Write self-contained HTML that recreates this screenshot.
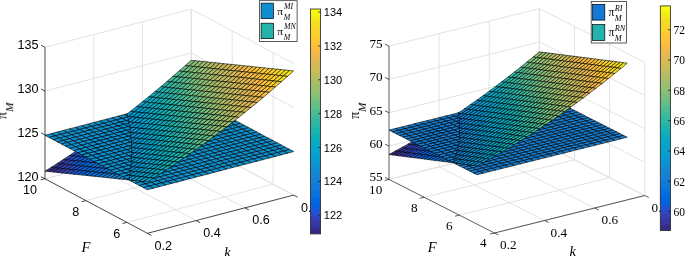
<!DOCTYPE html>
<html><head><meta charset="utf-8"><style>
html,body{margin:0;padding:0;background:#fff;}
svg{display:block;}
text{will-change:transform;}
</style></head><body>
<svg width="685" height="256" viewBox="0 0 685 256">
<rect width="685" height="256" fill="#fff"/>
<line x1="93.74" y1="166.07" x2="93.74" y2="34.56" stroke="#e0e0e0" stroke-width="0.9"/>
<line x1="196.14" y1="220.57" x2="93.74" y2="166.07" stroke="#e0e0e0" stroke-width="0.9"/>
<line x1="142.48" y1="153.33" x2="142.48" y2="21.83" stroke="#e0e0e0" stroke-width="0.9"/>
<line x1="244.88" y1="207.83" x2="142.48" y2="153.33" stroke="#e0e0e0" stroke-width="0.9"/>
<line x1="191.22" y1="140.6" x2="191.22" y2="9.09" stroke="#e0e0e0" stroke-width="0.9"/>
<line x1="293.62" y1="195.1" x2="191.22" y2="140.6" stroke="#e0e0e0" stroke-width="0.9"/>
<line x1="45" y1="178.8" x2="191.22" y2="140.6" stroke="#e0e0e0" stroke-width="0.9"/>
<line x1="293.62" y1="195.1" x2="191.22" y2="140.6" stroke="#e0e0e0" stroke-width="0.9"/>
<line x1="45" y1="134.97" x2="191.22" y2="96.76" stroke="#e0e0e0" stroke-width="0.9"/>
<line x1="293.62" y1="151.26" x2="191.22" y2="96.76" stroke="#e0e0e0" stroke-width="0.9"/>
<line x1="45" y1="91.13" x2="191.22" y2="52.93" stroke="#e0e0e0" stroke-width="0.9"/>
<line x1="293.62" y1="107.43" x2="191.22" y2="52.93" stroke="#e0e0e0" stroke-width="0.9"/>
<line x1="45" y1="47.3" x2="191.22" y2="9.09" stroke="#e0e0e0" stroke-width="0.9"/>
<line x1="293.62" y1="63.59" x2="191.22" y2="9.09" stroke="#e0e0e0" stroke-width="0.9"/>
<line x1="273.14" y1="184.2" x2="273.14" y2="52.69" stroke="#e0e0e0" stroke-width="0.9"/>
<line x1="126.92" y1="222.4" x2="273.14" y2="184.2" stroke="#e0e0e0" stroke-width="0.9"/>
<line x1="232.18" y1="162.4" x2="232.18" y2="30.89" stroke="#e0e0e0" stroke-width="0.9"/>
<line x1="85.96" y1="200.6" x2="232.18" y2="162.4" stroke="#e0e0e0" stroke-width="0.9"/>
<line x1="191.22" y1="140.6" x2="191.22" y2="9.09" stroke="#e0e0e0" stroke-width="0.9"/>
<line x1="45" y1="178.8" x2="191.22" y2="140.6" stroke="#e0e0e0" stroke-width="0.9"/>
<line x1="45" y1="178.8" x2="45" y2="47.3" stroke="#262626" stroke-width="0.85"/>
<line x1="45" y1="178.8" x2="147.4" y2="233.3" stroke="#262626" stroke-width="0.85"/>
<line x1="147.4" y1="233.3" x2="293.62" y2="195.1" stroke="#262626" stroke-width="0.85"/>
<line x1="45" y1="178.8" x2="41.03" y2="176.69" stroke="#262626" stroke-width="0.85"/>
<line x1="45" y1="134.97" x2="41.03" y2="132.85" stroke="#262626" stroke-width="0.85"/>
<line x1="45" y1="91.13" x2="41.03" y2="89.02" stroke="#262626" stroke-width="0.85"/>
<line x1="45" y1="47.3" x2="41.03" y2="45.18" stroke="#262626" stroke-width="0.85"/>
<line x1="126.92" y1="222.4" x2="122.57" y2="223.54" stroke="#262626" stroke-width="0.85"/>
<line x1="85.96" y1="200.6" x2="81.61" y2="201.74" stroke="#262626" stroke-width="0.85"/>
<line x1="45" y1="178.8" x2="40.65" y2="179.94" stroke="#262626" stroke-width="0.85"/>
<line x1="147.4" y1="233.3" x2="151.37" y2="235.41" stroke="#262626" stroke-width="0.85"/>
<line x1="196.14" y1="220.57" x2="200.11" y2="222.68" stroke="#262626" stroke-width="0.85"/>
<line x1="244.88" y1="207.83" x2="248.85" y2="209.95" stroke="#262626" stroke-width="0.85"/>
<line x1="293.62" y1="195.1" x2="297.59" y2="197.21" stroke="#262626" stroke-width="0.85"/>
<g stroke="#000" stroke-width="0.6">
<polygon points="127.1,113.9 124.2,116.1 127.7,116.5" fill="#0c93d2"/>
<polygon points="122.2,121.2 127.8,116.9 127.7,116.5 124.2,116.1 118.1,120.8" fill="#108ed2"/>
<polygon points="116.1,125.8 122.2,121.2 118.1,120.8 112,125.4" fill="#1485d4"/>
<polygon points="126.3,121.6 128.4,120 127.8,116.9 122.2,121.2" fill="#108ed2"/>
<polygon points="110,130.3 116.1,125.8 112,125.4 105.9,129.9" fill="#127dd8"/>
<polygon points="120.2,126.2 126.3,121.6 122.2,121.2 116.1,125.8" fill="#1389d3"/>
<polygon points="128.4,120 126.3,121.6 128.8,121.9" fill="#0c93d2"/>
<polygon points="103.9,134.8 110,130.3 105.9,129.9 99.8,134.3" fill="#1079da"/>
<polygon points="114.1,130.7 120.2,126.2 116.1,125.8 110,130.3" fill="#1481d6"/>
<polygon points="124.3,126.7 129,123.1 128.8,121.9 126.3,121.6 120.2,126.2" fill="#108ed2"/>
<polygon points="97.8,139.1 103.9,134.8 99.8,134.3 93.7,138.7" fill="#0871de"/>
<polygon points="108,135.2 114.1,130.7 110,130.3 103.9,134.8" fill="#127dd8"/>
<polygon points="118.2,131.2 124.3,126.7 120.2,126.2 114.1,130.7" fill="#1485d4"/>
<polygon points="91.7,143.4 97.8,139.1 93.7,138.7 87.6,143" fill="#046de0"/>
<polygon points="128.4,127.1 129.5,126.2 129,123.1 124.3,126.7" fill="#0c93d2"/>
<polygon points="101.9,139.6 108,135.2 103.9,134.8 97.8,139.1" fill="#0d75dc"/>
<polygon points="112.1,135.6 118.2,131.2 114.1,130.7 108,135.2" fill="#1481d6"/>
<polygon points="85.7,147.7 91.7,143.4 87.6,143 81.6,147.3" fill="#0363e1"/>
<polygon points="122.3,131.6 128.4,127.1 124.3,126.7 118.2,131.2" fill="#1389d3"/>
<polygon points="95.8,143.9 101.9,139.6 97.8,139.1 91.7,143.4" fill="#0871de"/>
<polygon points="129.5,126.2 128.4,127.1 129.7,127.2" fill="#0998d1"/>
<polygon points="106,140 112.1,135.6 108,135.2 101.9,139.6" fill="#1079da"/>
<polygon points="79.6,151.8 85.7,147.7 81.6,147.3 75.5,151.4" fill="#0f5cdd"/>
<polygon points="116.2,136 122.3,131.6 118.2,131.2 112.1,135.6" fill="#1485d4"/>
<polygon points="89.7,148.1 95.8,143.9 91.7,143.4 85.7,147.7" fill="#0268e1"/>
<polygon points="126.4,132 130,129.4 129.7,127.2 128.4,127.1 122.3,131.6" fill="#108ed2"/>
<polygon points="99.9,144.3 106,140 101.9,139.6 95.8,143.9" fill="#0d75dc"/>
<polygon points="73.5,155.9 79.6,151.8 75.5,151.4 69.4,155.5" fill="#2c4ac7"/>
<polygon points="110.1,140.4 116.2,136 112.1,135.6 106,140" fill="#127dd8"/>
<polygon points="83.7,152.3 89.7,148.1 85.7,147.7 79.6,151.8" fill="#0363e1"/>
<polygon points="120.3,136.5 126.4,132 122.3,131.6 116.2,136" fill="#1389d3"/>
<polygon points="93.8,148.5 99.9,144.3 95.8,143.9 89.7,148.1" fill="#046de0"/>
<polygon points="130,129.4 126.4,132 130.4,132.5" fill="#0c93d2"/>
<polygon points="67.4,160 73.5,155.9 69.4,155.5 63.3,159.5" fill="#3243ba"/>
<polygon points="104,144.7 110.1,140.4 106,140 99.9,144.3" fill="#1079da"/>
<polygon points="77.6,156.4 83.7,152.3 79.6,151.8 73.5,155.9" fill="#2053d4"/>
<polygon points="114.2,140.8 120.3,136.5 116.2,136 110.1,140.4" fill="#1481d6"/>
<polygon points="87.8,152.7 93.8,148.5 89.7,148.1 83.7,152.3" fill="#0268e1"/>
<polygon points="124.4,136.9 130.5,132.5 130.4,132.5 126.4,132 120.3,136.5" fill="#108ed2"/>
<polygon points="61.3,163.9 67.4,160 63.3,159.5 57.2,163.5" fill="#353dad"/>
<polygon points="97.9,149 104,144.7 99.9,144.3 93.8,148.5" fill="#0871de"/>
<polygon points="71.5,160.4 77.6,156.4 73.5,155.9 67.4,160" fill="#2c4ac7"/>
<polygon points="108.1,145.2 114.2,140.8 110.1,140.4 104,144.7" fill="#127dd8"/>
<polygon points="81.7,156.8 87.8,152.7 83.7,152.3 77.6,156.4" fill="#0f5cdd"/>
<polygon points="118.3,141.3 124.4,136.9 120.3,136.5 114.2,140.8" fill="#1485d4"/>
<polygon points="55.2,167.8 61.3,163.9 57.2,163.5 51.1,167.4" fill="#3637a0"/>
<polygon points="91.8,153.1 97.9,149 93.8,148.5 87.8,152.7" fill="#046de0"/>
<polygon points="128.5,137.3 130.8,135.6 130.5,132.5 124.4,136.9" fill="#108ed2"/>
<polygon points="65.4,164.3 71.5,160.4 67.4,160 61.3,163.9" fill="#3243ba"/>
<polygon points="102,149.4 108.1,145.2 104,144.7 97.9,149" fill="#0d75dc"/>
<polygon points="75.6,160.8 81.7,156.8 77.6,156.4 71.5,160.4" fill="#2053d4"/>
<polygon points="112.2,145.6 118.3,141.3 114.2,140.8 108.1,145.2" fill="#127dd8"/>
<polygon points="49.1,171.6 55.2,167.8 51.1,167.4 45,171.2" fill="#352a87"/>
<polygon points="85.8,157.2 91.8,153.1 87.8,152.7 81.7,156.8" fill="#0363e1"/>
<polygon points="122.4,141.7 128.5,137.3 124.4,136.9 118.3,141.3" fill="#1389d3"/>
<polygon points="59.3,168.2 65.4,164.3 61.3,163.9 55.2,167.8" fill="#353dad"/>
<polygon points="95.9,153.5 102,149.4 97.9,149 91.8,153.1" fill="#0871de"/>
<polygon points="130.8,135.6 128.5,137.3 131,137.6" fill="#0c93d2"/>
<polygon points="69.5,164.8 75.6,160.8 71.5,160.4 65.4,164.3" fill="#2c4ac7"/>
<polygon points="106.1,149.8 112.2,145.6 108.1,145.2 102,149.4" fill="#1079da"/>
<polygon points="79.7,161.2 85.8,157.2 81.7,156.8 75.6,160.8" fill="#0f5cdd"/>
<polygon points="116.3,146 122.4,141.7 118.3,141.3 112.2,145.6" fill="#1481d6"/>
<polygon points="53.2,172 59.3,168.2 55.2,167.8 49.1,171.6" fill="#363093"/>
<polygon points="89.9,157.6 95.9,153.5 91.8,153.1 85.8,157.2" fill="#0268e1"/>
<polygon points="126.5,142.1 131.1,138.8 131,137.6 128.5,137.3 122.4,141.7" fill="#108ed2"/>
<polygon points="63.4,168.6 69.5,164.8 65.4,164.3 59.3,168.2" fill="#353dad"/>
<polygon points="100,154 106.1,149.8 102,149.4 95.9,153.5" fill="#0d75dc"/>
<polygon points="73.6,165.2 79.7,161.2 75.6,160.8 69.5,164.8" fill="#2053d4"/>
<polygon points="110.2,150.2 116.3,146 112.2,145.6 106.1,149.8" fill="#127dd8"/>
<polygon points="83.8,161.7 89.9,157.6 85.8,157.2 79.7,161.2" fill="#0363e1"/>
<polygon points="120.4,146.4 126.5,142.1 122.4,141.7 116.3,146" fill="#1485d4"/>
<polygon points="57.3,172.5 63.4,168.6 59.3,168.2 53.2,172" fill="#3637a0"/>
<polygon points="93.9,158.1 100,154 95.9,153.5 89.9,157.6" fill="#046de0"/>
<polygon points="130.6,142.6 131.4,142 131.1,138.8 126.5,142.1" fill="#0c93d2"/>
<polygon points="67.5,169.1 73.6,165.2 69.5,164.8 63.4,168.6" fill="#3243ba"/>
<polygon points="104.1,154.4 110.2,150.2 106.1,149.8 100,154" fill="#1079da"/>
<polygon points="77.7,165.6 83.8,161.7 79.7,161.2 73.6,165.2" fill="#0f5cdd"/>
<polygon points="114.3,150.7 120.4,146.4 116.3,146 110.2,150.2" fill="#1481d6"/>
<polygon points="87.9,162.1 93.9,158.1 89.9,157.6 83.8,161.7" fill="#0268e1"/>
<polygon points="124.5,146.9 130.6,142.6 126.5,142.1 120.4,146.4" fill="#1389d3"/>
<polygon points="61.4,172.9 67.5,169.1 63.4,168.6 57.3,172.5" fill="#353dad"/>
<polygon points="98,158.5 104.1,154.4 100,154 93.9,158.1" fill="#0871de"/>
<polygon points="131.4,142 130.6,142.6 131.4,142.6" fill="#0998d1"/>
<polygon points="71.6,169.5 77.7,165.6 73.6,165.2 67.5,169.1" fill="#2c4ac7"/>
<polygon points="108.2,154.8 114.3,150.7 110.2,150.2 104.1,154.4" fill="#127dd8"/>
<polygon points="81.8,166 87.9,162.1 83.8,161.7 77.7,165.6" fill="#0363e1"/>
<polygon points="118.4,151.1 124.5,146.9 120.4,146.4 114.3,150.7" fill="#1485d4"/>
<polygon points="91.9,162.5 98,158.5 93.9,158.1 87.9,162.1" fill="#046de0"/>
<polygon points="128.6,147.3 131.6,145.2 131.4,142.6 130.6,142.6 124.5,146.9" fill="#108ed2"/>
<polygon points="65.5,173.3 71.6,169.5 67.5,169.1 61.4,172.9" fill="#3243ba"/>
<polygon points="102.1,158.9 108.2,154.8 104.1,154.4 98,158.5" fill="#0d75dc"/>
<polygon points="75.7,169.9 81.8,166 77.7,165.6 71.6,169.5" fill="#2053d4"/>
<polygon points="112.3,155.3 118.4,151.1 114.3,150.7 108.2,154.8" fill="#1481d6"/>
<polygon points="85.9,166.5 91.9,162.5 87.9,162.1 81.8,166" fill="#0268e1"/>
<polygon points="122.5,151.5 128.6,147.3 124.5,146.9 118.4,151.1" fill="#1389d3"/>
<polygon points="96,162.9 102.1,158.9 98,158.5 91.9,162.5" fill="#0871de"/>
<polygon points="131.6,145.2 128.6,147.3 131.7,147.6" fill="#0c93d2"/>
<polygon points="69.6,173.7 75.7,169.9 71.6,169.5 65.5,173.3" fill="#2c4ac7"/>
<polygon points="106.2,159.3 112.3,155.3 108.2,154.8 102.1,158.9" fill="#1079da"/>
<polygon points="79.8,170.3 85.9,166.5 81.8,166 75.7,169.9" fill="#0f5cdd"/>
<polygon points="116.4,155.7 122.5,151.5 118.4,151.1 112.3,155.3" fill="#1481d6"/>
<polygon points="90,166.9 96,162.9 91.9,162.5 85.9,166.5" fill="#046de0"/>
<polygon points="126.6,151.9 131.7,148.4 131.7,147.6 128.6,147.3 122.5,151.5" fill="#108ed2"/>
<polygon points="100.1,163.4 106.2,159.3 102.1,158.9 96,162.9" fill="#0d75dc"/>
<polygon points="73.7,174.2 79.8,170.3 75.7,169.9 69.6,173.7" fill="#2053d4"/>
<polygon points="110.3,159.8 116.4,155.7 112.3,155.3 106.2,159.3" fill="#127dd8"/>
<polygon points="83.9,170.8 90,166.9 85.9,166.5 79.8,170.3" fill="#0363e1"/>
<polygon points="120.5,156.1 126.6,151.9 122.5,151.5 116.4,155.7" fill="#1485d4"/>
<polygon points="94,167.3 100.1,163.4 96,162.9 90,166.9" fill="#0871de"/>
<polygon points="130.7,152.4 131.7,151.7 131.7,148.4 126.6,151.9" fill="#0c93d2"/>
<polygon points="104.2,163.8 110.3,159.8 106.2,159.3 100.1,163.4" fill="#1079da"/>
<polygon points="77.8,174.6 83.9,170.8 79.8,170.3 73.7,174.2" fill="#0f5cdd"/>
<polygon points="114.4,160.2 120.5,156.1 116.4,155.7 110.3,159.8" fill="#1481d6"/>
<polygon points="88,171.2 94,167.3 90,166.9 83.9,170.8" fill="#0268e1"/>
<polygon points="124.6,156.5 130.7,152.4 126.6,151.9 120.5,156.1" fill="#1389d3"/>
<polygon points="98.1,167.7 104.2,163.8 100.1,163.4 94,167.3" fill="#0871de"/>
<polygon points="131.7,151.7 130.7,152.4 131.8,152.5" fill="#0998d1"/>
<polygon points="108.3,164.2 114.4,160.2 110.3,159.8 104.2,163.8" fill="#127dd8"/>
<polygon points="81.9,175 88,171.2 83.9,170.8 77.8,174.6" fill="#0363e1"/>
<polygon points="118.5,160.6 124.6,156.5 120.5,156.1 114.4,160.2" fill="#1485d4"/>
<polygon points="92.1,171.6 98.1,167.7 94,167.3 88,171.2" fill="#046de0"/>
<polygon points="128.7,157 131.7,154.9 131.8,152.5 130.7,152.4 124.6,156.5" fill="#108ed2"/>
<polygon points="102.2,168.2 108.3,164.2 104.2,163.8 98.1,167.7" fill="#0d75dc"/>
<polygon points="112.4,164.7 118.5,160.6 114.4,160.2 108.3,164.2" fill="#1481d6"/>
<polygon points="86,175.4 92.1,171.6 88,171.2 81.9,175" fill="#0268e1"/>
<polygon points="122.6,161.1 128.7,157 124.6,156.5 118.5,160.6" fill="#1389d3"/>
<polygon points="96.1,172.1 102.2,168.2 98.1,167.7 92.1,171.6" fill="#0871de"/>
<polygon points="131.7,154.9 128.7,157 131.7,157.3" fill="#0c93d2"/>
<polygon points="106.3,168.6 112.4,164.7 108.3,164.2 102.2,168.2" fill="#1079da"/>
<polygon points="116.5,165.1 122.6,161.1 118.5,160.6 112.4,164.7" fill="#1485d4"/>
<polygon points="90.1,175.9 96.1,172.1 92.1,171.6 86,175.4" fill="#046de0"/>
<polygon points="126.7,161.5 131.6,158.2 131.7,157.3 128.7,157 122.6,161.1" fill="#108ed2"/>
<polygon points="100.2,172.5 106.3,168.6 102.2,168.2 96.1,172.1" fill="#0d75dc"/>
<polygon points="110.4,169 116.5,165.1 112.4,164.7 106.3,168.6" fill="#127dd8"/>
<polygon points="120.6,165.5 126.7,161.5 122.6,161.1 116.5,165.1" fill="#1389d3"/>
<polygon points="94.2,176.3 100.2,172.5 96.1,172.1 90.1,175.9" fill="#0871de"/>
<polygon points="130.8,161.9 131.4,161.5 131.6,158.2 126.7,161.5" fill="#0c93d2"/>
<polygon points="104.3,172.9 110.4,169 106.3,168.6 100.2,172.5" fill="#1079da"/>
<polygon points="114.5,169.5 120.6,165.5 116.5,165.1 110.4,169" fill="#1481d6"/>
<polygon points="124.7,165.9 130.8,161.9 126.7,161.5 120.6,165.5" fill="#108ed2"/>
<polygon points="98.2,176.7 104.3,172.9 100.2,172.5 94.2,176.3" fill="#0d75dc"/>
<polygon points="131.4,161.5 130.8,161.9 131.4,162" fill="#0998d1"/>
<polygon points="108.4,173.3 114.5,169.5 110.4,169 104.3,172.9" fill="#127dd8"/>
<polygon points="118.6,169.9 124.7,165.9 120.6,165.5 114.5,169.5" fill="#1485d4"/>
<polygon points="128.8,166.4 131.2,164.8 131.4,162 130.8,161.9 124.7,165.9" fill="#0c93d2"/>
<polygon points="102.3,177.1 108.4,173.3 104.3,172.9 98.2,176.7" fill="#1079da"/>
<polygon points="112.5,173.8 118.6,169.9 114.5,169.5 108.4,173.3" fill="#1481d6"/>
<polygon points="122.7,170.3 128.8,166.4 124.7,165.9 118.6,169.9" fill="#1389d3"/>
<polygon points="131.2,164.8 128.8,166.4 131,166.6" fill="#0998d1"/>
<polygon points="106.4,177.6 112.5,173.8 108.4,173.3 102.3,177.1" fill="#127dd8"/>
<polygon points="116.6,174.2 122.7,170.3 118.6,169.9 112.5,173.8" fill="#1485d4"/>
<polygon points="126.8,170.7 130.8,168.2 131,166.6 128.8,166.4 122.7,170.3" fill="#108ed2"/>
<polygon points="110.5,178 116.6,174.2 112.5,173.8 106.4,177.6" fill="#1481d6"/>
<polygon points="120.7,174.6 126.8,170.7 122.7,170.3 116.6,174.2" fill="#1389d3"/>
<polygon points="130.8,168.2 126.8,170.7 130.4,171.1" fill="#0c93d2"/>
<polygon points="114.6,178.4 120.7,174.6 116.6,174.2 110.5,178" fill="#1485d4"/>
<polygon points="124.8,175 130.4,171.5 130.4,171.1 126.8,170.7 120.7,174.6" fill="#108ed2"/>
<polygon points="118.7,178.9 124.8,175 120.7,174.6 114.6,178.4" fill="#1389d3"/>
<polygon points="128.9,175.5 129.8,174.9 130.4,171.5 124.8,175" fill="#0c93d2"/>
<polygon points="122.8,179.3 128.9,175.5 124.8,175 118.7,178.9" fill="#108ed2"/>
<polygon points="129.8,174.9 128.9,175.5 129.7,175.5" fill="#0998d1"/>
<polygon points="126.9,179.7 129.1,178.3 129.7,175.5 128.9,175.5 122.8,179.3" fill="#0c93d2"/>
<polygon points="129.1,178.3 126.9,179.7 128.8,179.9" fill="#0998d1"/>
<polygon points="189.2,100.9 195.3,99.3 191.2,97.1 185.1,98.7" fill="#0c93d2"/>
<polygon points="183.1,102.5 189.2,100.9 185.1,98.7 179,100.3" fill="#0c93d2"/>
<polygon points="193.3,103.1 199.4,101.5 195.3,99.3 189.2,100.9" fill="#0c93d2"/>
<polygon points="177,104.1 183.1,102.5 179,100.3 172.9,101.9" fill="#0c93d2"/>
<polygon points="187.2,104.7 193.3,103.1 189.2,100.9 183.1,102.5" fill="#0c93d2"/>
<polygon points="197.4,105.2 203.5,103.7 199.4,101.5 193.3,103.1" fill="#0c93d2"/>
<polygon points="170.9,105.7 177,104.1 172.9,101.9 166.9,103.5" fill="#0c93d2"/>
<polygon points="181.1,106.2 187.2,104.7 183.1,102.5 177,104.1" fill="#0c93d2"/>
<polygon points="191.3,106.8 197.4,105.2 193.3,103.1 187.2,104.7" fill="#0c93d2"/>
<polygon points="164.9,107.3 170.9,105.7 166.9,103.5 160.8,105.1" fill="#0c93d2"/>
<polygon points="201.5,107.4 207.6,105.8 203.5,103.7 197.4,105.2" fill="#0c93d2"/>
<polygon points="175,107.8 181.1,106.2 177,104.1 170.9,105.7" fill="#0c93d2"/>
<polygon points="185.2,108.4 191.3,106.8 187.2,104.7 181.1,106.2" fill="#0c93d2"/>
<polygon points="158.8,108.8 164.9,107.3 160.8,105.1 154.7,106.7" fill="#0c93d2"/>
<polygon points="195.4,109 201.5,107.4 197.4,105.2 191.3,106.8" fill="#0c93d2"/>
<polygon points="168.9,109.4 175,107.8 170.9,105.7 164.9,107.3" fill="#0c93d2"/>
<polygon points="205.6,109.6 211.7,108 207.6,105.8 201.5,107.4" fill="#0c93d2"/>
<polygon points="179.1,110 185.2,108.4 181.1,106.2 175,107.8" fill="#0c93d2"/>
<polygon points="152.7,110.4 158.8,108.8 154.7,106.7 148.6,108.3" fill="#0c93d2"/>
<polygon points="189.3,110.6 195.4,109 191.3,106.8 185.2,108.4" fill="#0c93d2"/>
<polygon points="162.9,111 168.9,109.4 164.9,107.3 158.8,108.8" fill="#0c93d2"/>
<polygon points="199.5,111.2 205.6,109.6 201.5,107.4 195.4,109" fill="#0c93d2"/>
<polygon points="173,111.6 179.1,110 175,107.8 168.9,109.4" fill="#0c93d2"/>
<polygon points="209.7,111.8 215.8,110.2 211.7,108 205.6,109.6" fill="#0c93d2"/>
<polygon points="146.6,112 152.7,110.4 148.6,108.3 142.5,109.8" fill="#0c93d2"/>
<polygon points="183.2,112.2 189.3,110.6 185.2,108.4 179.1,110" fill="#0c93d2"/>
<polygon points="156.8,112.6 162.9,111 158.8,108.8 152.7,110.4" fill="#0c93d2"/>
<polygon points="193.4,112.8 199.5,111.2 195.4,109 189.3,110.6" fill="#0c93d2"/>
<polygon points="167,113.2 173,111.6 168.9,109.4 162.9,111" fill="#0c93d2"/>
<polygon points="203.6,113.4 209.7,111.8 205.6,109.6 199.5,111.2" fill="#0c93d2"/>
<polygon points="140.5,113.6 146.6,112 142.5,109.8 136.4,111.4" fill="#0c93d2"/>
<polygon points="177.1,113.8 183.2,112.2 179.1,110 173,111.6" fill="#0c93d2"/>
<polygon points="213.8,114 219.9,112.4 215.8,110.2 209.7,111.8" fill="#0c93d2"/>
<polygon points="150.7,114.2 156.8,112.6 152.7,110.4 146.6,112" fill="#0c93d2"/>
<polygon points="187.3,114.4 193.4,112.8 189.3,110.6 183.2,112.2" fill="#0c93d2"/>
<polygon points="160.9,114.8 167,113.2 162.9,111 156.8,112.6" fill="#0c93d2"/>
<polygon points="197.5,115 203.6,113.4 199.5,111.2 193.4,112.8" fill="#0c93d2"/>
<polygon points="134.4,115.2 140.5,113.6 136.4,111.4 130.3,113" fill="#0c93d2"/>
<polygon points="171,115.4 177.1,113.8 173,111.6 167,113.2" fill="#0c93d2"/>
<polygon points="207.7,115.6 213.8,114 209.7,111.8 203.6,113.4" fill="#0c93d2"/>
<polygon points="144.6,115.8 150.7,114.2 146.6,112 140.5,113.6" fill="#0c93d2"/>
<polygon points="181.2,116 187.3,114.4 183.2,112.2 177.1,113.8" fill="#0c93d2"/>
<polygon points="217.9,116.1 224,114.6 219.9,112.4 213.8,114" fill="#0c93d2"/>
<polygon points="154.8,116.4 160.9,114.8 156.8,112.6 150.7,114.2" fill="#0c93d2"/>
<polygon points="191.4,116.6 197.5,115 193.4,112.8 187.3,114.4" fill="#0c93d2"/>
<polygon points="128.3,116.8 134.4,115.2 130.3,113 124.2,114.6" fill="#0c93d2"/>
<polygon points="165,117 171,115.4 167,113.2 160.9,114.8" fill="#0c93d2"/>
<polygon points="201.6,117.1 207.7,115.6 203.6,113.4 197.5,115" fill="#0c93d2"/>
<polygon points="138.5,117.4 144.6,115.8 140.5,113.6 134.4,115.2" fill="#0c93d2"/>
<polygon points="175.1,117.6 181.2,116 177.1,113.8 171,115.4" fill="#0c93d2"/>
<polygon points="211.8,117.7 217.9,116.1 213.8,114 207.7,115.6" fill="#0c93d2"/>
<polygon points="148.7,118 154.8,116.4 150.7,114.2 144.6,115.8" fill="#0c93d2"/>
<polygon points="185.3,118.2 191.4,116.6 187.3,114.4 181.2,116" fill="#0c93d2"/>
<polygon points="222,118.3 228.1,116.7 224,114.6 217.9,116.1" fill="#0c93d2"/>
<polygon points="122.2,118.4 128.3,116.8 124.2,114.6 118.1,116.2" fill="#0c93d2"/>
<polygon points="158.9,118.6 165,117 160.9,114.8 154.8,116.4" fill="#0c93d2"/>
<polygon points="195.5,118.7 201.6,117.1 197.5,115 191.4,116.6" fill="#0c93d2"/>
<polygon points="132.4,119 138.5,117.4 134.4,115.2 128.3,116.8" fill="#0c93d2"/>
<polygon points="169.1,119.2 175.1,117.6 171,115.4 165,117" fill="#0c93d2"/>
<polygon points="205.7,119.3 211.8,117.7 207.7,115.6 201.6,117.1" fill="#0c93d2"/>
<polygon points="142.6,119.6 148.7,118 144.6,115.8 138.5,117.4" fill="#0c93d2"/>
<polygon points="179.2,119.7 185.3,118.2 181.2,116 175.1,117.6" fill="#0c93d2"/>
<polygon points="215.9,119.9 222,118.3 217.9,116.1 211.8,117.7" fill="#0c93d2"/>
<polygon points="116.1,120 122.2,118.4 118.1,116.2 112,117.8" fill="#0c93d2"/>
<polygon points="152.8,120.2 158.9,118.6 154.8,116.4 148.7,118" fill="#0c93d2"/>
<polygon points="189.4,120.3 195.5,118.7 191.4,116.6 185.3,118.2" fill="#0c93d2"/>
<polygon points="226.1,120.5 232.2,118.9 228.1,116.7 222,118.3" fill="#0c93d2"/>
<polygon points="126.3,120.6 132.4,119 128.3,116.8 122.2,118.4" fill="#0c93d2"/>
<polygon points="163,120.7 169.1,119.2 165,117 158.9,118.6" fill="#0c93d2"/>
<polygon points="199.6,120.9 205.7,119.3 201.6,117.1 195.5,118.7" fill="#0c93d2"/>
<polygon points="136.5,121.2 142.6,119.6 138.5,117.4 132.4,119" fill="#0c93d2"/>
<polygon points="173.1,121.3 179.2,119.7 175.1,117.6 169.1,119.2" fill="#0c93d2"/>
<polygon points="209.8,121.5 215.9,119.9 211.8,117.7 205.7,119.3" fill="#0c93d2"/>
<polygon points="110,121.6 116.1,120 112,117.8 105.9,119.4" fill="#0c93d2"/>
<polygon points="146.7,121.8 152.8,120.2 148.7,118 142.6,119.6" fill="#0c93d2"/>
<polygon points="183.3,121.9 189.4,120.3 185.3,118.2 179.2,119.7" fill="#0c93d2"/>
<polygon points="220,122.1 226.1,120.5 222,118.3 215.9,119.9" fill="#0c93d2"/>
<polygon points="120.2,122.2 126.3,120.6 122.2,118.4 116.1,120" fill="#0c93d2"/>
<polygon points="156.9,122.3 163,120.7 158.9,118.6 152.8,120.2" fill="#0c93d2"/>
<polygon points="193.5,122.5 199.6,120.9 195.5,118.7 189.4,120.3" fill="#0c93d2"/>
<polygon points="230.2,122.7 236.3,121.1 232.2,118.9 226.1,120.5" fill="#0c93d2"/>
<polygon points="130.4,122.8 136.5,121.2 132.4,119 126.3,120.6" fill="#0c93d2"/>
<polygon points="167.1,122.9 173.1,121.3 169.1,119.2 163,120.7" fill="#0c93d2"/>
<polygon points="203.7,123.1 209.8,121.5 205.7,119.3 199.6,120.9" fill="#0c93d2"/>
<polygon points="103.9,123.2 110,121.6 105.9,119.4 99.8,121" fill="#0c93d2"/>
<polygon points="140.6,123.3 146.7,121.8 142.6,119.6 136.5,121.2" fill="#0c93d2"/>
<polygon points="177.2,123.5 183.3,121.9 179.2,119.7 173.1,121.3" fill="#0c93d2"/>
<polygon points="213.9,123.7 220,122.1 215.9,119.9 209.8,121.5" fill="#0c93d2"/>
<polygon points="114.1,123.8 120.2,122.2 116.1,120 110,121.6" fill="#0c93d2"/>
<polygon points="150.8,123.9 156.9,122.3 152.8,120.2 146.7,121.8" fill="#0c93d2"/>
<polygon points="187.4,124.1 193.5,122.5 189.4,120.3 183.3,121.9" fill="#0c93d2"/>
<polygon points="224.1,124.3 230.2,122.7 226.1,120.5 220,122.1" fill="#0c93d2"/>
<polygon points="124.3,124.3 130.4,122.8 126.3,120.6 120.2,122.2" fill="#0c93d2"/>
<polygon points="161,124.5 167.1,122.9 163,120.7 156.9,122.3" fill="#0c93d2"/>
<polygon points="197.6,124.7 203.7,123.1 199.6,120.9 193.5,122.5" fill="#0c93d2"/>
<polygon points="234.3,124.9 240.4,123.3 236.3,121.1 230.2,122.7" fill="#0c93d2"/>
<polygon points="97.8,124.8 103.9,123.2 99.8,121 93.7,122.6" fill="#0c93d2"/>
<polygon points="134.5,124.9 140.6,123.3 136.5,121.2 130.4,122.8" fill="#0c93d2"/>
<polygon points="171.2,125.1 177.2,123.5 173.1,121.3 167.1,122.9" fill="#0c93d2"/>
<polygon points="207.8,125.3 213.9,123.7 209.8,121.5 203.7,123.1" fill="#0c93d2"/>
<polygon points="108,125.3 114.1,123.8 110,121.6 103.9,123.2" fill="#0c93d2"/>
<polygon points="144.7,125.5 150.8,123.9 146.7,121.8 140.6,123.3" fill="#0c93d2"/>
<polygon points="181.3,125.7 187.4,124.1 183.3,121.9 177.2,123.5" fill="#0c93d2"/>
<polygon points="218,125.9 224.1,124.3 220,122.1 213.9,123.7" fill="#0c93d2"/>
<polygon points="118.2,125.9 124.3,124.3 120.2,122.2 114.1,123.8" fill="#0c93d2"/>
<polygon points="154.9,126.1 161,124.5 156.9,122.3 150.8,123.9" fill="#0c93d2"/>
<polygon points="191.5,126.3 197.6,124.7 193.5,122.5 187.4,124.1" fill="#0c93d2"/>
<polygon points="228.2,126.5 234.3,124.9 230.2,122.7 224.1,124.3" fill="#0c93d2"/>
<polygon points="91.7,126.4 97.8,124.8 93.7,122.6 87.6,124.2" fill="#0c93d2"/>
<polygon points="128.4,126.5 134.5,124.9 130.4,122.8 124.3,124.3" fill="#0c93d2"/>
<polygon points="165.1,126.7 171.2,125.1 167.1,122.9 161,124.5" fill="#0c93d2"/>
<polygon points="201.7,126.9 207.8,125.3 203.7,123.1 197.6,124.7" fill="#0c93d2"/>
<polygon points="238.4,127 244.5,125.5 240.4,123.3 234.3,124.9" fill="#0c93d2"/>
<polygon points="101.9,126.9 108,125.3 103.9,123.2 97.8,124.8" fill="#0c93d2"/>
<polygon points="138.6,127.1 144.7,125.5 140.6,123.3 134.5,124.9" fill="#0c93d2"/>
<polygon points="175.2,127.3 181.3,125.7 177.2,123.5 171.2,125.1" fill="#0c93d2"/>
<polygon points="211.9,127.5 218,125.9 213.9,123.7 207.8,125.3" fill="#0c93d2"/>
<polygon points="112.1,127.5 118.2,125.9 114.1,123.8 108,125.3" fill="#0c93d2"/>
<polygon points="148.8,127.7 154.9,126.1 150.8,123.9 144.7,125.5" fill="#0c93d2"/>
<polygon points="185.4,127.9 191.5,126.3 187.4,124.1 181.3,125.7" fill="#0c93d2"/>
<polygon points="222.1,128 228.2,126.5 224.1,124.3 218,125.9" fill="#0c93d2"/>
<polygon points="85.7,127.9 91.7,126.4 87.6,124.2 81.6,125.8" fill="#0c93d2"/>
<polygon points="122.3,128.1 128.4,126.5 124.3,124.3 118.2,125.9" fill="#0c93d2"/>
<polygon points="159,128.3 165.1,126.7 161,124.5 154.9,126.1" fill="#0c93d2"/>
<polygon points="195.6,128.5 201.7,126.9 197.6,124.7 191.5,126.3" fill="#0c93d2"/>
<polygon points="232.3,128.6 238.4,127 234.3,124.9 228.2,126.5" fill="#0c93d2"/>
<polygon points="95.8,128.5 101.9,126.9 97.8,124.8 91.7,126.4" fill="#0c93d2"/>
<polygon points="132.5,128.7 138.6,127.1 134.5,124.9 128.4,126.5" fill="#0c93d2"/>
<polygon points="169.2,128.9 175.2,127.3 171.2,125.1 165.1,126.7" fill="#0c93d2"/>
<polygon points="205.8,129.1 211.9,127.5 207.8,125.3 201.7,126.9" fill="#0c93d2"/>
<polygon points="242.5,129.2 248.6,127.6 244.5,125.5 238.4,127" fill="#0c93d2"/>
<polygon points="106,129.1 112.1,127.5 108,125.3 101.9,126.9" fill="#0c93d2"/>
<polygon points="142.7,129.3 148.8,127.7 144.7,125.5 138.6,127.1" fill="#0c93d2"/>
<polygon points="179.3,129.5 185.4,127.9 181.3,125.7 175.2,127.3" fill="#0c93d2"/>
<polygon points="216,129.6 222.1,128 218,125.9 211.9,127.5" fill="#0c93d2"/>
<polygon points="79.6,129.5 85.7,127.9 81.6,125.8 75.5,127.4" fill="#0c93d2"/>
<polygon points="116.2,129.7 122.3,128.1 118.2,125.9 112.1,127.5" fill="#0c93d2"/>
<polygon points="152.9,129.9 159,128.3 154.9,126.1 148.8,127.7" fill="#0c93d2"/>
<polygon points="189.5,130.1 195.6,128.5 191.5,126.3 185.4,127.9" fill="#0c93d2"/>
<polygon points="226.2,130.2 232.3,128.6 228.2,126.5 222.1,128" fill="#0c93d2"/>
<polygon points="89.7,130.1 95.8,128.5 91.7,126.4 85.7,127.9" fill="#0c93d2"/>
<polygon points="126.4,130.3 132.5,128.7 128.4,126.5 122.3,128.1" fill="#0c93d2"/>
<polygon points="163.1,130.5 169.2,128.9 165.1,126.7 159,128.3" fill="#0c93d2"/>
<polygon points="199.7,130.6 205.8,129.1 201.7,126.9 195.6,128.5" fill="#0c93d2"/>
<polygon points="236.4,130.8 242.5,129.2 238.4,127 232.3,128.6" fill="#0c93d2"/>
<polygon points="99.9,130.7 106,129.1 101.9,126.9 95.8,128.5" fill="#0c93d2"/>
<polygon points="136.6,130.9 142.7,129.3 138.6,127.1 132.5,128.7" fill="#0c93d2"/>
<polygon points="173.3,131.1 179.3,129.5 175.2,127.3 169.2,128.9" fill="#0c93d2"/>
<polygon points="209.9,131.2 216,129.6 211.9,127.5 205.8,129.1" fill="#0c93d2"/>
<polygon points="73.5,131.1 79.6,129.5 75.5,127.4 69.4,128.9" fill="#0c93d2"/>
<polygon points="246.6,131.4 252.7,129.8 248.6,127.6 242.5,129.2" fill="#0c93d2"/>
<polygon points="110.1,131.3 116.2,129.7 112.1,127.5 106,129.1" fill="#0c93d2"/>
<polygon points="146.8,131.5 152.9,129.9 148.8,127.7 142.7,129.3" fill="#0c93d2"/>
<polygon points="183.4,131.6 189.5,130.1 185.4,127.9 179.3,129.5" fill="#0c93d2"/>
<polygon points="220.1,131.8 226.2,130.2 222.1,128 216,129.6" fill="#0c93d2"/>
<polygon points="83.7,131.7 89.7,130.1 85.7,127.9 79.6,129.5" fill="#0c93d2"/>
<polygon points="120.3,131.9 126.4,130.3 122.3,128.1 116.2,129.7" fill="#0c93d2"/>
<polygon points="157,132.1 163.1,130.5 159,128.3 152.9,129.9" fill="#0c93d2"/>
<polygon points="193.6,132.2 199.7,130.6 195.6,128.5 189.5,130.1" fill="#0c93d2"/>
<polygon points="230.3,132.4 236.4,130.8 232.3,128.6 226.2,130.2" fill="#0c93d2"/>
<polygon points="93.8,132.3 99.9,130.7 95.8,128.5 89.7,130.1" fill="#0c93d2"/>
<polygon points="130.5,132.5 136.6,130.9 132.5,128.7 126.4,130.3" fill="#0c93d2"/>
<polygon points="167.2,132.7 173.3,131.1 169.2,128.9 163.1,130.5" fill="#0c93d2"/>
<polygon points="203.8,132.8 209.9,131.2 205.8,129.1 199.7,130.6" fill="#0c93d2"/>
<polygon points="67.4,132.7 73.5,131.1 69.4,128.9 63.3,130.5" fill="#0c93d2"/>
<polygon points="240.5,133 246.6,131.4 242.5,129.2 236.4,130.8" fill="#0c93d2"/>
<polygon points="104,132.9 110.1,131.3 106,129.1 99.9,130.7" fill="#0c93d2"/>
<polygon points="140.7,133.1 146.8,131.5 142.7,129.3 136.6,130.9" fill="#0c93d2"/>
<polygon points="177.3,133.2 183.4,131.6 179.3,129.5 173.3,131.1" fill="#0c93d2"/>
<polygon points="214,133.4 220.1,131.8 216,129.6 209.9,131.2" fill="#0c93d2"/>
<polygon points="77.6,133.3 83.7,131.7 79.6,129.5 73.5,131.1" fill="#0c93d2"/>
<polygon points="250.7,133.6 256.8,132 252.7,129.8 246.6,131.4" fill="#0c93d2"/>
<polygon points="114.2,133.5 120.3,131.9 116.2,129.7 110.1,131.3" fill="#0c93d2"/>
<polygon points="150.9,133.7 157,132.1 152.9,129.9 146.8,131.5" fill="#0c93d2"/>
<polygon points="187.5,133.8 193.6,132.2 189.5,130.1 183.4,131.6" fill="#0c93d2"/>
<polygon points="224.2,134 230.3,132.4 226.2,130.2 220.1,131.8" fill="#0c93d2"/>
<polygon points="87.8,133.9 93.8,132.3 89.7,130.1 83.7,131.7" fill="#0c93d2"/>
<polygon points="124.4,134.1 130.5,132.5 126.4,130.3 120.3,131.9" fill="#0c93d2"/>
<polygon points="161.1,134.2 167.2,132.7 163.1,130.5 157,132.1" fill="#0c93d2"/>
<polygon points="197.7,134.4 203.8,132.8 199.7,130.6 193.6,132.2" fill="#0c93d2"/>
<polygon points="61.3,134.3 67.4,132.7 63.3,130.5 57.2,132.1" fill="#0c93d2"/>
<polygon points="234.4,134.6 240.5,133 236.4,130.8 230.3,132.4" fill="#0c93d2"/>
<polygon points="97.9,134.5 104,132.9 99.9,130.7 93.8,132.3" fill="#0c93d2"/>
<polygon points="134.6,134.7 140.7,133.1 136.6,130.9 130.5,132.5" fill="#0c93d2"/>
<polygon points="171.3,134.8 177.3,133.2 173.3,131.1 167.2,132.7" fill="#0c93d2"/>
<polygon points="207.9,135 214,133.4 209.9,131.2 203.8,132.8" fill="#0c93d2"/>
<polygon points="71.5,134.9 77.6,133.3 73.5,131.1 67.4,132.7" fill="#0c93d2"/>
<polygon points="244.6,135.2 250.7,133.6 246.6,131.4 240.5,133" fill="#0c93d2"/>
<polygon points="108.1,135.1 114.2,133.5 110.1,131.3 104,132.9" fill="#0c93d2"/>
<polygon points="144.8,135.2 150.9,133.7 146.8,131.5 140.7,133.1" fill="#0c93d2"/>
<polygon points="181.4,135.4 187.5,133.8 183.4,131.6 177.3,133.2" fill="#0c93d2"/>
<polygon points="218.1,135.6 224.2,134 220.1,131.8 214,133.4" fill="#0c93d2"/>
<polygon points="81.7,135.5 87.8,133.9 83.7,131.7 77.6,133.3" fill="#0c93d2"/>
<polygon points="254.8,135.8 260.9,134.2 256.8,132 250.7,133.6" fill="#0c93d2"/>
<polygon points="118.3,135.7 124.4,134.1 120.3,131.9 114.2,133.5" fill="#0c93d2"/>
<polygon points="155,135.8 161.1,134.2 157,132.1 150.9,133.7" fill="#0c93d2"/>
<polygon points="191.6,136 197.7,134.4 193.6,132.2 187.5,133.8" fill="#0c93d2"/>
<polygon points="55.2,135.9 61.3,134.3 57.2,132.1 51.1,133.7" fill="#0c93d2"/>
<polygon points="228.3,136.2 234.4,134.6 230.3,132.4 224.2,134" fill="#0c93d2"/>
<polygon points="91.8,136.1 97.9,134.5 93.8,132.3 87.8,133.9" fill="#0c93d2"/>
<polygon points="128.5,136.2 134.6,134.7 130.5,132.5 124.4,134.1" fill="#0c93d2"/>
<polygon points="165.2,136.4 171.3,134.8 167.2,132.7 161.1,134.2" fill="#0c93d2"/>
<polygon points="201.8,136.6 207.9,135 203.8,132.8 197.7,134.4" fill="#0c93d2"/>
<polygon points="65.4,136.5 71.5,134.9 67.4,132.7 61.3,134.3" fill="#0c93d2"/>
<polygon points="238.5,136.8 244.6,135.2 240.5,133 234.4,134.6" fill="#0c93d2"/>
<polygon points="102,136.7 108.1,135.1 104,132.9 97.9,134.5" fill="#0c93d2"/>
<polygon points="138.7,136.8 144.8,135.2 140.7,133.1 134.6,134.7" fill="#0c93d2"/>
<polygon points="175.4,137 181.4,135.4 177.3,133.2 171.3,134.8" fill="#0c93d2"/>
<polygon points="212,137.2 218.1,135.6 214,133.4 207.9,135" fill="#0c93d2"/>
<polygon points="75.6,137.1 81.7,135.5 77.6,133.3 71.5,134.9" fill="#0c93d2"/>
<polygon points="248.7,137.4 254.8,135.8 250.7,133.6 244.6,135.2" fill="#0c93d2"/>
<polygon points="112.2,137.3 118.3,135.7 114.2,133.5 108.1,135.1" fill="#0c93d2"/>
<polygon points="148.9,137.4 155,135.8 150.9,133.7 144.8,135.2" fill="#0c93d2"/>
<polygon points="185.5,137.6 191.6,136 187.5,133.8 181.4,135.4" fill="#0c93d2"/>
<polygon points="49.1,137.5 55.2,135.9 51.1,133.7 45,135.3" fill="#0c93d2"/>
<polygon points="222.2,137.8 228.3,136.2 224.2,134 218.1,135.6" fill="#0c93d2"/>
<polygon points="85.8,137.7 91.8,136.1 87.8,133.9 81.7,135.5" fill="#0c93d2"/>
<polygon points="258.9,137.9 264.9,136.4 260.9,134.2 254.8,135.8" fill="#0c93d2"/>
<polygon points="122.4,137.8 128.5,136.2 124.4,134.1 118.3,135.7" fill="#0c93d2"/>
<polygon points="159.1,138 165.2,136.4 161.1,134.2 155,135.8" fill="#0c93d2"/>
<polygon points="195.7,138.2 201.8,136.6 197.7,134.4 191.6,136" fill="#0c93d2"/>
<polygon points="59.3,138.1 65.4,136.5 61.3,134.3 55.2,135.9" fill="#0c93d2"/>
<polygon points="232.4,138.4 238.5,136.8 234.4,134.6 228.3,136.2" fill="#0c93d2"/>
<polygon points="95.9,138.3 102,136.7 97.9,134.5 91.8,136.1" fill="#0c93d2"/>
<polygon points="132.6,138.4 138.7,136.8 134.6,134.7 128.5,136.2" fill="#0c93d2"/>
<polygon points="169.3,138.6 175.4,137 171.3,134.8 165.2,136.4" fill="#0c93d2"/>
<polygon points="205.9,138.8 212,137.2 207.9,135 201.8,136.6" fill="#0c93d2"/>
<polygon points="69.5,138.7 75.6,137.1 71.5,134.9 65.4,136.5" fill="#0c93d2"/>
<polygon points="242.6,138.9 248.7,137.4 244.6,135.2 238.5,136.8" fill="#0c93d2"/>
<polygon points="106.1,138.8 112.2,137.3 108.1,135.1 102,136.7" fill="#0c93d2"/>
<polygon points="142.8,139 148.9,137.4 144.8,135.2 138.7,136.8" fill="#0c93d2"/>
<polygon points="179.4,139.2 185.5,137.6 181.4,135.4 175.4,137" fill="#0c93d2"/>
<polygon points="216.1,139.4 222.2,137.8 218.1,135.6 212,137.2" fill="#0c93d2"/>
<polygon points="79.7,139.3 85.8,137.7 81.7,135.5 75.6,137.1" fill="#0c93d2"/>
<polygon points="252.8,139.5 258.9,137.9 254.8,135.8 248.7,137.4" fill="#0c93d2"/>
<polygon points="116.3,139.4 122.4,137.8 118.3,135.7 112.2,137.3" fill="#0c93d2"/>
<polygon points="153,139.6 159.1,138 155,135.8 148.9,137.4" fill="#0c93d2"/>
<polygon points="189.6,139.8 195.7,138.2 191.6,136 185.5,137.6" fill="#0c93d2"/>
<polygon points="53.2,139.7 59.3,138.1 55.2,135.9 49.1,137.5" fill="#0c93d2"/>
<polygon points="226.3,140 232.4,138.4 228.3,136.2 222.2,137.8" fill="#0c93d2"/>
<polygon points="89.9,139.8 95.9,138.3 91.8,136.1 85.8,137.7" fill="#0c93d2"/>
<polygon points="263,140.1 269,138.5 264.9,136.4 258.9,137.9" fill="#0c93d2"/>
<polygon points="126.5,140 132.6,138.4 128.5,136.2 122.4,137.8" fill="#0c93d2"/>
<polygon points="163.2,140.2 169.3,138.6 165.2,136.4 159.1,138" fill="#0c93d2"/>
<polygon points="199.8,140.4 205.9,138.8 201.8,136.6 195.7,138.2" fill="#0c93d2"/>
<polygon points="63.4,140.3 69.5,138.7 65.4,136.5 59.3,138.1" fill="#0c93d2"/>
<polygon points="236.5,140.5 242.6,138.9 238.5,136.8 232.4,138.4" fill="#0c93d2"/>
<polygon points="100,140.4 106.1,138.8 102,136.7 95.9,138.3" fill="#0c93d2"/>
<polygon points="136.7,140.6 142.8,139 138.7,136.8 132.6,138.4" fill="#0c93d2"/>
<polygon points="173.4,140.8 179.4,139.2 175.4,137 169.3,138.6" fill="#0c93d2"/>
<polygon points="210,141 216.1,139.4 212,137.2 205.9,138.8" fill="#0c93d2"/>
<polygon points="73.6,140.9 79.7,139.3 75.6,137.1 69.5,138.7" fill="#0c93d2"/>
<polygon points="246.7,141.1 252.8,139.5 248.7,137.4 242.6,138.9" fill="#0c93d2"/>
<polygon points="110.2,141 116.3,139.4 112.2,137.3 106.1,138.8" fill="#0c93d2"/>
<polygon points="146.9,141.2 153,139.6 148.9,137.4 142.8,139" fill="#0c93d2"/>
<polygon points="183.5,141.4 189.6,139.8 185.5,137.6 179.4,139.2" fill="#0c93d2"/>
<polygon points="220.2,141.5 226.3,140 222.2,137.8 216.1,139.4" fill="#0c93d2"/>
<polygon points="83.8,141.4 89.9,139.8 85.8,137.7 79.7,139.3" fill="#0c93d2"/>
<polygon points="256.9,141.7 263,140.1 258.9,137.9 252.8,139.5" fill="#0c93d2"/>
<polygon points="120.4,141.6 126.5,140 122.4,137.8 116.3,139.4" fill="#0c93d2"/>
<polygon points="157.1,141.8 163.2,140.2 159.1,138 153,139.6" fill="#0c93d2"/>
<polygon points="193.7,142 199.8,140.4 195.7,138.2 189.6,139.8" fill="#0c93d2"/>
<polygon points="57.3,141.9 63.4,140.3 59.3,138.1 53.2,139.7" fill="#0c93d2"/>
<polygon points="230.4,142.1 236.5,140.5 232.4,138.4 226.3,140" fill="#0c93d2"/>
<polygon points="93.9,142 100,140.4 95.9,138.3 89.9,139.8" fill="#0c93d2"/>
<polygon points="267,142.3 273.1,140.7 269,138.5 263,140.1" fill="#0c93d2"/>
<polygon points="130.6,142.2 136.7,140.6 132.6,138.4 126.5,140" fill="#0c93d2"/>
<polygon points="167.3,142.4 173.4,140.8 169.3,138.6 163.2,140.2" fill="#0c93d2"/>
<polygon points="203.9,142.5 210,141 205.9,138.8 199.8,140.4" fill="#0c93d2"/>
<polygon points="67.5,142.4 73.6,140.9 69.5,138.7 63.4,140.3" fill="#0c93d2"/>
<polygon points="240.6,142.7 246.7,141.1 242.6,138.9 236.5,140.5" fill="#0c93d2"/>
<polygon points="104.1,142.6 110.2,141 106.1,138.8 100,140.4" fill="#0c93d2"/>
<polygon points="140.8,142.8 146.9,141.2 142.8,139 136.7,140.6" fill="#0c93d2"/>
<polygon points="177.5,143 183.5,141.4 179.4,139.2 173.4,140.8" fill="#0c93d2"/>
<polygon points="214.1,143.1 220.2,141.5 216.1,139.4 210,141" fill="#0c93d2"/>
<polygon points="77.7,143 83.8,141.4 79.7,139.3 73.6,140.9" fill="#0c93d2"/>
<polygon points="250.8,143.3 256.9,141.7 252.8,139.5 246.7,141.1" fill="#0c93d2"/>
<polygon points="114.3,143.2 120.4,141.6 116.3,139.4 110.2,141" fill="#0c93d2"/>
<polygon points="151,143.4 157.1,141.8 153,139.6 146.9,141.2" fill="#0c93d2"/>
<polygon points="187.6,143.6 193.7,142 189.6,139.8 183.5,141.4" fill="#0c93d2"/>
<polygon points="224.3,143.7 230.4,142.1 226.3,140 220.2,141.5" fill="#0c93d2"/>
<polygon points="87.9,143.6 93.9,142 89.9,139.8 83.8,141.4" fill="#0c93d2"/>
<polygon points="261,143.9 267,142.3 263,140.1 256.9,141.7" fill="#0c93d2"/>
<polygon points="124.5,143.8 130.6,142.2 126.5,140 120.4,141.6" fill="#0c93d2"/>
<polygon points="161.2,144 167.3,142.4 163.2,140.2 157.1,141.8" fill="#0c93d2"/>
<polygon points="197.8,144.1 203.9,142.5 199.8,140.4 193.7,142" fill="#0c93d2"/>
<polygon points="61.4,144 67.5,142.4 63.4,140.3 57.3,141.9" fill="#0c93d2"/>
<polygon points="234.5,144.3 240.6,142.7 236.5,140.5 230.4,142.1" fill="#0c93d2"/>
<polygon points="98,144.2 104.1,142.6 100,140.4 93.9,142" fill="#0c93d2"/>
<polygon points="271.1,144.5 277.2,142.9 273.1,140.7 267,142.3" fill="#0c93d2"/>
<polygon points="134.7,144.4 140.8,142.8 136.7,140.6 130.6,142.2" fill="#0c93d2"/>
<polygon points="171.4,144.6 177.5,143 173.4,140.8 167.3,142.4" fill="#0c93d2"/>
<polygon points="208,144.7 214.1,143.1 210,141 203.9,142.5" fill="#0c93d2"/>
<polygon points="71.6,144.6 77.7,143 73.6,140.9 67.5,142.4" fill="#0c93d2"/>
<polygon points="244.7,144.9 250.8,143.3 246.7,141.1 240.6,142.7" fill="#0c93d2"/>
<polygon points="108.2,144.8 114.3,143.2 110.2,141 104.1,142.6" fill="#0c93d2"/>
<polygon points="144.9,145 151,143.4 146.9,141.2 140.8,142.8" fill="#0c93d2"/>
<polygon points="181.5,145.1 187.6,143.6 183.5,141.4 177.5,143" fill="#0c93d2"/>
<polygon points="218.2,145.3 224.3,143.7 220.2,141.5 214.1,143.1" fill="#0c93d2"/>
<polygon points="81.8,145.2 87.9,143.6 83.8,141.4 77.7,143" fill="#0c93d2"/>
<polygon points="254.9,145.5 261,143.9 256.9,141.7 250.8,143.3" fill="#0c93d2"/>
<polygon points="118.4,145.4 124.5,143.8 120.4,141.6 114.3,143.2" fill="#0c93d2"/>
<polygon points="155.1,145.6 161.2,144 157.1,141.8 151,143.4" fill="#0c93d2"/>
<polygon points="191.7,145.7 197.8,144.1 193.7,142 187.6,143.6" fill="#0c93d2"/>
<polygon points="228.4,145.9 234.5,144.3 230.4,142.1 224.3,143.7" fill="#0c93d2"/>
<polygon points="91.9,145.8 98,144.2 93.9,142 87.9,143.6" fill="#0c93d2"/>
<polygon points="265.1,146.1 271.1,144.5 267,142.3 261,143.9" fill="#0c93d2"/>
<polygon points="128.6,146 134.7,144.4 130.6,142.2 124.5,143.8" fill="#0c93d2"/>
<polygon points="165.3,146.1 171.4,144.6 167.3,142.4 161.2,144" fill="#0c93d2"/>
<polygon points="201.9,146.3 208,144.7 203.9,142.5 197.8,144.1" fill="#0c93d2"/>
<polygon points="65.5,146.2 71.6,144.6 67.5,142.4 61.4,144" fill="#0c93d2"/>
<polygon points="238.6,146.5 244.7,144.9 240.6,142.7 234.5,144.3" fill="#0c93d2"/>
<polygon points="102.1,146.4 108.2,144.8 104.1,142.6 98,144.2" fill="#0c93d2"/>
<polygon points="275.2,146.7 281.3,145.1 277.2,142.9 271.1,144.5" fill="#0c93d2"/>
<polygon points="138.8,146.6 144.9,145 140.8,142.8 134.7,144.4" fill="#0c93d2"/>
<polygon points="175.5,146.7 181.5,145.1 177.5,143 171.4,144.6" fill="#0c93d2"/>
<polygon points="212.1,146.9 218.2,145.3 214.1,143.1 208,144.7" fill="#0c93d2"/>
<polygon points="75.7,146.8 81.8,145.2 77.7,143 71.6,144.6" fill="#0c93d2"/>
<polygon points="248.8,147.1 254.9,145.5 250.8,143.3 244.7,144.9" fill="#0c93d2"/>
<polygon points="112.3,147 118.4,145.4 114.3,143.2 108.2,144.8" fill="#0c93d2"/>
<polygon points="149,147.1 155.1,145.6 151,143.4 144.9,145" fill="#0c93d2"/>
<polygon points="185.6,147.3 191.7,145.7 187.6,143.6 181.5,145.1" fill="#0c93d2"/>
<polygon points="222.3,147.5 228.4,145.9 224.3,143.7 218.2,145.3" fill="#0c93d2"/>
<polygon points="85.9,147.4 91.9,145.8 87.9,143.6 81.8,145.2" fill="#0c93d2"/>
<polygon points="259,147.7 265.1,146.1 261,143.9 254.9,145.5" fill="#0c93d2"/>
<polygon points="122.5,147.6 128.6,146 124.5,143.8 118.4,145.4" fill="#0c93d2"/>
<polygon points="159.2,147.7 165.3,146.1 161.2,144 155.1,145.6" fill="#0c93d2"/>
<polygon points="195.8,147.9 201.9,146.3 197.8,144.1 191.7,145.7" fill="#0c93d2"/>
<polygon points="232.5,148.1 238.6,146.5 234.5,144.3 228.4,145.9" fill="#0c93d2"/>
<polygon points="96,148 102.1,146.4 98,144.2 91.9,145.8" fill="#0c93d2"/>
<polygon points="269.1,148.3 275.2,146.7 271.1,144.5 265.1,146.1" fill="#0c93d2"/>
<polygon points="132.7,148.2 138.8,146.6 134.7,144.4 128.6,146" fill="#0c93d2"/>
<polygon points="169.4,148.3 175.5,146.7 171.4,144.6 165.3,146.1" fill="#0c93d2"/>
<polygon points="206,148.5 212.1,146.9 208,144.7 201.9,146.3" fill="#0c93d2"/>
<polygon points="69.6,148.4 75.7,146.8 71.6,144.6 65.5,146.2" fill="#0c93d2"/>
<polygon points="242.7,148.7 248.8,147.1 244.7,144.9 238.6,146.5" fill="#0c93d2"/>
<polygon points="106.2,148.6 112.3,147 108.2,144.8 102.1,146.4" fill="#0c93d2"/>
<polygon points="279.3,148.8 285.4,147.3 281.3,145.1 275.2,146.7" fill="#0c93d2"/>
<polygon points="142.9,148.7 149,147.1 144.9,145 138.8,146.6" fill="#0c93d2"/>
<polygon points="179.5,148.9 185.6,147.3 181.5,145.1 175.5,146.7" fill="#0c93d2"/>
<polygon points="216.2,149.1 222.3,147.5 218.2,145.3 212.1,146.9" fill="#0c93d2"/>
<polygon points="79.8,149 85.9,147.4 81.8,145.2 75.7,146.8" fill="#0c93d2"/>
<polygon points="252.9,149.3 259,147.7 254.9,145.5 248.8,147.1" fill="#0c93d2"/>
<polygon points="116.4,149.2 122.5,147.6 118.4,145.4 112.3,147" fill="#0c93d2"/>
<polygon points="153.1,149.3 159.2,147.7 155.1,145.6 149,147.1" fill="#0c93d2"/>
<polygon points="189.7,149.5 195.8,147.9 191.7,145.7 185.6,147.3" fill="#0c93d2"/>
<polygon points="226.4,149.7 232.5,148.1 228.4,145.9 222.3,147.5" fill="#0c93d2"/>
<polygon points="90,149.6 96,148 91.9,145.8 85.9,147.4" fill="#0c93d2"/>
<polygon points="263.1,149.8 269.1,148.3 265.1,146.1 259,147.7" fill="#0c93d2"/>
<polygon points="126.6,149.7 132.7,148.2 128.6,146 122.5,147.6" fill="#0c93d2"/>
<polygon points="163.3,149.9 169.4,148.3 165.3,146.1 159.2,147.7" fill="#0c93d2"/>
<polygon points="199.9,150.1 206,148.5 201.9,146.3 195.8,147.9" fill="#0c93d2"/>
<polygon points="236.6,150.3 242.7,148.7 238.6,146.5 232.5,148.1" fill="#0c93d2"/>
<polygon points="100.1,150.2 106.2,148.6 102.1,146.4 96,148" fill="#0c93d2"/>
<polygon points="273.2,150.4 279.3,148.8 275.2,146.7 269.1,148.3" fill="#0c93d2"/>
<polygon points="136.8,150.3 142.9,148.7 138.8,146.6 132.7,148.2" fill="#0c93d2"/>
<polygon points="173.5,150.5 179.5,148.9 175.5,146.7 169.4,148.3" fill="#0c93d2"/>
<polygon points="210.1,150.7 216.2,149.1 212.1,146.9 206,148.5" fill="#0c93d2"/>
<polygon points="73.7,150.6 79.8,149 75.7,146.8 69.6,148.4" fill="#0c93d2"/>
<polygon points="246.8,150.9 252.9,149.3 248.8,147.1 242.7,148.7" fill="#0c93d2"/>
<polygon points="110.3,150.7 116.4,149.2 112.3,147 106.2,148.6" fill="#0c93d2"/>
<polygon points="283.4,151 289.5,149.4 285.4,147.3 279.3,148.8" fill="#0c93d2"/>
<polygon points="147,150.9 153.1,149.3 149,147.1 142.9,148.7" fill="#0c93d2"/>
<polygon points="183.6,151.1 189.7,149.5 185.6,147.3 179.5,148.9" fill="#0c93d2"/>
<polygon points="220.3,151.3 226.4,149.7 222.3,147.5 216.2,149.1" fill="#0c93d2"/>
<polygon points="83.9,151.2 90,149.6 85.9,147.4 79.8,149" fill="#0c93d2"/>
<polygon points="257,151.4 263.1,149.8 259,147.7 252.9,149.3" fill="#0c93d2"/>
<polygon points="120.5,151.3 126.6,149.7 122.5,147.6 116.4,149.2" fill="#0c93d2"/>
<polygon points="157.2,151.5 163.3,149.9 159.2,147.7 153.1,149.3" fill="#0c93d2"/>
<polygon points="193.8,151.7 199.9,150.1 195.8,147.9 189.7,149.5" fill="#0c93d2"/>
<polygon points="230.5,151.9 236.6,150.3 232.5,148.1 226.4,149.7" fill="#0c93d2"/>
<polygon points="94,151.8 100.1,150.2 96,148 90,149.6" fill="#0c93d2"/>
<polygon points="267.2,152 273.2,150.4 269.1,148.3 263.1,149.8" fill="#0c93d2"/>
<polygon points="130.7,151.9 136.8,150.3 132.7,148.2 126.6,149.7" fill="#0c93d2"/>
<polygon points="167.4,152.1 173.5,150.5 169.4,148.3 163.3,149.9" fill="#0c93d2"/>
<polygon points="204,152.3 210.1,150.7 206,148.5 199.9,150.1" fill="#0c93d2"/>
<polygon points="240.7,152.4 246.8,150.9 242.7,148.7 236.6,150.3" fill="#0c93d2"/>
<polygon points="104.2,152.3 110.3,150.7 106.2,148.6 100.1,150.2" fill="#0c93d2"/>
<polygon points="277.3,152.6 283.4,151 279.3,148.8 273.2,150.4" fill="#0c93d2"/>
<polygon points="140.9,152.5 147,150.9 142.9,148.7 136.8,150.3" fill="#0c93d2"/>
<polygon points="177.6,152.7 183.6,151.1 179.5,148.9 173.5,150.5" fill="#0c93d2"/>
<polygon points="214.2,152.9 220.3,151.3 216.2,149.1 210.1,150.7" fill="#0c93d2"/>
<polygon points="77.8,152.8 83.9,151.2 79.8,149 73.7,150.6" fill="#0c93d2"/>
<polygon points="250.9,153 257,151.4 252.9,149.3 246.8,150.9" fill="#0c93d2"/>
<polygon points="114.4,152.9 120.5,151.3 116.4,149.2 110.3,150.7" fill="#0c93d2"/>
<polygon points="287.5,153.2 293.6,151.6 289.5,149.4 283.4,151" fill="#0c93d2"/>
<polygon points="151.1,153.1 157.2,151.5 153.1,149.3 147,150.9" fill="#0c93d2"/>
<polygon points="187.7,153.3 193.8,151.7 189.7,149.5 183.6,151.1" fill="#0c93d2"/>
<polygon points="224.4,153.4 230.5,151.9 226.4,149.7 220.3,151.3" fill="#0c93d2"/>
<polygon points="88,153.3 94,151.8 90,149.6 83.9,151.2" fill="#0c93d2"/>
<polygon points="261.1,153.6 267.2,152 263.1,149.8 257,151.4" fill="#0c93d2"/>
<polygon points="124.6,153.5 130.7,151.9 126.6,149.7 120.5,151.3" fill="#0c93d2"/>
<polygon points="161.3,153.7 167.4,152.1 163.3,149.9 157.2,151.5" fill="#0c93d2"/>
<polygon points="197.9,153.9 204,152.3 199.9,150.1 193.8,151.7" fill="#0c93d2"/>
<polygon points="234.6,154 240.7,152.4 236.6,150.3 230.5,151.9" fill="#0c93d2"/>
<polygon points="98.1,153.9 104.2,152.3 100.1,150.2 94,151.8" fill="#0c93d2"/>
<polygon points="271.2,154.2 277.3,152.6 273.2,150.4 267.2,152" fill="#0c93d2"/>
<polygon points="134.8,154.1 140.9,152.5 136.8,150.3 130.7,151.9" fill="#0c93d2"/>
<polygon points="171.5,154.3 177.6,152.7 173.5,150.5 167.4,152.1" fill="#0c93d2"/>
<polygon points="208.1,154.5 214.2,152.9 210.1,150.7 204,152.3" fill="#0c93d2"/>
<polygon points="244.8,154.6 250.9,153 246.8,150.9 240.7,152.4" fill="#0c93d2"/>
<polygon points="108.3,154.5 114.4,152.9 110.3,150.7 104.2,152.3" fill="#0c93d2"/>
<polygon points="281.4,154.8 287.5,153.2 283.4,151 277.3,152.6" fill="#0c93d2"/>
<polygon points="145,154.7 151.1,153.1 147,150.9 140.9,152.5" fill="#0c93d2"/>
<polygon points="181.6,154.9 187.7,153.3 183.6,151.1 177.6,152.7" fill="#0c93d2"/>
<polygon points="218.3,155 224.4,153.4 220.3,151.3 214.2,152.9" fill="#0c93d2"/>
<polygon points="81.9,154.9 88,153.3 83.9,151.2 77.8,152.8" fill="#0c93d2"/>
<polygon points="255,155.2 261.1,153.6 257,151.4 250.9,153" fill="#0c93d2"/>
<polygon points="118.5,155.1 124.6,153.5 120.5,151.3 114.4,152.9" fill="#0c93d2"/>
<polygon points="155.2,155.3 161.3,153.7 157.2,151.5 151.1,153.1" fill="#0c93d2"/>
<polygon points="191.8,155.5 197.9,153.9 193.8,151.7 187.7,153.3" fill="#0c93d2"/>
<polygon points="228.5,155.6 234.6,154 230.5,151.9 224.4,153.4" fill="#0c93d2"/>
<polygon points="92.1,155.5 98.1,153.9 94,151.8 88,153.3" fill="#0c93d2"/>
<polygon points="265.2,155.8 271.2,154.2 267.2,152 261.1,153.6" fill="#0c93d2"/>
<polygon points="128.7,155.7 134.8,154.1 130.7,151.9 124.6,153.5" fill="#0c93d2"/>
<polygon points="165.4,155.9 171.5,154.3 167.4,152.1 161.3,153.7" fill="#0c93d2"/>
<polygon points="202,156 208.1,154.5 204,152.3 197.9,153.9" fill="#0c93d2"/>
<polygon points="238.7,156.2 244.8,154.6 240.7,152.4 234.6,154" fill="#0c93d2"/>
<polygon points="102.2,156.1 108.3,154.5 104.2,152.3 98.1,153.9" fill="#0c93d2"/>
<polygon points="275.3,156.4 281.4,154.8 277.3,152.6 271.2,154.2" fill="#0c93d2"/>
<polygon points="138.9,156.3 145,154.7 140.9,152.5 134.8,154.1" fill="#0c93d2"/>
<polygon points="175.6,156.5 181.6,154.9 177.6,152.7 171.5,154.3" fill="#0c93d2"/>
<polygon points="212.2,156.6 218.3,155 214.2,152.9 208.1,154.5" fill="#0c93d2"/>
<polygon points="248.9,156.8 255,155.2 250.9,153 244.8,154.6" fill="#0c93d2"/>
<polygon points="112.4,156.7 118.5,155.1 114.4,152.9 108.3,154.5" fill="#0c93d2"/>
<polygon points="149.1,156.9 155.2,155.3 151.1,153.1 145,154.7" fill="#0c93d2"/>
<polygon points="185.7,157 191.8,155.5 187.7,153.3 181.6,154.9" fill="#0c93d2"/>
<polygon points="222.4,157.2 228.5,155.6 224.4,153.4 218.3,155" fill="#0c93d2"/>
<polygon points="86,157.1 92.1,155.5 88,153.3 81.9,154.9" fill="#0c93d2"/>
<polygon points="259.1,157.4 265.2,155.8 261.1,153.6 255,155.2" fill="#0c93d2"/>
<polygon points="122.6,157.3 128.7,155.7 124.6,153.5 118.5,155.1" fill="#0c93d2"/>
<polygon points="159.3,157.5 165.4,155.9 161.3,153.7 155.2,155.3" fill="#0c93d2"/>
<polygon points="195.9,157.6 202,156 197.9,153.9 191.8,155.5" fill="#0c93d2"/>
<polygon points="232.6,157.8 238.7,156.2 234.6,154 228.5,155.6" fill="#0c93d2"/>
<polygon points="96.1,157.7 102.2,156.1 98.1,153.9 92.1,155.5" fill="#0c93d2"/>
<polygon points="269.3,158 275.3,156.4 271.2,154.2 265.2,155.8" fill="#0c93d2"/>
<polygon points="132.8,157.9 138.9,156.3 134.8,154.1 128.7,155.7" fill="#0c93d2"/>
<polygon points="169.5,158 175.6,156.5 171.5,154.3 165.4,155.9" fill="#0c93d2"/>
<polygon points="206.1,158.2 212.2,156.6 208.1,154.5 202,156" fill="#0c93d2"/>
<polygon points="242.8,158.4 248.9,156.8 244.8,154.6 238.7,156.2" fill="#0c93d2"/>
<polygon points="106.3,158.3 112.4,156.7 108.3,154.5 102.2,156.1" fill="#0c93d2"/>
<polygon points="143,158.5 149.1,156.9 145,154.7 138.9,156.3" fill="#0c93d2"/>
<polygon points="179.7,158.6 185.7,157 181.6,154.9 175.6,156.5" fill="#0c93d2"/>
<polygon points="216.3,158.8 222.4,157.2 218.3,155 212.2,156.6" fill="#0c93d2"/>
<polygon points="253,159 259.1,157.4 255,155.2 248.9,156.8" fill="#0c93d2"/>
<polygon points="116.5,158.9 122.6,157.3 118.5,155.1 112.4,156.7" fill="#0c93d2"/>
<polygon points="153.2,159.1 159.3,157.5 155.2,155.3 149.1,156.9" fill="#0c93d2"/>
<polygon points="189.8,159.2 195.9,157.6 191.8,155.5 185.7,157" fill="#0c93d2"/>
<polygon points="226.5,159.4 232.6,157.8 228.5,155.6 222.4,157.2" fill="#0c93d2"/>
<polygon points="90.1,159.3 96.1,157.7 92.1,155.5 86,157.1" fill="#0c93d2"/>
<polygon points="263.2,159.6 269.3,158 265.2,155.8 259.1,157.4" fill="#0c93d2"/>
<polygon points="126.7,159.5 132.8,157.9 128.7,155.7 122.6,157.3" fill="#0c93d2"/>
<polygon points="163.4,159.6 169.5,158 165.4,155.9 159.3,157.5" fill="#0c93d2"/>
<polygon points="200,159.8 206.1,158.2 202,156 195.9,157.6" fill="#0c93d2"/>
<polygon points="236.7,160 242.8,158.4 238.7,156.2 232.6,157.8" fill="#0c93d2"/>
<polygon points="100.2,159.9 106.3,158.3 102.2,156.1 96.1,157.7" fill="#0c93d2"/>
<polygon points="136.9,160.1 143,158.5 138.9,156.3 132.8,157.9" fill="#0c93d2"/>
<polygon points="173.6,160.2 179.7,158.6 175.6,156.5 169.5,158" fill="#0c93d2"/>
<polygon points="210.2,160.4 216.3,158.8 212.2,156.6 206.1,158.2" fill="#0c93d2"/>
<polygon points="246.9,160.6 253,159 248.9,156.8 242.8,158.4" fill="#0c93d2"/>
<polygon points="110.4,160.5 116.5,158.9 112.4,156.7 106.3,158.3" fill="#0c93d2"/>
<polygon points="147.1,160.6 153.2,159.1 149.1,156.9 143,158.5" fill="#0c93d2"/>
<polygon points="183.7,160.8 189.8,159.2 185.7,157 179.7,158.6" fill="#0c93d2"/>
<polygon points="220.4,161 226.5,159.4 222.4,157.2 216.3,158.8" fill="#0c93d2"/>
<polygon points="257.1,161.2 263.2,159.6 259.1,157.4 253,159" fill="#0c93d2"/>
<polygon points="120.6,161.1 126.7,159.5 122.6,157.3 116.5,158.9" fill="#0c93d2"/>
<polygon points="157.3,161.2 163.4,159.6 159.3,157.5 153.2,159.1" fill="#0c93d2"/>
<polygon points="193.9,161.4 200,159.8 195.9,157.6 189.8,159.2" fill="#0c93d2"/>
<polygon points="230.6,161.6 236.7,160 232.6,157.8 226.5,159.4" fill="#0c93d2"/>
<polygon points="94.2,161.5 100.2,159.9 96.1,157.7 90.1,159.3" fill="#0c93d2"/>
<polygon points="130.8,161.6 136.9,160.1 132.8,157.9 126.7,159.5" fill="#0c93d2"/>
<polygon points="167.5,161.8 173.6,160.2 169.5,158 163.4,159.6" fill="#0c93d2"/>
<polygon points="204.1,162 210.2,160.4 206.1,158.2 200,159.8" fill="#0c93d2"/>
<polygon points="240.8,162.2 246.9,160.6 242.8,158.4 236.7,160" fill="#0c93d2"/>
<polygon points="104.3,162.1 110.4,160.5 106.3,158.3 100.2,159.9" fill="#0c93d2"/>
<polygon points="141,162.2 147.1,160.6 143,158.5 136.9,160.1" fill="#0c93d2"/>
<polygon points="177.7,162.4 183.7,160.8 179.7,158.6 173.6,160.2" fill="#0c93d2"/>
<polygon points="214.3,162.6 220.4,161 216.3,158.8 210.2,160.4" fill="#0c93d2"/>
<polygon points="251,162.8 257.1,161.2 253,159 246.9,160.6" fill="#0c93d2"/>
<polygon points="114.5,162.7 120.6,161.1 116.5,158.9 110.4,160.5" fill="#0c93d2"/>
<polygon points="151.2,162.8 157.3,161.2 153.2,159.1 147.1,160.6" fill="#0c93d2"/>
<polygon points="187.8,163 193.9,161.4 189.8,159.2 183.7,160.8" fill="#0c93d2"/>
<polygon points="224.5,163.2 230.6,161.6 226.5,159.4 220.4,161" fill="#0c93d2"/>
<polygon points="124.7,163.2 130.8,161.6 126.7,159.5 120.6,161.1" fill="#0c93d2"/>
<polygon points="161.4,163.4 167.5,161.8 163.4,159.6 157.3,161.2" fill="#0c93d2"/>
<polygon points="198,163.6 204.1,162 200,159.8 193.9,161.4" fill="#0c93d2"/>
<polygon points="234.7,163.8 240.8,162.2 236.7,160 230.6,161.6" fill="#0c93d2"/>
<polygon points="98.2,163.7 104.3,162.1 100.2,159.9 94.2,161.5" fill="#0c93d2"/>
<polygon points="134.9,163.8 141,162.2 136.9,160.1 130.8,161.6" fill="#0c93d2"/>
<polygon points="171.6,164 177.7,162.4 173.6,160.2 167.5,161.8" fill="#0c93d2"/>
<polygon points="208.2,164.2 214.3,162.6 210.2,160.4 204.1,162" fill="#0c93d2"/>
<polygon points="244.9,164.3 251,162.8 246.9,160.6 240.8,162.2" fill="#0c93d2"/>
<polygon points="108.4,164.2 114.5,162.7 110.4,160.5 104.3,162.1" fill="#0c93d2"/>
<polygon points="145.1,164.4 151.2,162.8 147.1,160.6 141,162.2" fill="#0c93d2"/>
<polygon points="181.8,164.6 187.8,163 183.7,160.8 177.7,162.4" fill="#0c93d2"/>
<polygon points="218.4,164.8 224.5,163.2 220.4,161 214.3,162.6" fill="#0c93d2"/>
<polygon points="118.6,164.8 124.7,163.2 120.6,161.1 114.5,162.7" fill="#0c93d2"/>
<polygon points="155.3,165 161.4,163.4 157.3,161.2 151.2,162.8" fill="#0c93d2"/>
<polygon points="191.9,165.2 198,163.6 193.9,161.4 187.8,163" fill="#0c93d2"/>
<polygon points="228.6,165.4 234.7,163.8 230.6,161.6 224.5,163.2" fill="#0c93d2"/>
<polygon points="128.8,165.4 134.9,163.8 130.8,161.6 124.7,163.2" fill="#0c93d2"/>
<polygon points="165.5,165.6 171.6,164 167.5,161.8 161.4,163.4" fill="#0c93d2"/>
<polygon points="202.1,165.8 208.2,164.2 204.1,162 198,163.6" fill="#0c93d2"/>
<polygon points="238.8,165.9 244.9,164.3 240.8,162.2 234.7,163.8" fill="#0c93d2"/>
<polygon points="102.3,165.8 108.4,164.2 104.3,162.1 98.2,163.7" fill="#0c93d2"/>
<polygon points="139,166 145.1,164.4 141,162.2 134.9,163.8" fill="#0c93d2"/>
<polygon points="175.7,166.2 181.8,164.6 177.7,162.4 171.6,164" fill="#0c93d2"/>
<polygon points="212.3,166.4 218.4,164.8 214.3,162.6 208.2,164.2" fill="#0c93d2"/>
<polygon points="112.5,166.4 118.6,164.8 114.5,162.7 108.4,164.2" fill="#0c93d2"/>
<polygon points="149.2,166.6 155.3,165 151.2,162.8 145.1,164.4" fill="#0c93d2"/>
<polygon points="185.8,166.8 191.9,165.2 187.8,163 181.8,164.6" fill="#0c93d2"/>
<polygon points="222.5,166.9 228.6,165.4 224.5,163.2 218.4,164.8" fill="#0c93d2"/>
<polygon points="122.7,167 128.8,165.4 124.7,163.2 118.6,164.8" fill="#0c93d2"/>
<polygon points="159.4,167.2 165.5,165.6 161.4,163.4 155.3,165" fill="#0c93d2"/>
<polygon points="196,167.4 202.1,165.8 198,163.6 191.9,165.2" fill="#0c93d2"/>
<polygon points="232.7,167.5 238.8,165.9 234.7,163.8 228.6,165.4" fill="#0c93d2"/>
<polygon points="132.9,167.6 139,166 134.9,163.8 128.8,165.4" fill="#0c93d2"/>
<polygon points="169.6,167.8 175.7,166.2 171.6,164 165.5,165.6" fill="#0c93d2"/>
<polygon points="206.2,167.9 212.3,166.4 208.2,164.2 202.1,165.8" fill="#0c93d2"/>
<polygon points="106.4,168 112.5,166.4 108.4,164.2 102.3,165.8" fill="#0c93d2"/>
<polygon points="143.1,168.2 149.2,166.6 145.1,164.4 139,166" fill="#0c93d2"/>
<polygon points="179.8,168.4 185.8,166.8 181.8,164.6 175.7,166.2" fill="#0c93d2"/>
<polygon points="216.4,168.5 222.5,166.9 218.4,164.8 212.3,166.4" fill="#0c93d2"/>
<polygon points="116.6,168.6 122.7,167 118.6,164.8 112.5,166.4" fill="#0c93d2"/>
<polygon points="153.3,168.8 159.4,167.2 155.3,165 149.2,166.6" fill="#0c93d2"/>
<polygon points="189.9,168.9 196,167.4 191.9,165.2 185.8,166.8" fill="#0c93d2"/>
<polygon points="226.6,169.1 232.7,167.5 228.6,165.4 222.5,166.9" fill="#0c93d2"/>
<polygon points="126.8,169.2 132.9,167.6 128.8,165.4 122.7,167" fill="#0c93d2"/>
<polygon points="163.5,169.4 169.6,167.8 165.5,165.6 159.4,167.2" fill="#0c93d2"/>
<polygon points="200.1,169.5 206.2,167.9 202.1,165.8 196,167.4" fill="#0c93d2"/>
<polygon points="137,169.8 143.1,168.2 139,166 132.9,167.6" fill="#0c93d2"/>
<polygon points="173.7,170 179.8,168.4 175.7,166.2 169.6,167.8" fill="#0c93d2"/>
<polygon points="210.3,170.1 216.4,168.5 212.3,166.4 206.2,167.9" fill="#0c93d2"/>
<polygon points="110.5,170.2 116.6,168.6 112.5,166.4 106.4,168" fill="#0c93d2"/>
<polygon points="147.2,170.4 153.3,168.8 149.2,166.6 143.1,168.2" fill="#0c93d2"/>
<polygon points="183.9,170.5 189.9,168.9 185.8,166.8 179.8,168.4" fill="#0c93d2"/>
<polygon points="220.5,170.7 226.6,169.1 222.5,166.9 216.4,168.5" fill="#0c93d2"/>
<polygon points="120.7,170.8 126.8,169.2 122.7,167 116.6,168.6" fill="#0c93d2"/>
<polygon points="157.4,171 163.5,169.4 159.4,167.2 153.3,168.8" fill="#0c93d2"/>
<polygon points="194,171.1 200.1,169.5 196,167.4 189.9,168.9" fill="#0c93d2"/>
<polygon points="130.9,171.4 137,169.8 132.9,167.6 126.8,169.2" fill="#0c93d2"/>
<polygon points="167.6,171.5 173.7,170 169.6,167.8 163.5,169.4" fill="#0c93d2"/>
<polygon points="204.2,171.7 210.3,170.1 206.2,167.9 200.1,169.5" fill="#0c93d2"/>
<polygon points="141.1,172 147.2,170.4 143.1,168.2 137,169.8" fill="#0c93d2"/>
<polygon points="177.8,172.1 183.9,170.5 179.8,168.4 173.7,170" fill="#0c93d2"/>
<polygon points="214.4,172.3 220.5,170.7 216.4,168.5 210.3,170.1" fill="#0c93d2"/>
<polygon points="114.6,172.4 120.7,170.8 116.6,168.6 110.5,170.2" fill="#0c93d2"/>
<polygon points="151.3,172.5 157.4,171 153.3,168.8 147.2,170.4" fill="#0c93d2"/>
<polygon points="187.9,172.7 194,171.1 189.9,168.9 183.9,170.5" fill="#0c93d2"/>
<polygon points="124.8,173 130.9,171.4 126.8,169.2 120.7,170.8" fill="#0c93d2"/>
<polygon points="161.5,173.1 167.6,171.5 163.5,169.4 157.4,171" fill="#0c93d2"/>
<polygon points="198.1,173.3 204.2,171.7 200.1,169.5 194,171.1" fill="#0c93d2"/>
<polygon points="135,173.6 141.1,172 137,169.8 130.9,171.4" fill="#0c93d2"/>
<polygon points="171.7,173.7 177.8,172.1 173.7,170 167.6,171.5" fill="#0c93d2"/>
<polygon points="208.3,173.9 214.4,172.3 210.3,170.1 204.2,171.7" fill="#0c93d2"/>
<polygon points="145.2,174.1 151.3,172.5 147.2,170.4 141.1,172" fill="#0c93d2"/>
<polygon points="181.9,174.3 187.9,172.7 183.9,170.5 177.8,172.1" fill="#0c93d2"/>
<polygon points="118.7,174.6 124.8,173 120.7,170.8 114.6,172.4" fill="#0c93d2"/>
<polygon points="155.4,174.7 161.5,173.1 157.4,171 151.3,172.5" fill="#0c93d2"/>
<polygon points="192,174.9 198.1,173.3 194,171.1 187.9,172.7" fill="#0c93d2"/>
<polygon points="128.9,175.1 135,173.6 130.9,171.4 124.8,173" fill="#0c93d2"/>
<polygon points="165.6,175.3 171.7,173.7 167.6,171.5 161.5,173.1" fill="#0c93d2"/>
<polygon points="202.2,175.5 208.3,173.9 204.2,171.7 198.1,173.3" fill="#0c93d2"/>
<polygon points="139.1,175.7 145.2,174.1 141.1,172 135,173.6" fill="#0c93d2"/>
<polygon points="175.8,175.9 181.9,174.3 177.8,172.1 171.7,173.7" fill="#0c93d2"/>
<polygon points="149.3,176.3 155.4,174.7 151.3,172.5 145.2,174.1" fill="#0c93d2"/>
<polygon points="186,176.5 192,174.9 187.9,172.7 181.9,174.3" fill="#0c93d2"/>
<polygon points="122.8,176.7 128.9,175.1 124.8,173 118.7,174.6" fill="#0c93d2"/>
<polygon points="159.5,176.9 165.6,175.3 161.5,173.1 155.4,174.7" fill="#0c93d2"/>
<polygon points="196.1,177.1 202.2,175.5 198.1,173.3 192,174.9" fill="#0c93d2"/>
<polygon points="133,177.3 139.1,175.7 135,173.6 128.9,175.1" fill="#0c93d2"/>
<polygon points="169.7,177.5 175.8,175.9 171.7,173.7 165.6,175.3" fill="#0c93d2"/>
<polygon points="143.2,177.9 149.3,176.3 145.2,174.1 139.1,175.7" fill="#0c93d2"/>
<polygon points="179.9,178.1 186,176.5 181.9,174.3 175.8,175.9" fill="#0c93d2"/>
<polygon points="153.4,178.5 159.5,176.9 155.4,174.7 149.3,176.3" fill="#0c93d2"/>
<polygon points="190,178.7 196.1,177.1 192,174.9 186,176.5" fill="#0c93d2"/>
<polygon points="126.9,178.9 133,177.3 128.9,175.1 122.8,176.7" fill="#0c93d2"/>
<polygon points="163.6,179.1 169.7,177.5 165.6,175.3 159.5,176.9" fill="#0c93d2"/>
<polygon points="137.1,179.5 143.2,177.9 139.1,175.7 133,177.3" fill="#0c93d2"/>
<polygon points="173.8,179.7 179.9,178.1 175.8,175.9 169.7,177.5" fill="#0c93d2"/>
<polygon points="147.3,180.1 153.4,178.5 149.3,176.3 143.2,177.9" fill="#0c93d2"/>
<polygon points="184,180.3 190,178.7 186,176.5 179.9,178.1" fill="#0c93d2"/>
<polygon points="157.5,180.7 163.6,179.1 159.5,176.9 153.4,178.5" fill="#0c93d2"/>
<polygon points="131,181.1 137.1,179.5 133,177.3 126.9,178.9" fill="#0c93d2"/>
<polygon points="167.7,181.3 173.8,179.7 169.7,177.5 163.6,179.1" fill="#0c93d2"/>
<polygon points="141.2,181.7 147.3,180.1 143.2,177.9 137.1,179.5" fill="#0c93d2"/>
<polygon points="177.9,181.9 184,180.3 179.9,178.1 173.8,179.7" fill="#0c93d2"/>
<polygon points="151.4,182.3 157.5,180.7 153.4,178.5 147.3,180.1" fill="#0c93d2"/>
<polygon points="161.6,182.9 167.7,181.3 163.6,179.1 157.5,180.7" fill="#0c93d2"/>
<polygon points="135.1,183.3 141.2,181.7 137.1,179.5 131,181.1" fill="#0c93d2"/>
<polygon points="171.8,183.4 177.9,181.9 173.8,179.7 167.7,181.3" fill="#0c93d2"/>
<polygon points="145.3,183.9 151.4,182.3 147.3,180.1 141.2,181.7" fill="#0c93d2"/>
<polygon points="155.5,184.5 161.6,182.9 157.5,180.7 151.4,182.3" fill="#0c93d2"/>
<polygon points="165.7,185 171.8,183.4 167.7,181.3 161.6,182.9" fill="#0c93d2"/>
<polygon points="139.2,185.5 145.3,183.9 141.2,181.7 135.1,183.3" fill="#0c93d2"/>
<polygon points="149.4,186 155.5,184.5 151.4,182.3 145.3,183.9" fill="#0c93d2"/>
<polygon points="159.6,186.6 165.7,185 161.6,182.9 155.5,184.5" fill="#0c93d2"/>
<polygon points="143.3,187.6 149.4,186 145.3,183.9 139.2,185.5" fill="#0c93d2"/>
<polygon points="153.5,188.2 159.6,186.6 155.5,184.5 149.4,186" fill="#0c93d2"/>
<polygon points="147.4,189.8 153.5,188.2 149.4,186 143.3,187.6" fill="#0c93d2"/>
<polygon points="189.2,66.1 195.3,60.7 191.2,60.3 185.1,65.7" fill="#7cbf7b"/>
<polygon points="183.1,71.5 189.2,66.1 185.1,65.7 179,71" fill="#65be86"/>
<polygon points="193.3,66.5 199.4,61.1 195.3,60.7 189.2,66.1" fill="#87bf77"/>
<polygon points="177,76.8 183.1,71.5 179,71 172.9,76.3" fill="#4dbc92"/>
<polygon points="187.2,71.9 193.3,66.5 189.2,66.1 183.1,71.5" fill="#71bf80"/>
<polygon points="197.4,67 203.5,61.5 199.4,61.1 193.3,66.5" fill="#92bf73"/>
<polygon points="170.9,82 177,76.8 172.9,76.3 166.9,81.6" fill="#38b99e"/>
<polygon points="181.1,77.2 187.2,71.9 183.1,71.5 177,76.8" fill="#59bd8c"/>
<polygon points="191.3,72.3 197.4,67 193.3,66.5 187.2,71.9" fill="#7cbf7b"/>
<polygon points="164.9,87.1 170.9,82 166.9,81.6 160.8,86.7" fill="#25b5a9"/>
<polygon points="201.5,67.4 207.6,62 203.5,61.5 197.4,67" fill="#9cbf6f"/>
<polygon points="175,82.4 181.1,77.2 177,76.8 170.9,82" fill="#42bb98"/>
<polygon points="185.2,77.6 191.3,72.3 187.2,71.9 181.1,77.2" fill="#65be86"/>
<polygon points="158.8,92.2 164.9,87.1 160.8,86.7 154.7,91.8" fill="#15b1b4"/>
<polygon points="195.4,72.8 201.5,67.4 197.4,67 191.3,72.3" fill="#87bf77"/>
<polygon points="168.9,87.6 175,82.4 170.9,82 164.9,87.1" fill="#2eb7a4"/>
<polygon points="205.6,67.8 211.7,62.4 207.6,62 201.5,67.4" fill="#a5be6b"/>
<polygon points="179.1,82.8 185.2,77.6 181.1,77.2 175,82.4" fill="#4dbc92"/>
<polygon points="152.7,97.2 158.8,92.2 154.7,91.8 148.6,96.8" fill="#0aacbe"/>
<polygon points="189.3,78 195.4,72.8 191.3,72.3 185.2,77.6" fill="#71bf80"/>
<polygon points="162.9,92.6 168.9,87.6 164.9,87.1 158.8,92.2" fill="#1db3af"/>
<polygon points="199.5,73.2 205.6,67.8 201.5,67.4 195.4,72.8" fill="#92bf73"/>
<polygon points="173,88 179.1,82.8 175,82.4 168.9,87.6" fill="#38b99e"/>
<polygon points="209.7,68.2 215.8,62.8 211.7,62.4 205.6,67.8" fill="#aebe67"/>
<polygon points="146.6,102.2 152.7,97.2 148.6,96.8 142.5,101.7" fill="#06a7c6"/>
<polygon points="183.2,83.3 189.3,78 185.2,77.6 179.1,82.8" fill="#59bd8c"/>
<polygon points="156.8,97.7 162.9,92.6 158.8,92.2 152.7,97.2" fill="#0faeb9"/>
<polygon points="193.4,78.5 199.5,73.2 195.4,72.8 189.3,78" fill="#7cbf7b"/>
<polygon points="167,93.1 173,88 168.9,87.6 162.9,92.6" fill="#25b5a9"/>
<polygon points="203.6,73.6 209.7,68.2 205.6,67.8 199.5,73.2" fill="#9cbf6f"/>
<polygon points="140.5,107 146.6,102.2 142.5,101.7 136.4,106.6" fill="#06a4ca"/>
<polygon points="177.1,88.4 183.2,83.3 179.1,82.8 173,88" fill="#42bb98"/>
<polygon points="213.8,68.7 219.9,63.2 215.8,62.8 209.7,68.2" fill="#b7bd64"/>
<polygon points="150.7,102.6 156.8,97.7 152.7,97.2 146.6,102.2" fill="#07a9c2"/>
<polygon points="187.3,83.7 193.4,78.5 189.3,78 183.2,83.3" fill="#65be86"/>
<polygon points="160.9,98.1 167,93.1 162.9,92.6 156.8,97.7" fill="#15b1b4"/>
<polygon points="197.5,78.9 203.6,73.6 199.5,73.2 193.4,78.5" fill="#87bf77"/>
<polygon points="134.4,111.8 140.5,107 136.4,106.6 130.3,111.4" fill="#079ccf"/>
<polygon points="171,93.5 177.1,88.4 173,88 167,93.1" fill="#2eb7a4"/>
<polygon points="207.7,74 213.8,68.7 209.7,68.2 203.6,73.6" fill="#a5be6b"/>
<polygon points="144.6,107.5 150.7,102.6 146.6,102.2 140.5,107" fill="#06a7c6"/>
<polygon points="181.2,88.8 187.3,83.7 183.2,83.3 177.1,88.4" fill="#4dbc92"/>
<polygon points="217.9,69.1 224,63.7 219.9,63.2 213.8,68.7" fill="#c0bc60"/>
<polygon points="154.8,103 160.9,98.1 156.8,97.7 150.7,102.6" fill="#0aacbe"/>
<polygon points="191.4,84.1 197.5,78.9 193.4,78.5 187.3,83.7" fill="#71bf80"/>
<polygon points="128.3,116.6 134.4,111.8 130.3,111.4 127.1,113.9 127.7,116.5" fill="#0c93d2"/>
<polygon points="165,98.5 171,93.5 167,93.1 160.9,98.1" fill="#1db3af"/>
<polygon points="201.6,79.3 207.7,74 203.6,73.6 197.5,78.9" fill="#92bf73"/>
<polygon points="138.5,112.3 144.6,107.5 140.5,107 134.4,111.8" fill="#06a0cd"/>
<polygon points="175.1,93.9 181.2,88.8 177.1,88.4 171,93.5" fill="#38b99e"/>
<polygon points="211.8,74.5 217.9,69.1 213.8,68.7 207.7,74" fill="#aebe67"/>
<polygon points="148.7,107.9 154.8,103 150.7,102.6 144.6,107.5" fill="#07a9c2"/>
<polygon points="185.3,89.3 191.4,84.1 187.3,83.7 181.2,88.8" fill="#59bd8c"/>
<polygon points="222,69.5 228.1,64.1 224,63.7 217.9,69.1" fill="#c8bc5d"/>
<polygon points="127.8,116.9 128.3,116.6 127.7,116.5" fill="#108ed2"/>
<polygon points="158.9,103.4 165,98.5 160.9,98.1 154.8,103" fill="#0faeb9"/>
<polygon points="195.5,84.5 201.6,79.3 197.5,78.9 191.4,84.1" fill="#7cbf7b"/>
<polygon points="132.4,117 138.5,112.3 134.4,111.8 128.3,116.6" fill="#0998d1"/>
<polygon points="169.1,98.9 175.1,93.9 171,93.5 165,98.5" fill="#25b5a9"/>
<polygon points="205.7,79.8 211.8,74.5 207.7,74 201.6,79.3" fill="#9cbf6f"/>
<polygon points="142.6,112.7 148.7,107.9 144.6,107.5 138.5,112.3" fill="#06a4ca"/>
<polygon points="179.2,94.4 185.3,89.3 181.2,88.8 175.1,93.9" fill="#42bb98"/>
<polygon points="215.9,74.9 222,69.5 217.9,69.1 211.8,74.5" fill="#b7bd64"/>
<polygon points="152.8,108.3 158.9,103.4 154.8,103 148.7,107.9" fill="#0aacbe"/>
<polygon points="189.4,89.7 195.5,84.5 191.4,84.1 185.3,89.3" fill="#65be86"/>
<polygon points="226.1,70 232.2,64.5 228.1,64.1 222,69.5" fill="#d1bb59"/>
<polygon points="128.4,120 132.4,117 128.3,116.6 127.8,116.9" fill="#108ed2"/>
<polygon points="163,103.9 169.1,98.9 165,98.5 158.9,103.4" fill="#15b1b4"/>
<polygon points="199.6,85 205.7,79.8 201.6,79.3 195.5,84.5" fill="#87bf77"/>
<polygon points="136.5,117.4 142.6,112.7 138.5,112.3 132.4,117" fill="#079ccf"/>
<polygon points="173.1,99.4 179.2,94.4 175.1,93.9 169.1,98.9" fill="#2eb7a4"/>
<polygon points="209.8,80.2 215.9,74.9 211.8,74.5 205.7,79.8" fill="#a5be6b"/>
<polygon points="146.7,113.1 152.8,108.3 148.7,107.9 142.6,112.7" fill="#06a7c6"/>
<polygon points="183.3,94.8 189.4,89.7 185.3,89.3 179.2,94.4" fill="#4dbc92"/>
<polygon points="220,75.3 226.1,70 222,69.5 215.9,74.9" fill="#c0bc60"/>
<polygon points="156.9,108.7 163,103.9 158.9,103.4 152.8,108.3" fill="#0faeb9"/>
<polygon points="193.5,90.1 199.6,85 195.5,84.5 189.4,89.7" fill="#71bf80"/>
<polygon points="230.2,70.4 236.3,64.9 232.2,64.5 226.1,70" fill="#d9ba56"/>
<polygon points="130.4,122.1 136.5,117.4 132.4,117 128.4,120 128.8,121.9" fill="#0c93d2"/>
<polygon points="167.1,104.3 173.1,99.4 169.1,98.9 163,103.9" fill="#1db3af"/>
<polygon points="203.7,85.4 209.8,80.2 205.7,79.8 199.6,85" fill="#92bf73"/>
<polygon points="140.6,117.8 146.7,113.1 142.6,112.7 136.5,117.4" fill="#06a0cd"/>
<polygon points="177.2,99.8 183.3,94.8 179.2,94.4 173.1,99.4" fill="#38b99e"/>
<polygon points="213.9,80.6 220,75.3 215.9,74.9 209.8,80.2" fill="#aebe67"/>
<polygon points="150.8,113.5 156.9,108.7 152.8,108.3 146.7,113.1" fill="#07a9c2"/>
<polygon points="187.4,95.2 193.5,90.1 189.4,89.7 183.3,94.8" fill="#59bd8c"/>
<polygon points="224.1,75.7 230.2,70.4 226.1,70 220,75.3" fill="#c8bc5d"/>
<polygon points="129,123.1 130.4,122.1 128.8,121.9" fill="#108ed2"/>
<polygon points="161,109.2 167.1,104.3 163,103.9 156.9,108.7" fill="#15b1b4"/>
<polygon points="197.6,90.6 203.7,85.4 199.6,85 193.5,90.1" fill="#7cbf7b"/>
<polygon points="234.3,70.8 240.4,65.4 236.3,64.9 230.2,70.4" fill="#e1b952"/>
<polygon points="134.5,122.5 140.6,117.8 136.5,117.4 130.4,122.1" fill="#0998d1"/>
<polygon points="171.2,104.7 177.2,99.8 173.1,99.4 167.1,104.3" fill="#25b5a9"/>
<polygon points="207.8,85.8 213.9,80.6 209.8,80.2 203.7,85.4" fill="#9cbf6f"/>
<polygon points="144.7,118.3 150.8,113.5 146.7,113.1 140.6,117.8" fill="#06a4ca"/>
<polygon points="181.3,100.2 187.4,95.2 183.3,94.8 177.2,99.8" fill="#42bb98"/>
<polygon points="218,81 224.1,75.7 220,75.3 213.9,80.6" fill="#b7bd64"/>
<polygon points="154.9,114 161,109.2 156.9,108.7 150.8,113.5" fill="#0aacbe"/>
<polygon points="191.5,95.6 197.6,90.6 193.5,90.1 187.4,95.2" fill="#65be86"/>
<polygon points="228.2,76.2 234.3,70.8 230.2,70.4 224.1,75.7" fill="#d1bb59"/>
<polygon points="129.5,126.2 134.5,122.5 130.4,122.1 129,123.1" fill="#0c93d2"/>
<polygon points="165.1,109.6 171.2,104.7 167.1,104.3 161,109.2" fill="#15b1b4"/>
<polygon points="201.7,91 207.8,85.8 203.7,85.4 197.6,90.6" fill="#87bf77"/>
<polygon points="238.4,71.2 244.5,65.8 240.4,65.4 234.3,70.8" fill="#e9b94e"/>
<polygon points="138.6,122.9 144.7,118.3 140.6,117.8 134.5,122.5" fill="#079ccf"/>
<polygon points="175.2,105.2 181.3,100.2 177.2,99.8 171.2,104.7" fill="#2eb7a4"/>
<polygon points="211.9,86.3 218,81 213.9,80.6 207.8,85.8" fill="#a5be6b"/>
<polygon points="148.8,118.7 154.9,114 150.8,113.5 144.7,118.3" fill="#06a7c6"/>
<polygon points="185.4,100.6 191.5,95.6 187.4,95.2 181.3,100.2" fill="#4dbc92"/>
<polygon points="222.1,81.5 228.2,76.2 224.1,75.7 218,81" fill="#c0bc60"/>
<polygon points="159,114.4 165.1,109.6 161,109.2 154.9,114" fill="#0faeb9"/>
<polygon points="195.6,96.1 201.7,91 197.6,90.6 191.5,95.6" fill="#71bf80"/>
<polygon points="232.3,76.6 238.4,71.2 234.3,70.8 228.2,76.2" fill="#d9ba56"/>
<polygon points="132.5,127.5 138.6,122.9 134.5,122.5 129.5,126.2 129.7,127.2" fill="#0998d1"/>
<polygon points="169.2,110 175.2,105.2 171.2,104.7 165.1,109.6" fill="#1db3af"/>
<polygon points="205.8,91.4 211.9,86.3 207.8,85.8 201.7,91" fill="#92bf73"/>
<polygon points="242.5,71.7 248.6,66.2 244.5,65.8 238.4,71.2" fill="#f1b94a"/>
<polygon points="142.7,123.4 148.8,118.7 144.7,118.3 138.6,122.9" fill="#06a0cd"/>
<polygon points="179.3,105.6 185.4,100.6 181.3,100.2 175.2,105.2" fill="#38b99e"/>
<polygon points="216,86.7 222.1,81.5 218,81 211.9,86.3" fill="#aebe67"/>
<polygon points="152.9,119.1 159,114.4 154.9,114 148.8,118.7" fill="#07a9c2"/>
<polygon points="189.5,101.1 195.6,96.1 191.5,95.6 185.4,100.6" fill="#59bd8c"/>
<polygon points="226.2,81.9 232.3,76.6 228.2,76.2 222.1,81.5" fill="#c8bc5d"/>
<polygon points="130,129.4 132.5,127.5 129.7,127.2" fill="#108ed2"/>
<polygon points="163.1,114.8 169.2,110 165.1,109.6 159,114.4" fill="#15b1b4"/>
<polygon points="199.7,96.5 205.8,91.4 201.7,91 195.6,96.1" fill="#7cbf7b"/>
<polygon points="236.4,77 242.5,71.7 238.4,71.2 232.3,76.6" fill="#e1b952"/>
<polygon points="136.6,127.9 142.7,123.4 138.6,122.9 132.5,127.5" fill="#079ccf"/>
<polygon points="173.3,110.5 179.3,105.6 175.2,105.2 169.2,110" fill="#25b5a9"/>
<polygon points="209.9,91.8 216,86.7 211.9,86.3 205.8,91.4" fill="#9cbf6f"/>
<polygon points="246.6,72.1 252.7,66.7 248.6,66.2 242.5,71.7" fill="#f8bb44"/>
<polygon points="146.8,123.8 152.9,119.1 148.8,118.7 142.7,123.4" fill="#06a4ca"/>
<polygon points="183.4,106 189.5,101.1 185.4,100.6 179.3,105.6" fill="#42bb98"/>
<polygon points="220.1,87.1 226.2,81.9 222.1,81.5 216,86.7" fill="#b7bd64"/>
<polygon points="157,119.6 163.1,114.8 159,114.4 152.9,119.1" fill="#0aacbe"/>
<polygon points="193.6,101.5 199.7,96.5 195.6,96.1 189.5,101.1" fill="#65be86"/>
<polygon points="230.3,82.3 236.4,77 232.3,76.6 226.2,81.9" fill="#d1bb59"/>
<polygon points="130.5,132.5 136.6,127.9 132.5,127.5 130,129.4 130.4,132.5" fill="#0c93d2"/>
<polygon points="167.2,115.2 173.3,110.5 169.2,110 163.1,114.8" fill="#1db3af"/>
<polygon points="203.8,96.9 209.9,91.8 205.8,91.4 199.7,96.5" fill="#87bf77"/>
<polygon points="240.5,77.4 246.6,72.1 242.5,71.7 236.4,77" fill="#e9b94e"/>
<polygon points="140.7,128.4 146.8,123.8 142.7,123.4 136.6,127.9" fill="#06a0cd"/>
<polygon points="177.3,110.9 183.4,106 179.3,105.6 173.3,110.5" fill="#2eb7a4"/>
<polygon points="214,92.3 220.1,87.1 216,86.7 209.9,91.8" fill="#a5be6b"/>
<polygon points="250.7,72.5 256.8,67.1 252.7,66.7 246.6,72.1" fill="#fdbe3d"/>
<polygon points="150.9,124.2 157,119.6 152.9,119.1 146.8,123.8" fill="#06a7c6"/>
<polygon points="187.5,106.4 193.6,101.5 189.5,101.1 183.4,106" fill="#4dbc92"/>
<polygon points="224.2,87.5 230.3,82.3 226.2,81.9 220.1,87.1" fill="#c0bc60"/>
<polygon points="130.5,132.5 130.5,132.5 130.4,132.5" fill="#108ed2"/>
<polygon points="161.1,120 167.2,115.2 163.1,114.8 157,119.6" fill="#0faeb9"/>
<polygon points="197.7,101.9 203.8,96.9 199.7,96.5 193.6,101.5" fill="#71bf80"/>
<polygon points="234.4,82.7 240.5,77.4 236.4,77 230.3,82.3" fill="#d9ba56"/>
<polygon points="134.6,132.9 140.7,128.4 136.6,127.9 130.5,132.5" fill="#0998d1"/>
<polygon points="171.3,115.7 177.3,110.9 173.3,110.5 167.2,115.2" fill="#25b5a9"/>
<polygon points="207.9,97.3 214,92.3 209.9,91.8 203.8,96.9" fill="#92bf73"/>
<polygon points="244.6,77.9 250.7,72.5 246.6,72.1 240.5,77.4" fill="#f1b94a"/>
<polygon points="144.8,128.8 150.9,124.2 146.8,123.8 140.7,128.4" fill="#06a4ca"/>
<polygon points="181.4,111.3 187.5,106.4 183.4,106 177.3,110.9" fill="#38b99e"/>
<polygon points="218.1,92.7 224.2,87.5 220.1,87.1 214,92.3" fill="#aebe67"/>
<polygon points="254.8,72.9 260.9,67.5 256.8,67.1 250.7,72.5" fill="#ffc337"/>
<polygon points="155,124.6 161.1,120 157,119.6 150.9,124.2" fill="#07a9c2"/>
<polygon points="191.6,106.9 197.7,101.9 193.6,101.5 187.5,106.4" fill="#59bd8c"/>
<polygon points="228.3,88 234.4,82.7 230.3,82.3 224.2,87.5" fill="#c8bc5d"/>
<polygon points="130.8,135.6 134.6,132.9 130.5,132.5 130.5,132.5" fill="#108ed2"/>
<polygon points="165.2,120.4 171.3,115.7 167.2,115.2 161.1,120" fill="#15b1b4"/>
<polygon points="201.8,102.4 207.9,97.3 203.8,96.9 197.7,101.9" fill="#7cbf7b"/>
<polygon points="238.5,83.2 244.6,77.9 240.5,77.4 234.4,82.7" fill="#e1b952"/>
<polygon points="138.7,133.3 144.8,128.8 140.7,128.4 134.6,132.9" fill="#079ccf"/>
<polygon points="175.4,116.1 181.4,111.3 177.3,110.9 171.3,115.7" fill="#2eb7a4"/>
<polygon points="212,97.8 218.1,92.7 214,92.3 207.9,97.3" fill="#9cbf6f"/>
<polygon points="248.7,78.3 254.8,72.9 250.7,72.5 244.6,77.9" fill="#f8bb44"/>
<polygon points="148.9,129.2 155,124.6 150.9,124.2 144.8,128.8" fill="#06a7c6"/>
<polygon points="185.5,111.7 191.6,106.9 187.5,106.4 181.4,111.3" fill="#42bb98"/>
<polygon points="222.2,93.1 228.3,88 224.2,87.5 218.1,92.7" fill="#b7bd64"/>
<polygon points="258.9,73.4 264.9,67.9 260.9,67.5 254.8,72.9" fill="#fec832"/>
<polygon points="159.1,125.1 165.2,120.4 161.1,120 155,124.6" fill="#0aacbe"/>
<polygon points="195.7,107.3 201.8,102.4 197.7,101.9 191.6,106.9" fill="#65be86"/>
<polygon points="232.4,88.4 238.5,83.2 234.4,82.7 228.3,88" fill="#d1bb59"/>
<polygon points="132.6,137.8 138.7,133.3 134.6,132.9 130.8,135.6 131,137.6" fill="#0c93d2"/>
<polygon points="169.3,120.8 175.4,116.1 171.3,115.7 165.2,120.4" fill="#1db3af"/>
<polygon points="205.9,102.8 212,97.8 207.9,97.3 201.8,102.4" fill="#87bf77"/>
<polygon points="242.6,83.6 248.7,78.3 244.6,77.9 238.5,83.2" fill="#e1b952"/>
<polygon points="142.8,133.7 148.9,129.2 144.8,128.8 138.7,133.3" fill="#06a0cd"/>
<polygon points="179.4,116.5 185.5,111.7 181.4,111.3 175.4,116.1" fill="#38b99e"/>
<polygon points="216.1,98.2 222.2,93.1 218.1,92.7 212,97.8" fill="#a5be6b"/>
<polygon points="252.8,78.7 258.9,73.4 254.8,72.9 248.7,78.3" fill="#f8bb44"/>
<polygon points="153,129.6 159.1,125.1 155,124.6 148.9,129.2" fill="#07a9c2"/>
<polygon points="189.6,112.2 195.7,107.3 191.6,106.9 185.5,111.7" fill="#4dbc92"/>
<polygon points="226.3,93.5 232.4,88.4 228.3,88 222.2,93.1" fill="#c0bc60"/>
<polygon points="263,73.8 269,68.4 264.9,67.9 258.9,73.4" fill="#fcce2e"/>
<polygon points="131.1,138.8 132.6,137.8 131,137.6" fill="#108ed2"/>
<polygon points="163.2,125.5 169.3,120.8 165.2,120.4 159.1,125.1" fill="#0faeb9"/>
<polygon points="199.8,107.7 205.9,102.8 201.8,102.4 195.7,107.3" fill="#71bf80"/>
<polygon points="236.5,88.8 242.6,83.6 238.5,83.2 232.4,88.4" fill="#d9ba56"/>
<polygon points="136.7,138.2 142.8,133.7 138.7,133.3 132.6,137.8" fill="#0998d1"/>
<polygon points="173.4,121.3 179.4,116.5 175.4,116.1 169.3,120.8" fill="#25b5a9"/>
<polygon points="210,103.2 216.1,98.2 212,97.8 205.9,102.8" fill="#92bf73"/>
<polygon points="246.7,84 252.8,78.7 248.7,78.3 242.6,83.6" fill="#e9b94e"/>
<polygon points="146.9,134.2 153,129.6 148.9,129.2 142.8,133.7" fill="#06a4ca"/>
<polygon points="183.5,117 189.6,112.2 185.5,111.7 179.4,116.5" fill="#38b99e"/>
<polygon points="220.2,98.6 226.3,93.5 222.2,93.1 216.1,98.2" fill="#aebe67"/>
<polygon points="256.9,79.2 263,73.8 258.9,73.4 252.8,78.7" fill="#fdbe3d"/>
<polygon points="157.1,130.1 163.2,125.5 159.1,125.1 153,129.6" fill="#0aacbe"/>
<polygon points="193.7,112.6 199.8,107.7 195.7,107.3 189.6,112.2" fill="#59bd8c"/>
<polygon points="230.4,94 236.5,88.8 232.4,88.4 226.3,93.5" fill="#c8bc5d"/>
<polygon points="267,74.2 273.1,68.8 269,68.4 263,73.8" fill="#fcce2e"/>
<polygon points="131.4,142 136.7,138.2 132.6,137.8 131.1,138.8" fill="#0c93d2"/>
<polygon points="167.3,125.9 173.4,121.3 169.3,120.8 163.2,125.5" fill="#15b1b4"/>
<polygon points="203.9,108.1 210,103.2 205.9,102.8 199.8,107.7" fill="#7cbf7b"/>
<polygon points="240.6,89.2 246.7,84 242.6,83.6 236.5,88.8" fill="#d9ba56"/>
<polygon points="140.8,138.6 146.9,134.2 142.8,133.7 136.7,138.2" fill="#079ccf"/>
<polygon points="177.5,121.7 183.5,117 179.4,116.5 173.4,121.3" fill="#2eb7a4"/>
<polygon points="214.1,103.6 220.2,98.6 216.1,98.2 210,103.2" fill="#9cbf6f"/>
<polygon points="250.8,84.4 256.9,79.2 252.8,78.7 246.7,84" fill="#f1b94a"/>
<polygon points="151,134.6 157.1,130.1 153,129.6 146.9,134.2" fill="#06a7c6"/>
<polygon points="187.6,117.4 193.7,112.6 189.6,112.2 183.5,117" fill="#42bb98"/>
<polygon points="224.3,99 230.4,94 226.3,93.5 220.2,98.6" fill="#b7bd64"/>
<polygon points="261,79.6 267,74.2 263,73.8 256.9,79.2" fill="#ffc337"/>
<polygon points="161.2,130.5 167.3,125.9 163.2,125.5 157.1,130.1" fill="#0aacbe"/>
<polygon points="197.8,113 203.9,108.1 199.8,107.7 193.7,112.6" fill="#65be86"/>
<polygon points="234.5,94.4 240.6,89.2 236.5,88.8 230.4,94" fill="#d1bb59"/>
<polygon points="271.1,74.6 277.2,69.2 273.1,68.8 267,74.2" fill="#fad32a"/>
<polygon points="134.7,143 140.8,138.6 136.7,138.2 131.4,142 131.4,142.6" fill="#0998d1"/>
<polygon points="171.4,126.3 177.5,121.7 173.4,121.3 167.3,125.9" fill="#1db3af"/>
<polygon points="208,108.6 214.1,103.6 210,103.2 203.9,108.1" fill="#87bf77"/>
<polygon points="244.7,89.7 250.8,84.4 246.7,84 240.6,89.2" fill="#e1b952"/>
<polygon points="144.9,139 151,134.6 146.9,134.2 140.8,138.6" fill="#06a0cd"/>
<polygon points="181.5,122.1 187.6,117.4 183.5,117 177.5,121.7" fill="#38b99e"/>
<polygon points="218.2,104.1 224.3,99 220.2,98.6 214.1,103.6" fill="#a5be6b"/>
<polygon points="254.9,84.9 261,79.6 256.9,79.2 250.8,84.4" fill="#f8bb44"/>
<polygon points="155.1,135 161.2,130.5 157.1,130.1 151,134.6" fill="#07a9c2"/>
<polygon points="191.7,117.8 197.8,113 193.7,112.6 187.6,117.4" fill="#4dbc92"/>
<polygon points="228.4,99.5 234.5,94.4 230.4,94 224.3,99" fill="#c0bc60"/>
<polygon points="265.1,80 271.1,74.6 267,74.2 261,79.6" fill="#fec832"/>
<polygon points="131.6,145.2 134.7,143 131.4,142.6" fill="#108ed2"/>
<polygon points="165.3,130.9 171.4,126.3 167.3,125.9 161.2,130.5" fill="#0faeb9"/>
<polygon points="201.9,113.4 208,108.6 203.9,108.1 197.8,113" fill="#71bf80"/>
<polygon points="238.6,94.8 244.7,89.7 240.6,89.2 234.5,94.4" fill="#d1bb59"/>
<polygon points="275.2,75.1 281.3,69.6 277.2,69.2 271.1,74.6" fill="#f7d826"/>
<polygon points="138.8,143.4 144.9,139 140.8,138.6 134.7,143" fill="#079ccf"/>
<polygon points="175.5,126.8 181.5,122.1 177.5,121.7 171.4,126.3" fill="#25b5a9"/>
<polygon points="212.1,109 218.2,104.1 214.1,103.6 208,108.6" fill="#92bf73"/>
<polygon points="248.8,90.1 254.9,84.9 250.8,84.4 244.7,89.7" fill="#e9b94e"/>
<polygon points="149,139.5 155.1,135 151,134.6 144.9,139" fill="#06a4ca"/>
<polygon points="185.6,122.5 191.7,117.8 187.6,117.4 181.5,122.1" fill="#42bb98"/>
<polygon points="222.3,104.5 228.4,99.5 224.3,99 218.2,104.1" fill="#aebe67"/>
<polygon points="259,85.3 265.1,80 261,79.6 254.9,84.9" fill="#fdbe3d"/>
<polygon points="159.2,135.4 165.3,130.9 161.2,130.5 155.1,135" fill="#0aacbe"/>
<polygon points="195.8,118.2 201.9,113.4 197.8,113 191.7,117.8" fill="#59bd8c"/>
<polygon points="232.5,99.9 238.6,94.8 234.5,94.4 228.4,99.5" fill="#c8bc5d"/>
<polygon points="269.1,80.4 275.2,75.1 271.1,74.6 265.1,80" fill="#fcce2e"/>
<polygon points="132.7,147.7 138.8,143.4 134.7,143 131.6,145.2 131.7,147.6" fill="#0c93d2"/>
<polygon points="169.4,131.4 175.5,126.8 171.4,126.3 165.3,130.9" fill="#15b1b4"/>
<polygon points="206,113.9 212.1,109 208,108.6 201.9,113.4" fill="#7cbf7b"/>
<polygon points="242.7,95.2 248.8,90.1 244.7,89.7 238.6,94.8" fill="#d9ba56"/>
<polygon points="279.3,75.5 285.4,70.1 281.3,69.6 275.2,75.1" fill="#f5de21"/>
<polygon points="142.9,143.8 149,139.5 144.9,139 138.8,143.4" fill="#06a0cd"/>
<polygon points="179.5,127.2 185.6,122.5 181.5,122.1 175.5,126.8" fill="#2eb7a4"/>
<polygon points="216.2,109.4 222.3,104.5 218.2,104.1 212.1,109" fill="#9cbf6f"/>
<polygon points="252.9,90.5 259,85.3 254.9,84.9 248.8,90.1" fill="#f1b94a"/>
<polygon points="153.1,139.9 159.2,135.4 155.1,135 149,139.5" fill="#06a7c6"/>
<polygon points="189.7,123 195.8,118.2 191.7,117.8 185.6,122.5" fill="#4dbc92"/>
<polygon points="226.4,104.9 232.5,99.9 228.4,99.5 222.3,104.5" fill="#b7bd64"/>
<polygon points="263.1,85.7 269.1,80.4 265.1,80 259,85.3" fill="#ffc337"/>
<polygon points="131.7,148.4 132.7,147.7 131.7,147.6" fill="#108ed2"/>
<polygon points="163.3,135.9 169.4,131.4 165.3,130.9 159.2,135.4" fill="#0faeb9"/>
<polygon points="199.9,118.7 206,113.9 201.9,113.4 195.8,118.2" fill="#65be86"/>
<polygon points="236.6,100.3 242.7,95.2 238.6,94.8 232.5,99.9" fill="#d1bb59"/>
<polygon points="273.2,80.9 279.3,75.5 275.2,75.1 269.1,80.4" fill="#fad32a"/>
<polygon points="136.8,148.1 142.9,143.8 138.8,143.4 132.7,147.7" fill="#0998d1"/>
<polygon points="173.5,131.8 179.5,127.2 175.5,126.8 169.4,131.4" fill="#1db3af"/>
<polygon points="210.1,114.3 216.2,109.4 212.1,109 206,113.9" fill="#87bf77"/>
<polygon points="246.8,95.7 252.9,90.5 248.8,90.1 242.7,95.2" fill="#e1b952"/>
<polygon points="283.4,75.9 289.5,70.5 285.4,70.1 279.3,75.5" fill="#f5e41d"/>
<polygon points="147,144.3 153.1,139.9 149,139.5 142.9,143.8" fill="#06a4ca"/>
<polygon points="183.6,127.6 189.7,123 185.6,122.5 179.5,127.2" fill="#38b99e"/>
<polygon points="220.3,109.8 226.4,104.9 222.3,104.5 216.2,109.4" fill="#a5be6b"/>
<polygon points="257,90.9 263.1,85.7 259,85.3 252.9,90.5" fill="#f8bb44"/>
<polygon points="157.2,140.3 163.3,135.9 159.2,135.4 153.1,139.9" fill="#07a9c2"/>
<polygon points="193.8,123.4 199.9,118.7 195.8,118.2 189.7,123" fill="#59bd8c"/>
<polygon points="230.5,105.3 236.6,100.3 232.5,99.9 226.4,104.9" fill="#c0bc60"/>
<polygon points="267.2,86.2 273.2,80.9 269.1,80.4 263.1,85.7" fill="#fec832"/>
<polygon points="131.7,151.7 136.8,148.1 132.7,147.7 131.7,148.4" fill="#0c93d2"/>
<polygon points="167.4,136.3 173.5,131.8 169.4,131.4 163.3,135.9" fill="#15b1b4"/>
<polygon points="204,119.1 210.1,114.3 206,113.9 199.9,118.7" fill="#71bf80"/>
<polygon points="240.7,100.8 246.8,95.7 242.7,95.2 236.6,100.3" fill="#d1bb59"/>
<polygon points="277.3,81.3 283.4,75.9 279.3,75.5 273.2,80.9" fill="#f7d826"/>
<polygon points="140.9,148.6 147,144.3 142.9,143.8 136.8,148.1" fill="#079ccf"/>
<polygon points="177.6,132.2 183.6,127.6 179.5,127.2 173.5,131.8" fill="#25b5a9"/>
<polygon points="214.2,114.7 220.3,109.8 216.2,109.4 210.1,114.3" fill="#92bf73"/>
<polygon points="250.9,96.1 257,90.9 252.9,90.5 246.8,95.7" fill="#e9b94e"/>
<polygon points="287.5,76.4 293.6,70.9 289.5,70.5 283.4,75.9" fill="#f5eb18"/>
<polygon points="151.1,144.7 157.2,140.3 153.1,139.9 147,144.3" fill="#06a7c6"/>
<polygon points="187.7,128 193.8,123.4 189.7,123 183.6,127.6" fill="#42bb98"/>
<polygon points="224.4,110.3 230.5,105.3 226.4,104.9 220.3,109.8" fill="#aebe67"/>
<polygon points="261.1,91.4 267.2,86.2 263.1,85.7 257,90.9" fill="#fdbe3d"/>
<polygon points="161.3,140.7 167.4,136.3 163.3,135.9 157.2,140.3" fill="#0aacbe"/>
<polygon points="197.9,123.8 204,119.1 199.9,118.7 193.8,123.4" fill="#65be86"/>
<polygon points="234.6,105.8 240.7,100.8 236.6,100.3 230.5,105.3" fill="#c8bc5d"/>
<polygon points="271.2,86.6 277.3,81.3 273.2,80.9 267.2,86.2" fill="#fcce2e"/>
<polygon points="134.8,152.8 140.9,148.6 136.8,148.1 131.7,151.7 131.8,152.5" fill="#0998d1"/>
<polygon points="171.5,136.7 177.6,132.2 173.5,131.8 167.4,136.3" fill="#1db3af"/>
<polygon points="208.1,119.5 214.2,114.7 210.1,114.3 204,119.1" fill="#7cbf7b"/>
<polygon points="244.8,101.2 250.9,96.1 246.8,95.7 240.7,100.8" fill="#d9ba56"/>
<polygon points="281.4,81.7 287.5,76.4 283.4,75.9 277.3,81.3" fill="#f5de21"/>
<polygon points="145,149 151.1,144.7 147,144.3 140.9,148.6" fill="#06a0cd"/>
<polygon points="181.6,132.6 187.7,128 183.6,127.6 177.6,132.2" fill="#2eb7a4"/>
<polygon points="218.3,115.1 224.4,110.3 220.3,109.8 214.2,114.7" fill="#9cbf6f"/>
<polygon points="255,96.5 261.1,91.4 257,90.9 250.9,96.1" fill="#f1b94a"/>
<polygon points="155.2,145.1 161.3,140.7 157.2,140.3 151.1,144.7" fill="#07a9c2"/>
<polygon points="191.8,128.5 197.9,123.8 193.8,123.4 187.7,128" fill="#4dbc92"/>
<polygon points="228.5,110.7 234.6,105.8 230.5,105.3 224.4,110.3" fill="#b7bd64"/>
<polygon points="265.2,91.8 271.2,86.6 267.2,86.2 261.1,91.4" fill="#ffc337"/>
<polygon points="131.7,154.9 134.8,152.8 131.8,152.5" fill="#108ed2"/>
<polygon points="165.4,141.2 171.5,136.7 167.4,136.3 161.3,140.7" fill="#0faeb9"/>
<polygon points="202,124.2 208.1,119.5 204,119.1 197.9,123.8" fill="#71bf80"/>
<polygon points="238.7,106.2 244.8,101.2 240.7,100.8 234.6,105.8" fill="#d1bb59"/>
<polygon points="275.3,87 281.4,81.7 277.3,81.3 271.2,86.6" fill="#fad32a"/>
<polygon points="138.9,153.2 145,149 140.9,148.6 134.8,152.8" fill="#079ccf"/>
<polygon points="175.6,137.1 181.6,132.6 177.6,132.2 171.5,136.7" fill="#25b5a9"/>
<polygon points="212.2,119.9 218.3,115.1 214.2,114.7 208.1,119.5" fill="#87bf77"/>
<polygon points="248.9,101.6 255,96.5 250.9,96.1 244.8,101.2" fill="#e1b952"/>
<polygon points="149.1,149.4 155.2,145.1 151.1,144.7 145,149" fill="#06a4ca"/>
<polygon points="185.7,133.1 191.8,128.5 187.7,128 181.6,132.6" fill="#38b99e"/>
<polygon points="222.4,115.6 228.5,110.7 224.4,110.3 218.3,115.1" fill="#a5be6b"/>
<polygon points="259.1,97 265.2,91.8 261.1,91.4 255,96.5" fill="#f8bb44"/>
<polygon points="159.3,145.5 165.4,141.2 161.3,140.7 155.2,145.1" fill="#0aacbe"/>
<polygon points="195.9,128.9 202,124.2 197.9,123.8 191.8,128.5" fill="#59bd8c"/>
<polygon points="232.6,111.1 238.7,106.2 234.6,105.8 228.5,110.7" fill="#c0bc60"/>
<polygon points="269.3,92.2 275.3,87 271.2,86.6 265.2,91.8" fill="#fec832"/>
<polygon points="132.8,157.4 138.9,153.2 134.8,152.8 131.7,154.9 131.7,157.3" fill="#0c93d2"/>
<polygon points="169.5,141.6 175.6,137.1 171.5,136.7 165.4,141.2" fill="#15b1b4"/>
<polygon points="206.1,124.7 212.2,119.9 208.1,119.5 202,124.2" fill="#7cbf7b"/>
<polygon points="242.8,106.6 248.9,101.6 244.8,101.2 238.7,106.2" fill="#d9ba56"/>
<polygon points="143,153.7 149.1,149.4 145,149 138.9,153.2" fill="#06a0cd"/>
<polygon points="179.7,137.6 185.7,133.1 181.6,132.6 175.6,137.1" fill="#2eb7a4"/>
<polygon points="216.3,120.4 222.4,115.6 218.3,115.1 212.2,119.9" fill="#92bf73"/>
<polygon points="253,102 259.1,97 255,96.5 248.9,101.6" fill="#e9b94e"/>
<polygon points="153.2,149.8 159.3,145.5 155.2,145.1 149.1,149.4" fill="#06a7c6"/>
<polygon points="189.8,133.5 195.9,128.9 191.8,128.5 185.7,133.1" fill="#42bb98"/>
<polygon points="226.5,116 232.6,111.1 228.5,110.7 222.4,115.6" fill="#aebe67"/>
<polygon points="263.2,97.4 269.3,92.2 265.2,91.8 259.1,97" fill="#fdbe3d"/>
<polygon points="131.6,158.2 132.8,157.4 131.7,157.3" fill="#108ed2"/>
<polygon points="163.4,146 169.5,141.6 165.4,141.2 159.3,145.5" fill="#0faeb9"/>
<polygon points="200,129.3 206.1,124.7 202,124.2 195.9,128.9" fill="#65be86"/>
<polygon points="236.7,111.6 242.8,106.6 238.7,106.2 232.6,111.1" fill="#c8bc5d"/>
<polygon points="136.9,157.8 143,153.7 138.9,153.2 132.8,157.4" fill="#0998d1"/>
<polygon points="173.6,142 179.7,137.6 175.6,137.1 169.5,141.6" fill="#1db3af"/>
<polygon points="210.2,125.1 216.3,120.4 212.2,119.9 206.1,124.7" fill="#7cbf7b"/>
<polygon points="246.9,107 253,102 248.9,101.6 242.8,106.6" fill="#d9ba56"/>
<polygon points="147.1,154.1 153.2,149.8 149.1,149.4 143,153.7" fill="#06a4ca"/>
<polygon points="183.7,138 189.8,133.5 185.7,133.1 179.7,137.6" fill="#38b99e"/>
<polygon points="220.4,120.8 226.5,116 222.4,115.6 216.3,120.4" fill="#9cbf6f"/>
<polygon points="257.1,102.5 263.2,97.4 259.1,97 253,102" fill="#f1b94a"/>
<polygon points="157.3,150.3 163.4,146 159.3,145.5 153.2,149.8" fill="#07a9c2"/>
<polygon points="193.9,133.9 200,129.3 195.9,128.9 189.8,133.5" fill="#4dbc92"/>
<polygon points="230.6,116.4 236.7,111.6 232.6,111.1 226.5,116" fill="#b7bd64"/>
<polygon points="131.4,161.5 136.9,157.8 132.8,157.4 131.6,158.2" fill="#0c93d2"/>
<polygon points="167.5,146.4 173.6,142 169.5,141.6 163.4,146" fill="#15b1b4"/>
<polygon points="204.1,129.8 210.2,125.1 206.1,124.7 200,129.3" fill="#71bf80"/>
<polygon points="240.8,112 246.9,107 242.8,106.6 236.7,111.6" fill="#d1bb59"/>
<polygon points="141,158.2 147.1,154.1 143,153.7 136.9,157.8" fill="#079ccf"/>
<polygon points="177.7,142.4 183.7,138 179.7,137.6 173.6,142" fill="#25b5a9"/>
<polygon points="214.3,125.5 220.4,120.8 216.3,120.4 210.2,125.1" fill="#87bf77"/>
<polygon points="251,107.5 257.1,102.5 253,102 246.9,107" fill="#e1b952"/>
<polygon points="151.2,154.5 157.3,150.3 153.2,149.8 147.1,154.1" fill="#06a7c6"/>
<polygon points="187.8,138.4 193.9,133.9 189.8,133.5 183.7,138" fill="#42bb98"/>
<polygon points="224.5,121.2 230.6,116.4 226.5,116 220.4,120.8" fill="#a5be6b"/>
<polygon points="161.4,150.7 167.5,146.4 163.4,146 157.3,150.3" fill="#0aacbe"/>
<polygon points="198,134.3 204.1,129.8 200,129.3 193.9,133.9" fill="#59bd8c"/>
<polygon points="234.7,116.9 240.8,112 236.7,111.6 230.6,116.4" fill="#c0bc60"/>
<polygon points="134.9,162.3 141,158.2 136.9,157.8 131.4,161.5 131.4,162" fill="#0998d1"/>
<polygon points="171.6,146.8 177.7,142.4 173.6,142 167.5,146.4" fill="#1db3af"/>
<polygon points="208.2,130.2 214.3,125.5 210.2,125.1 204.1,129.8" fill="#7cbf7b"/>
<polygon points="244.9,112.4 251,107.5 246.9,107 240.8,112" fill="#d9ba56"/>
<polygon points="145.1,158.7 151.2,154.5 147.1,154.1 141,158.2" fill="#06a0cd"/>
<polygon points="181.8,142.9 187.8,138.4 183.7,138 177.7,142.4" fill="#2eb7a4"/>
<polygon points="218.4,125.9 224.5,121.2 220.4,120.8 214.3,125.5" fill="#92bf73"/>
<polygon points="155.3,154.9 161.4,150.7 157.3,150.3 151.2,154.5" fill="#07a9c2"/>
<polygon points="191.9,138.9 198,134.3 193.9,133.9 187.8,138.4" fill="#4dbc92"/>
<polygon points="228.6,121.6 234.7,116.9 230.6,116.4 224.5,121.2" fill="#aebe67"/>
<polygon points="131.2,164.8 134.9,162.3 131.4,162" fill="#0c93d2"/>
<polygon points="165.5,151.1 171.6,146.8 167.5,146.4 161.4,150.7" fill="#0faeb9"/>
<polygon points="202.1,134.8 208.2,130.2 204.1,129.8 198,134.3" fill="#65be86"/>
<polygon points="238.8,117.3 244.9,112.4 240.8,112 234.7,116.9" fill="#c8bc5d"/>
<polygon points="139,162.8 145.1,158.7 141,158.2 134.9,162.3" fill="#079ccf"/>
<polygon points="175.7,147.2 181.8,142.9 177.7,142.4 171.6,146.8" fill="#1db3af"/>
<polygon points="212.3,130.6 218.4,125.9 214.3,125.5 208.2,130.2" fill="#87bf77"/>
<polygon points="149.2,159.1 155.3,154.9 151.2,154.5 145.1,158.7" fill="#06a4ca"/>
<polygon points="185.8,143.3 191.9,138.9 187.8,138.4 181.8,142.9" fill="#38b99e"/>
<polygon points="222.5,126.4 228.6,121.6 224.5,121.2 218.4,125.9" fill="#9cbf6f"/>
<polygon points="159.4,155.4 165.5,151.1 161.4,150.7 155.3,154.9" fill="#0aacbe"/>
<polygon points="196,139.3 202.1,134.8 198,134.3 191.9,138.9" fill="#59bd8c"/>
<polygon points="232.7,122.1 238.8,117.3 234.7,116.9 228.6,121.6" fill="#b7bd64"/>
<polygon points="132.9,166.8 139,162.8 134.9,162.3 131.2,164.8 131,166.6" fill="#0998d1"/>
<polygon points="169.6,151.6 175.7,147.2 171.6,146.8 165.5,151.1" fill="#15b1b4"/>
<polygon points="206.2,135.2 212.3,130.6 208.2,130.2 202.1,134.8" fill="#71bf80"/>
<polygon points="143.1,163.2 149.2,159.1 145.1,158.7 139,162.8" fill="#06a0cd"/>
<polygon points="179.8,147.7 185.8,143.3 181.8,142.9 175.7,147.2" fill="#25b5a9"/>
<polygon points="216.4,131 222.5,126.4 218.4,125.9 212.3,130.6" fill="#92bf73"/>
<polygon points="153.3,159.5 159.4,155.4 155.3,154.9 149.2,159.1" fill="#06a7c6"/>
<polygon points="189.9,143.7 196,139.3 191.9,138.9 185.8,143.3" fill="#42bb98"/>
<polygon points="226.6,126.8 232.7,122.1 228.6,121.6 222.5,126.4" fill="#a5be6b"/>
<polygon points="130.8,168.2 132.9,166.8 131,166.6" fill="#108ed2"/>
<polygon points="163.5,155.8 169.6,151.6 165.5,151.1 159.4,155.4" fill="#0faeb9"/>
<polygon points="200.1,139.7 206.2,135.2 202.1,134.8 196,139.3" fill="#59bd8c"/>
<polygon points="137,167.2 143.1,163.2 139,162.8 132.9,166.8" fill="#0998d1"/>
<polygon points="173.7,152 179.8,147.7 175.7,147.2 169.6,151.6" fill="#1db3af"/>
<polygon points="210.3,135.6 216.4,131 212.3,130.6 206.2,135.2" fill="#7cbf7b"/>
<polygon points="147.2,163.6 153.3,159.5 149.2,159.1 143.1,163.2" fill="#06a4ca"/>
<polygon points="183.9,148.1 189.9,143.7 185.8,143.3 179.8,147.7" fill="#2eb7a4"/>
<polygon points="220.5,131.5 226.6,126.8 222.5,126.4 216.4,131" fill="#9cbf6f"/>
<polygon points="157.4,159.9 163.5,155.8 159.4,155.4 153.3,159.5" fill="#07a9c2"/>
<polygon points="194,144.2 200.1,139.7 196,139.3 189.9,143.7" fill="#4dbc92"/>
<polygon points="130.9,171.2 137,167.2 132.9,166.8 130.8,168.2 130.4,171.1" fill="#0c93d2"/>
<polygon points="167.6,156.2 173.7,152 169.6,151.6 163.5,155.8" fill="#0faeb9"/>
<polygon points="204.2,140.1 210.3,135.6 206.2,135.2 200.1,139.7" fill="#65be86"/>
<polygon points="141.1,167.6 147.2,163.6 143.1,163.2 137,167.2" fill="#079ccf"/>
<polygon points="177.8,152.4 183.9,148.1 179.8,147.7 173.7,152" fill="#25b5a9"/>
<polygon points="214.4,136 220.5,131.5 216.4,131 210.3,135.6" fill="#87bf77"/>
<polygon points="151.3,164 157.4,159.9 153.3,159.5 147.2,163.6" fill="#06a7c6"/>
<polygon points="187.9,148.5 194,144.2 189.9,143.7 183.9,148.1" fill="#38b99e"/>
<polygon points="130.4,171.5 130.9,171.2 130.4,171.1" fill="#108ed2"/>
<polygon points="161.5,160.4 167.6,156.2 163.5,155.8 157.4,159.9" fill="#0aacbe"/>
<polygon points="198.1,144.6 204.2,140.1 200.1,139.7 194,144.2" fill="#59bd8c"/>
<polygon points="135,171.6 141.1,167.6 137,167.2 130.9,171.2" fill="#0998d1"/>
<polygon points="171.7,156.6 177.8,152.4 173.7,152 167.6,156.2" fill="#15b1b4"/>
<polygon points="208.3,140.6 214.4,136 210.3,135.6 204.2,140.1" fill="#71bf80"/>
<polygon points="145.2,168.1 151.3,164 147.2,163.6 141.1,167.6" fill="#06a0cd"/>
<polygon points="181.9,152.8 187.9,148.5 183.9,148.1 177.8,152.4" fill="#2eb7a4"/>
<polygon points="155.4,164.5 161.5,160.4 157.4,159.9 151.3,164" fill="#07a9c2"/>
<polygon points="192,149 198.1,144.6 194,144.2 187.9,148.5" fill="#42bb98"/>
<polygon points="129.8,174.9 135,171.6 130.9,171.2 130.4,171.5" fill="#0c93d2"/>
<polygon points="165.6,160.8 171.7,156.6 167.6,156.2 161.5,160.4" fill="#0faeb9"/>
<polygon points="202.2,145 208.3,140.6 204.2,140.1 198.1,144.6" fill="#65be86"/>
<polygon points="139.1,172 145.2,168.1 141.1,167.6 135,171.6" fill="#079ccf"/>
<polygon points="175.8,157.1 181.9,152.8 177.8,152.4 171.7,156.6" fill="#1db3af"/>
<polygon points="149.3,168.5 155.4,164.5 151.3,164 145.2,168.1" fill="#06a4ca"/>
<polygon points="186,153.3 192,149 187.9,148.5 181.9,152.8" fill="#38b99e"/>
<polygon points="159.5,164.9 165.6,160.8 161.5,160.4 155.4,164.5" fill="#0aacbe"/>
<polygon points="196.1,149.4 202.2,145 198.1,144.6 192,149" fill="#4dbc92"/>
<polygon points="133,175.9 139.1,172 135,171.6 129.8,174.9 129.7,175.5" fill="#0998d1"/>
<polygon points="169.7,161.2 175.8,157.1 171.7,156.6 165.6,160.8" fill="#15b1b4"/>
<polygon points="143.2,172.4 149.3,168.5 145.2,168.1 139.1,172" fill="#06a0cd"/>
<polygon points="179.9,157.5 186,153.3 181.9,152.8 175.8,157.1" fill="#25b5a9"/>
<polygon points="153.4,168.9 159.5,164.9 155.4,164.5 149.3,168.5" fill="#06a7c6"/>
<polygon points="190,153.7 196.1,149.4 192,149 186,153.3" fill="#42bb98"/>
<polygon points="129.1,178.3 133,175.9 129.7,175.5" fill="#0c93d2"/>
<polygon points="163.6,165.3 169.7,161.2 165.6,160.8 159.5,164.9" fill="#0faeb9"/>
<polygon points="137.1,176.3 143.2,172.4 139.1,172 133,175.9" fill="#079ccf"/>
<polygon points="173.8,161.7 179.9,157.5 175.8,157.1 169.7,161.2" fill="#1db3af"/>
<polygon points="147.3,172.9 153.4,168.9 149.3,168.5 143.2,172.4" fill="#06a4ca"/>
<polygon points="184,157.9 190,153.7 186,153.3 179.9,157.5" fill="#2eb7a4"/>
<polygon points="157.5,169.3 163.6,165.3 159.5,164.9 153.4,168.9" fill="#07a9c2"/>
<polygon points="131,180.1 137.1,176.3 133,175.9 129.1,178.3 128.8,179.9" fill="#0998d1"/>
<polygon points="167.7,165.7 173.8,161.7 169.7,161.2 163.6,165.3" fill="#15b1b4"/>
<polygon points="141.2,176.7 147.3,172.9 143.2,172.4 137.1,176.3" fill="#06a0cd"/>
<polygon points="177.9,162.1 184,157.9 179.9,157.5 173.8,161.7" fill="#25b5a9"/>
<polygon points="151.4,173.3 157.5,169.3 153.4,168.9 147.3,172.9" fill="#06a7c6"/>
<polygon points="161.6,169.8 167.7,165.7 163.6,165.3 157.5,169.3" fill="#0aacbe"/>
<polygon points="135.1,180.6 141.2,176.7 137.1,176.3 131,180.1" fill="#079ccf"/>
<polygon points="171.8,166.2 177.9,162.1 173.8,161.7 167.7,165.7" fill="#1db3af"/>
<polygon points="145.3,177.2 151.4,173.3 147.3,172.9 141.2,176.7" fill="#06a4ca"/>
<polygon points="155.5,173.7 161.6,169.8 157.5,169.3 151.4,173.3" fill="#07a9c2"/>
<polygon points="165.7,170.2 171.8,166.2 167.7,165.7 161.6,169.8" fill="#0faeb9"/>
<polygon points="139.2,181 145.3,177.2 141.2,176.7 135.1,180.6" fill="#06a0cd"/>
<polygon points="149.4,177.6 155.5,173.7 151.4,173.3 145.3,177.2" fill="#06a7c6"/>
<polygon points="159.6,174.1 165.7,170.2 161.6,169.8 155.5,173.7" fill="#0aacbe"/>
<polygon points="143.3,181.4 149.4,177.6 145.3,177.2 139.2,181" fill="#06a0cd"/>
<polygon points="153.5,178 159.6,174.1 155.5,173.7 149.4,177.6" fill="#07a9c2"/>
<polygon points="147.4,181.8 153.5,178 149.4,177.6 143.3,181.4" fill="#06a4ca"/>
</g>
<line x1="439.12" y1="166.92" x2="439.12" y2="33.62" stroke="#e0e0e0" stroke-width="0.9"/>
<line x1="544.6" y1="220.5" x2="439.12" y2="166.92" stroke="#e0e0e0" stroke-width="0.9"/>
<line x1="489.22" y1="154.42" x2="489.22" y2="21.12" stroke="#e0e0e0" stroke-width="0.9"/>
<line x1="594.7" y1="208" x2="489.22" y2="154.42" stroke="#e0e0e0" stroke-width="0.9"/>
<line x1="539.32" y1="141.92" x2="539.32" y2="8.62" stroke="#e0e0e0" stroke-width="0.9"/>
<line x1="644.8" y1="195.5" x2="539.32" y2="141.92" stroke="#e0e0e0" stroke-width="0.9"/>
<line x1="389.02" y1="179.42" x2="539.32" y2="141.92" stroke="#e0e0e0" stroke-width="0.9"/>
<line x1="644.8" y1="195.5" x2="539.32" y2="141.92" stroke="#e0e0e0" stroke-width="0.9"/>
<line x1="389.02" y1="146.1" x2="539.32" y2="108.6" stroke="#e0e0e0" stroke-width="0.9"/>
<line x1="644.8" y1="162.18" x2="539.32" y2="108.6" stroke="#e0e0e0" stroke-width="0.9"/>
<line x1="389.02" y1="112.77" x2="539.32" y2="75.27" stroke="#e0e0e0" stroke-width="0.9"/>
<line x1="644.8" y1="128.85" x2="539.32" y2="75.27" stroke="#e0e0e0" stroke-width="0.9"/>
<line x1="389.02" y1="79.45" x2="539.32" y2="41.95" stroke="#e0e0e0" stroke-width="0.9"/>
<line x1="644.8" y1="95.53" x2="539.32" y2="41.95" stroke="#e0e0e0" stroke-width="0.9"/>
<line x1="389.02" y1="46.12" x2="539.32" y2="8.62" stroke="#e0e0e0" stroke-width="0.9"/>
<line x1="644.8" y1="62.2" x2="539.32" y2="8.62" stroke="#e0e0e0" stroke-width="0.9"/>
<line x1="644.8" y1="195.5" x2="644.8" y2="62.2" stroke="#e0e0e0" stroke-width="0.9"/>
<line x1="494.5" y1="233" x2="644.8" y2="195.5" stroke="#e0e0e0" stroke-width="0.9"/>
<line x1="609.64" y1="177.64" x2="609.64" y2="44.34" stroke="#e0e0e0" stroke-width="0.9"/>
<line x1="459.34" y1="215.14" x2="609.64" y2="177.64" stroke="#e0e0e0" stroke-width="0.9"/>
<line x1="574.48" y1="159.78" x2="574.48" y2="26.48" stroke="#e0e0e0" stroke-width="0.9"/>
<line x1="424.18" y1="197.28" x2="574.48" y2="159.78" stroke="#e0e0e0" stroke-width="0.9"/>
<line x1="539.32" y1="141.92" x2="539.32" y2="8.62" stroke="#e0e0e0" stroke-width="0.9"/>
<line x1="389.02" y1="179.42" x2="539.32" y2="141.92" stroke="#e0e0e0" stroke-width="0.9"/>
<line x1="389.02" y1="179.42" x2="389.02" y2="46.12" stroke="#262626" stroke-width="0.75"/>
<line x1="389.02" y1="179.42" x2="494.5" y2="233" stroke="#262626" stroke-width="0.75"/>
<line x1="494.5" y1="233" x2="644.8" y2="195.5" stroke="#262626" stroke-width="0.75"/>
<line x1="389.02" y1="179.42" x2="385.01" y2="177.38" stroke="#262626" stroke-width="0.75"/>
<line x1="389.02" y1="146.1" x2="385.01" y2="144.06" stroke="#262626" stroke-width="0.75"/>
<line x1="389.02" y1="112.77" x2="385.01" y2="110.73" stroke="#262626" stroke-width="0.75"/>
<line x1="389.02" y1="79.45" x2="385.01" y2="77.41" stroke="#262626" stroke-width="0.75"/>
<line x1="389.02" y1="46.12" x2="385.01" y2="44.08" stroke="#262626" stroke-width="0.75"/>
<line x1="494.5" y1="233" x2="490.13" y2="234.09" stroke="#262626" stroke-width="0.75"/>
<line x1="459.34" y1="215.14" x2="454.97" y2="216.23" stroke="#262626" stroke-width="0.75"/>
<line x1="424.18" y1="197.28" x2="419.81" y2="198.37" stroke="#262626" stroke-width="0.75"/>
<line x1="389.02" y1="179.42" x2="384.65" y2="180.51" stroke="#262626" stroke-width="0.75"/>
<line x1="494.5" y1="233" x2="498.51" y2="235.04" stroke="#262626" stroke-width="0.75"/>
<line x1="544.6" y1="220.5" x2="548.61" y2="222.54" stroke="#262626" stroke-width="0.75"/>
<line x1="594.7" y1="208" x2="598.71" y2="210.04" stroke="#262626" stroke-width="0.75"/>
<line x1="644.8" y1="195.5" x2="648.81" y2="197.54" stroke="#262626" stroke-width="0.75"/>
<g stroke="#000" stroke-width="0.6">
<polygon points="458.5,112.8 457.9,113.2 458.5,113.2" fill="#1485d4"/>
<polygon points="455.2,117.8 458.8,115.4 458.5,113.2 457.9,113.2 451.6,117.3" fill="#127dd8"/>
<polygon points="448.9,121.8 455.2,117.8 451.6,117.3 445.4,121.4" fill="#1079da"/>
<polygon points="458.7,118.2 459.1,117.9 458.8,115.4 455.2,117.8" fill="#1481d6"/>
<polygon points="442.6,125.8 448.9,121.8 445.4,121.4 439.1,125.4" fill="#0871de"/>
<polygon points="452.4,122.3 458.7,118.2 455.2,117.8 448.9,121.8" fill="#127dd8"/>
<polygon points="459.1,117.9 458.7,118.2 459.1,118.3" fill="#1485d4"/>
<polygon points="436.4,129.8 442.6,125.8 439.1,125.4 432.9,129.3" fill="#046de0"/>
<polygon points="446.2,126.3 452.4,122.3 448.9,121.8 442.6,125.8" fill="#0d75dc"/>
<polygon points="455.9,122.7 459.3,120.6 459.1,118.3 458.7,118.2 452.4,122.3" fill="#127dd8"/>
<polygon points="430.1,133.6 436.4,129.8 432.9,129.3 426.6,133.1" fill="#0363e1"/>
<polygon points="439.9,130.2 446.2,126.3 442.6,125.8 436.4,129.8" fill="#046de0"/>
<polygon points="449.7,126.7 455.9,122.7 452.4,122.3 446.2,126.3" fill="#1079da"/>
<polygon points="459.4,123.2 459.5,123.2 459.3,120.6 455.9,122.7" fill="#1481d6"/>
<polygon points="423.8,137.4 430.1,133.6 426.6,133.1 420.3,136.9" fill="#0f5cdd"/>
<polygon points="433.6,134 439.9,130.2 436.4,129.8 430.1,133.6" fill="#0268e1"/>
<polygon points="443.4,130.7 449.7,126.7 446.2,126.3 439.9,130.2" fill="#0871de"/>
<polygon points="453.2,127.2 459.4,123.2 455.9,122.7 449.7,126.7" fill="#127dd8"/>
<polygon points="459.5,123.2 459.4,123.2 459.5,123.2" fill="#1485d4"/>
<polygon points="417.6,141 423.8,137.4 420.3,136.9 414.1,140.6" fill="#2c4ac7"/>
<polygon points="427.4,137.8 433.6,134 430.1,133.6 423.8,137.4" fill="#0363e1"/>
<polygon points="437.1,134.5 443.4,130.7 439.9,130.2 433.6,134" fill="#046de0"/>
<polygon points="446.9,131.1 453.2,127.2 449.7,126.7 443.4,130.7" fill="#0d75dc"/>
<polygon points="456.7,127.7 459.6,125.8 459.5,123.2 459.4,123.2 453.2,127.2" fill="#1481d6"/>
<polygon points="411.3,144.6 417.6,141 414.1,140.6 407.8,144.2" fill="#3243ba"/>
<polygon points="421.1,141.5 427.4,137.8 423.8,137.4 417.6,141" fill="#2053d4"/>
<polygon points="430.9,138.3 437.1,134.5 433.6,134 427.4,137.8" fill="#0363e1"/>
<polygon points="440.7,135 446.9,131.1 443.4,130.7 437.1,134.5" fill="#0871de"/>
<polygon points="450.4,131.6 456.7,127.7 453.2,127.2 446.9,131.1" fill="#1079da"/>
<polygon points="459.6,125.8 456.7,127.7 459.7,128" fill="#1481d6"/>
<polygon points="405.1,148.1 411.3,144.6 407.8,144.2 401.5,147.7" fill="#353dad"/>
<polygon points="414.8,145.1 421.1,141.5 417.6,141 411.3,144.6" fill="#2c4ac7"/>
<polygon points="424.6,141.9 430.9,138.3 427.4,137.8 421.1,141.5" fill="#0f5cdd"/>
<polygon points="434.4,138.7 440.7,135 437.1,134.5 430.9,138.3" fill="#0268e1"/>
<polygon points="444.2,135.4 450.4,131.6 446.9,131.1 440.7,135" fill="#0d75dc"/>
<polygon points="454,132 459.7,128.5 459.7,128 456.7,127.7 450.4,131.6" fill="#127dd8"/>
<polygon points="398.8,151.6 405.1,148.1 401.5,147.7 395.3,151.1" fill="#3637a0"/>
<polygon points="408.6,148.6 414.8,145.1 411.3,144.6 405.1,148.1" fill="#3243ba"/>
<polygon points="418.4,145.5 424.6,141.9 421.1,141.5 414.8,145.1" fill="#2053d4"/>
<polygon points="428.1,142.4 434.4,138.7 430.9,138.3 424.6,141.9" fill="#0363e1"/>
<polygon points="437.9,139.2 444.2,135.4 440.7,135 434.4,138.7" fill="#046de0"/>
<polygon points="447.7,135.9 454,132 450.4,131.6 444.2,135.4" fill="#0d75dc"/>
<polygon points="457.5,132.5 459.6,131.1 459.7,128.5 454,132" fill="#1481d6"/>
<polygon points="392.5,154.9 398.8,151.6 395.3,151.1 389,154.5" fill="#352a87"/>
<polygon points="402.3,152 408.6,148.6 405.1,148.1 398.8,151.6" fill="#3637a0"/>
<polygon points="412.1,149.1 418.4,145.5 414.8,145.1 408.6,148.6" fill="#3243ba"/>
<polygon points="421.9,146 428.1,142.4 424.6,141.9 418.4,145.5" fill="#0f5cdd"/>
<polygon points="431.6,142.8 437.9,139.2 434.4,138.7 428.1,142.4" fill="#0268e1"/>
<polygon points="441.4,139.6 447.7,135.9 444.2,135.4 437.9,139.2" fill="#0871de"/>
<polygon points="451.2,136.3 457.5,132.5 454,132 447.7,135.9" fill="#1079da"/>
<polygon points="459.6,131.1 457.5,132.5 459.6,132.8" fill="#1485d4"/>
<polygon points="396.1,155.4 402.3,152 398.8,151.6 392.5,154.9" fill="#363093"/>
<polygon points="405.8,152.5 412.1,149.1 408.6,148.6 402.3,152" fill="#353dad"/>
<polygon points="415.6,149.5 421.9,146 418.4,145.5 412.1,149.1" fill="#2c4ac7"/>
<polygon points="425.4,146.4 431.6,142.8 428.1,142.4 421.9,146" fill="#0f5cdd"/>
<polygon points="435.2,143.3 441.4,139.6 437.9,139.2 431.6,142.8" fill="#046de0"/>
<polygon points="444.9,140.1 451.2,136.3 447.7,135.9 441.4,139.6" fill="#0d75dc"/>
<polygon points="454.7,136.8 459.6,133.8 459.6,132.8 457.5,132.5 451.2,136.3" fill="#127dd8"/>
<polygon points="399.6,155.9 405.8,152.5 402.3,152 396.1,155.4" fill="#3637a0"/>
<polygon points="409.3,152.9 415.6,149.5 412.1,149.1 405.8,152.5" fill="#3243ba"/>
<polygon points="419.1,150 425.4,146.4 421.9,146 415.6,149.5" fill="#2053d4"/>
<polygon points="428.9,146.9 435.2,143.3 431.6,142.8 425.4,146.4" fill="#0363e1"/>
<polygon points="438.7,143.7 444.9,140.1 441.4,139.6 435.2,143.3" fill="#0871de"/>
<polygon points="448.5,140.5 454.7,136.8 451.2,136.3 444.9,140.1" fill="#1079da"/>
<polygon points="458.2,137.2 459.4,136.5 459.6,133.8 454.7,136.8" fill="#1481d6"/>
<polygon points="403.1,156.3 409.3,152.9 405.8,152.5 399.6,155.9" fill="#353dad"/>
<polygon points="412.9,153.4 419.1,150 415.6,149.5 409.3,152.9" fill="#2c4ac7"/>
<polygon points="422.6,150.4 428.9,146.9 425.4,146.4 419.1,150" fill="#0f5cdd"/>
<polygon points="432.4,147.3 438.7,143.7 435.2,143.3 428.9,146.9" fill="#0268e1"/>
<polygon points="442.2,144.2 448.5,140.5 444.9,140.1 438.7,143.7" fill="#0871de"/>
<polygon points="452,141 458.2,137.2 454.7,136.8 448.5,140.5" fill="#127dd8"/>
<polygon points="459.4,136.5 458.2,137.2 459.4,137.4" fill="#1485d4"/>
<polygon points="406.6,156.8 412.9,153.4 409.3,152.9 403.1,156.3" fill="#3243ba"/>
<polygon points="416.4,153.9 422.6,150.4 419.1,150 412.9,153.4" fill="#2053d4"/>
<polygon points="426.2,150.9 432.4,147.3 428.9,146.9 422.6,150.4" fill="#0363e1"/>
<polygon points="435.9,147.8 442.2,144.2 438.7,143.7 432.4,147.3" fill="#046de0"/>
<polygon points="445.7,144.7 452,141 448.5,140.5 442.2,144.2" fill="#0d75dc"/>
<polygon points="455.5,141.4 459.2,139.2 459.4,137.4 458.2,137.2 452,141" fill="#127dd8"/>
<polygon points="410.1,157.2 416.4,153.9 412.9,153.4 406.6,156.8" fill="#2c4ac7"/>
<polygon points="419.9,154.3 426.2,150.9 422.6,150.4 416.4,153.9" fill="#0f5cdd"/>
<polygon points="429.7,151.3 435.9,147.8 432.4,147.3 426.2,150.9" fill="#0268e1"/>
<polygon points="439.5,148.3 445.7,144.7 442.2,144.2 435.9,147.8" fill="#0871de"/>
<polygon points="449.2,145.1 455.5,141.4 452,141 445.7,144.7" fill="#1079da"/>
<polygon points="459.2,139.2 455.5,141.4 458.9,141.9" fill="#1481d6"/>
<polygon points="413.6,157.7 419.9,154.3 416.4,153.9 410.1,157.2" fill="#2053d4"/>
<polygon points="423.4,154.8 429.7,151.3 426.2,150.9 419.9,154.3" fill="#0363e1"/>
<polygon points="433.2,151.8 439.5,148.3 435.9,147.8 429.7,151.3" fill="#046de0"/>
<polygon points="443,148.7 449.2,145.1 445.7,144.7 439.5,148.3" fill="#0d75dc"/>
<polygon points="452.7,145.6 458.9,142 458.9,141.9 455.5,141.4 449.2,145.1" fill="#127dd8"/>
<polygon points="417.1,158.1 423.4,154.8 419.9,154.3 413.6,157.7" fill="#2053d4"/>
<polygon points="426.9,155.2 433.2,151.8 429.7,151.3 423.4,154.8" fill="#0363e1"/>
<polygon points="436.7,152.2 443,148.7 439.5,148.3 433.2,151.8" fill="#0871de"/>
<polygon points="446.5,149.2 452.7,145.6 449.2,145.1 443,148.7" fill="#1079da"/>
<polygon points="456.3,146 458.4,144.7 458.9,142 452.7,145.6" fill="#1481d6"/>
<polygon points="420.7,158.6 426.9,155.2 423.4,154.8 417.1,158.1" fill="#0f5cdd"/>
<polygon points="430.4,155.7 436.7,152.2 433.2,151.8 426.9,155.2" fill="#0268e1"/>
<polygon points="440.2,152.7 446.5,149.2 443,148.7 436.7,152.2" fill="#0871de"/>
<polygon points="450,149.6 456.3,146 452.7,145.6 446.5,149.2" fill="#1079da"/>
<polygon points="458.4,144.7 456.3,146 458.2,146.3" fill="#1485d4"/>
<polygon points="424.2,159 430.4,155.7 426.9,155.2 420.7,158.6" fill="#0363e1"/>
<polygon points="434,156.1 440.2,152.7 436.7,152.2 430.4,155.7" fill="#046de0"/>
<polygon points="443.7,153.1 450,149.6 446.5,149.2 440.2,152.7" fill="#0d75dc"/>
<polygon points="453.5,150.1 457.9,147.5 458.2,146.3 456.3,146 450,149.6" fill="#127dd8"/>
<polygon points="427.7,159.5 434,156.1 430.4,155.7 424.2,159" fill="#0268e1"/>
<polygon points="437.5,156.6 443.7,153.1 440.2,152.7 434,156.1" fill="#0871de"/>
<polygon points="447.3,153.6 453.5,150.1 450,149.6 443.7,153.1" fill="#1079da"/>
<polygon points="457,150.5 457.4,150.3 457.9,147.5 453.5,150.1" fill="#1481d6"/>
<polygon points="431.2,159.9 437.5,156.6 434,156.1 427.7,159.5" fill="#046de0"/>
<polygon points="441,157 447.3,153.6 443.7,153.1 437.5,156.6" fill="#0d75dc"/>
<polygon points="450.8,154 457,150.5 453.5,150.1 447.3,153.6" fill="#127dd8"/>
<polygon points="457.4,150.3 457,150.5 457.3,150.6" fill="#1485d4"/>
<polygon points="434.7,160.4 441,157 437.5,156.6 431.2,159.9" fill="#0871de"/>
<polygon points="444.5,157.5 450.8,154 447.3,153.6 441,157" fill="#1079da"/>
<polygon points="454.3,154.5 456.6,153.2 457.3,150.6 457,150.5 450.8,154" fill="#1481d6"/>
<polygon points="438.2,160.8 444.5,157.5 441,157 434.7,160.4" fill="#0d75dc"/>
<polygon points="448,157.9 454.3,154.5 450.8,154 444.5,157.5" fill="#127dd8"/>
<polygon points="456.6,153.2 454.3,154.5 456.2,154.7" fill="#1485d4"/>
<polygon points="441.8,161.3 448,157.9 444.5,157.5 438.2,160.8" fill="#0d75dc"/>
<polygon points="451.5,158.4 455.8,156.1 456.2,154.7 454.3,154.5 448,157.9" fill="#127dd8"/>
<polygon points="445.3,161.7 451.5,158.4 448,157.9 441.8,161.3" fill="#1079da"/>
<polygon points="455.8,156.1 451.5,158.4 454.9,158.8" fill="#1481d6"/>
<polygon points="448.8,162.2 454.8,159 454.9,158.8 451.5,158.4 445.3,161.7" fill="#127dd8"/>
<polygon points="452.3,162.6 453.7,161.9 454.8,159 448.8,162.2" fill="#1481d6"/>
<polygon points="453.7,161.9 452.3,162.6 453.4,162.8" fill="#1485d4"/>
<polygon points="536.6,95.9 542.8,94.4 539.3,92.6 533.1,94.2" fill="#1481d6"/>
<polygon points="530.3,97.5 536.6,95.9 533.1,94.2 526.8,95.7" fill="#1481d6"/>
<polygon points="540.1,97.7 546.4,96.2 542.8,94.4 536.6,95.9" fill="#1481d6"/>
<polygon points="524,99.1 530.3,97.5 526.8,95.7 520.5,97.3" fill="#1481d6"/>
<polygon points="533.8,99.3 540.1,97.7 536.6,95.9 530.3,97.5" fill="#1481d6"/>
<polygon points="543.6,99.5 549.9,98 546.4,96.2 540.1,97.7" fill="#1481d6"/>
<polygon points="517.8,100.6 524,99.1 520.5,97.3 514.3,98.8" fill="#1481d6"/>
<polygon points="527.6,100.9 533.8,99.3 530.3,97.5 524,99.1" fill="#1481d6"/>
<polygon points="537.3,101.1 543.6,99.5 540.1,97.7 533.8,99.3" fill="#1481d6"/>
<polygon points="547.1,101.3 553.4,99.7 549.9,98 543.6,99.5" fill="#1481d6"/>
<polygon points="511.5,102.2 517.8,100.6 514.3,98.8 508,100.4" fill="#1481d6"/>
<polygon points="521.3,102.4 527.6,100.9 524,99.1 517.8,100.6" fill="#1481d6"/>
<polygon points="531.1,102.6 537.3,101.1 533.8,99.3 527.6,100.9" fill="#1481d6"/>
<polygon points="540.9,102.9 547.1,101.3 543.6,99.5 537.3,101.1" fill="#1481d6"/>
<polygon points="550.6,103.1 556.9,101.5 553.4,99.7 547.1,101.3" fill="#1481d6"/>
<polygon points="505.3,103.8 511.5,102.2 508,100.4 501.7,102" fill="#1481d6"/>
<polygon points="515,104 521.3,102.4 517.8,100.6 511.5,102.2" fill="#1481d6"/>
<polygon points="524.8,104.2 531.1,102.6 527.6,100.9 521.3,102.4" fill="#1481d6"/>
<polygon points="534.6,104.4 540.9,102.9 537.3,101.1 531.1,102.6" fill="#1481d6"/>
<polygon points="544.4,104.7 550.6,103.1 547.1,101.3 540.9,102.9" fill="#1481d6"/>
<polygon points="554.2,104.9 560.4,103.3 556.9,101.5 550.6,103.1" fill="#1481d6"/>
<polygon points="499,105.3 505.3,103.8 501.7,102 495.5,103.5" fill="#1481d6"/>
<polygon points="508.8,105.5 515,104 511.5,102.2 505.3,103.8" fill="#1481d6"/>
<polygon points="518.6,105.8 524.8,104.2 521.3,102.4 515,104" fill="#1481d6"/>
<polygon points="528.3,106 534.6,104.4 531.1,102.6 524.8,104.2" fill="#1481d6"/>
<polygon points="538.1,106.2 544.4,104.7 540.9,102.9 534.6,104.4" fill="#1481d6"/>
<polygon points="547.9,106.4 554.2,104.9 550.6,103.1 544.4,104.7" fill="#1481d6"/>
<polygon points="557.7,106.7 563.9,105.1 560.4,103.3 554.2,104.9" fill="#1481d6"/>
<polygon points="492.7,106.9 499,105.3 495.5,103.5 489.2,105.1" fill="#1481d6"/>
<polygon points="502.5,107.1 508.8,105.5 505.3,103.8 499,105.3" fill="#1481d6"/>
<polygon points="512.3,107.3 518.6,105.8 515,104 508.8,105.5" fill="#1481d6"/>
<polygon points="522.1,107.6 528.3,106 524.8,104.2 518.6,105.8" fill="#1481d6"/>
<polygon points="531.9,107.8 538.1,106.2 534.6,104.4 528.3,106" fill="#1481d6"/>
<polygon points="541.6,108 547.9,106.4 544.4,104.7 538.1,106.2" fill="#1481d6"/>
<polygon points="551.4,108.2 557.7,106.7 554.2,104.9 547.9,106.4" fill="#1481d6"/>
<polygon points="561.2,108.4 567.4,106.9 563.9,105.1 557.7,106.7" fill="#1481d6"/>
<polygon points="486.5,108.4 492.7,106.9 489.2,105.1 483,106.7" fill="#1481d6"/>
<polygon points="496.3,108.7 502.5,107.1 499,105.3 492.7,106.9" fill="#1481d6"/>
<polygon points="506,108.9 512.3,107.3 508.8,105.5 502.5,107.1" fill="#1481d6"/>
<polygon points="515.8,109.1 522.1,107.6 518.6,105.8 512.3,107.3" fill="#1481d6"/>
<polygon points="525.6,109.3 531.9,107.8 528.3,106 522.1,107.6" fill="#1481d6"/>
<polygon points="535.4,109.6 541.6,108 538.1,106.2 531.9,107.8" fill="#1481d6"/>
<polygon points="545.1,109.8 551.4,108.2 547.9,106.4 541.6,108" fill="#1481d6"/>
<polygon points="554.9,110 561.2,108.4 557.7,106.7 551.4,108.2" fill="#1481d6"/>
<polygon points="480.2,110 486.5,108.4 483,106.7 476.7,108.2" fill="#1481d6"/>
<polygon points="564.7,110.2 571,108.7 567.4,106.9 561.2,108.4" fill="#1481d6"/>
<polygon points="490,110.2 496.3,108.7 492.7,106.9 486.5,108.4" fill="#1481d6"/>
<polygon points="499.8,110.5 506,108.9 502.5,107.1 496.3,108.7" fill="#1481d6"/>
<polygon points="509.5,110.7 515.8,109.1 512.3,107.3 506,108.9" fill="#1481d6"/>
<polygon points="519.3,110.9 525.6,109.3 522.1,107.6 515.8,109.1" fill="#1481d6"/>
<polygon points="529.1,111.1 535.4,109.6 531.9,107.8 525.6,109.3" fill="#1481d6"/>
<polygon points="538.9,111.4 545.1,109.8 541.6,108 535.4,109.6" fill="#1481d6"/>
<polygon points="548.7,111.6 554.9,110 551.4,108.2 545.1,109.8" fill="#1481d6"/>
<polygon points="473.9,111.6 480.2,110 476.7,108.2 470.4,109.8" fill="#1481d6"/>
<polygon points="558.4,111.8 564.7,110.2 561.2,108.4 554.9,110" fill="#1481d6"/>
<polygon points="483.7,111.8 490,110.2 486.5,108.4 480.2,110" fill="#1481d6"/>
<polygon points="568.2,112 574.5,110.5 571,108.7 564.7,110.2" fill="#1481d6"/>
<polygon points="493.5,112 499.8,110.5 496.3,108.7 490,110.2" fill="#1481d6"/>
<polygon points="503.3,112.2 509.5,110.7 506,108.9 499.8,110.5" fill="#1481d6"/>
<polygon points="513.1,112.5 519.3,110.9 515.8,109.1 509.5,110.7" fill="#1481d6"/>
<polygon points="522.8,112.7 529.1,111.1 525.6,109.3 519.3,110.9" fill="#1481d6"/>
<polygon points="532.6,112.9 538.9,111.4 535.4,109.6 529.1,111.1" fill="#1481d6"/>
<polygon points="542.4,113.1 548.7,111.6 545.1,109.8 538.9,111.4" fill="#1481d6"/>
<polygon points="467.7,113.1 473.9,111.6 470.4,109.8 464.2,111.3" fill="#1481d6"/>
<polygon points="552.2,113.4 558.4,111.8 554.9,110 548.7,111.6" fill="#1481d6"/>
<polygon points="477.5,113.4 483.7,111.8 480.2,110 473.9,111.6" fill="#1481d6"/>
<polygon points="562,113.6 568.2,112 564.7,110.2 558.4,111.8" fill="#1481d6"/>
<polygon points="487.2,113.6 493.5,112 490,110.2 483.7,111.8" fill="#1481d6"/>
<polygon points="571.7,113.8 578,112.2 574.5,110.5 568.2,112" fill="#1481d6"/>
<polygon points="497,113.8 503.3,112.2 499.8,110.5 493.5,112" fill="#1481d6"/>
<polygon points="506.8,114 513.1,112.5 509.5,110.7 503.3,112.2" fill="#1481d6"/>
<polygon points="516.6,114.3 522.8,112.7 519.3,110.9 513.1,112.5" fill="#1481d6"/>
<polygon points="526.4,114.5 532.6,112.9 529.1,111.1 522.8,112.7" fill="#1481d6"/>
<polygon points="536.1,114.7 542.4,113.1 538.9,111.4 532.6,112.9" fill="#1481d6"/>
<polygon points="461.4,114.7 467.7,113.1 464.2,111.3 457.9,112.9" fill="#1481d6"/>
<polygon points="545.9,114.9 552.2,113.4 548.7,111.6 542.4,113.1" fill="#1481d6"/>
<polygon points="471.2,114.9 477.5,113.4 473.9,111.6 467.7,113.1" fill="#1481d6"/>
<polygon points="555.7,115.1 562,113.6 558.4,111.8 552.2,113.4" fill="#1481d6"/>
<polygon points="481,115.1 487.2,113.6 483.7,111.8 477.5,113.4" fill="#1481d6"/>
<polygon points="565.5,115.4 571.7,113.8 568.2,112 562,113.6" fill="#1481d6"/>
<polygon points="490.8,115.4 497,113.8 493.5,112 487.2,113.6" fill="#1481d6"/>
<polygon points="575.2,115.6 581.5,114 578,112.2 571.7,113.8" fill="#1481d6"/>
<polygon points="500.5,115.6 506.8,114 503.3,112.2 497,113.8" fill="#1481d6"/>
<polygon points="510.3,115.8 516.6,114.3 513.1,112.5 506.8,114" fill="#1481d6"/>
<polygon points="520.1,116 526.4,114.5 522.8,112.7 516.6,114.3" fill="#1481d6"/>
<polygon points="529.9,116.3 536.1,114.7 532.6,112.9 526.4,114.5" fill="#1481d6"/>
<polygon points="455.2,116.3 461.4,114.7 457.9,112.9 451.6,114.5" fill="#1481d6"/>
<polygon points="539.7,116.5 545.9,114.9 542.4,113.1 536.1,114.7" fill="#1481d6"/>
<polygon points="464.9,116.5 471.2,114.9 467.7,113.1 461.4,114.7" fill="#1481d6"/>
<polygon points="549.4,116.7 555.7,115.1 552.2,113.4 545.9,114.9" fill="#1481d6"/>
<polygon points="474.7,116.7 481,115.1 477.5,113.4 471.2,114.9" fill="#1481d6"/>
<polygon points="559.2,116.9 565.5,115.4 562,113.6 555.7,115.1" fill="#1481d6"/>
<polygon points="484.5,116.9 490.8,115.4 487.2,113.6 481,115.1" fill="#1481d6"/>
<polygon points="569,117.2 575.2,115.6 571.7,113.8 565.5,115.4" fill="#1481d6"/>
<polygon points="494.3,117.2 500.5,115.6 497,113.8 490.8,115.4" fill="#1481d6"/>
<polygon points="578.8,117.4 585,115.8 581.5,114 575.2,115.6" fill="#1481d6"/>
<polygon points="504.1,117.4 510.3,115.8 506.8,114 500.5,115.6" fill="#1481d6"/>
<polygon points="513.8,117.6 520.1,116 516.6,114.3 510.3,115.8" fill="#1481d6"/>
<polygon points="523.6,117.8 529.9,116.3 526.4,114.5 520.1,116" fill="#1481d6"/>
<polygon points="448.9,117.8 455.2,116.3 451.6,114.5 445.4,116" fill="#1481d6"/>
<polygon points="533.4,118 539.7,116.5 536.1,114.7 529.9,116.3" fill="#1481d6"/>
<polygon points="458.7,118 464.9,116.5 461.4,114.7 455.2,116.3" fill="#1481d6"/>
<polygon points="543.2,118.3 549.4,116.7 545.9,114.9 539.7,116.5" fill="#1481d6"/>
<polygon points="468.5,118.3 474.7,116.7 471.2,114.9 464.9,116.5" fill="#1481d6"/>
<polygon points="552.9,118.5 559.2,116.9 555.7,115.1 549.4,116.7" fill="#1481d6"/>
<polygon points="478.2,118.5 484.5,116.9 481,115.1 474.7,116.7" fill="#1481d6"/>
<polygon points="562.7,118.7 569,117.2 565.5,115.4 559.2,116.9" fill="#1481d6"/>
<polygon points="488,118.7 494.3,117.2 490.8,115.4 484.5,116.9" fill="#1481d6"/>
<polygon points="572.5,118.9 578.8,117.4 575.2,115.6 569,117.2" fill="#1481d6"/>
<polygon points="497.8,118.9 504.1,117.4 500.5,115.6 494.3,117.2" fill="#1481d6"/>
<polygon points="582.3,119.2 588.5,117.6 585,115.8 578.8,117.4" fill="#1481d6"/>
<polygon points="507.6,119.2 513.8,117.6 510.3,115.8 504.1,117.4" fill="#1481d6"/>
<polygon points="517.3,119.4 523.6,117.8 520.1,116 513.8,117.6" fill="#1481d6"/>
<polygon points="442.6,119.4 448.9,117.8 445.4,116 439.1,117.6" fill="#1481d6"/>
<polygon points="527.1,119.6 533.4,118 529.9,116.3 523.6,117.8" fill="#1481d6"/>
<polygon points="452.4,119.6 458.7,118 455.2,116.3 448.9,117.8" fill="#1481d6"/>
<polygon points="536.9,119.8 543.2,118.3 539.7,116.5 533.4,118" fill="#1481d6"/>
<polygon points="462.2,119.8 468.5,118.3 464.9,116.5 458.7,118" fill="#1481d6"/>
<polygon points="546.7,120.1 552.9,118.5 549.4,116.7 543.2,118.3" fill="#1481d6"/>
<polygon points="472,120.1 478.2,118.5 474.7,116.7 468.5,118.3" fill="#1481d6"/>
<polygon points="556.5,120.3 562.7,118.7 559.2,116.9 552.9,118.5" fill="#1481d6"/>
<polygon points="481.8,120.3 488,118.7 484.5,116.9 478.2,118.5" fill="#1481d6"/>
<polygon points="566.2,120.5 572.5,118.9 569,117.2 562.7,118.7" fill="#1481d6"/>
<polygon points="491.5,120.5 497.8,118.9 494.3,117.2 488,118.7" fill="#1481d6"/>
<polygon points="576,120.7 582.3,119.2 578.8,117.4 572.5,118.9" fill="#1481d6"/>
<polygon points="501.3,120.7 507.6,119.2 504.1,117.4 497.8,118.9" fill="#1481d6"/>
<polygon points="585.8,121 592.1,119.4 588.5,117.6 582.3,119.2" fill="#1481d6"/>
<polygon points="511.1,120.9 517.3,119.4 513.8,117.6 507.6,119.2" fill="#1481d6"/>
<polygon points="436.4,120.9 442.6,119.4 439.1,117.6 432.9,119.2" fill="#1481d6"/>
<polygon points="520.9,121.2 527.1,119.6 523.6,117.8 517.3,119.4" fill="#1481d6"/>
<polygon points="446.2,121.2 452.4,119.6 448.9,117.8 442.6,119.4" fill="#1481d6"/>
<polygon points="530.6,121.4 536.9,119.8 533.4,118 527.1,119.6" fill="#1481d6"/>
<polygon points="455.9,121.4 462.2,119.8 458.7,118 452.4,119.6" fill="#1481d6"/>
<polygon points="540.4,121.6 546.7,120.1 543.2,118.3 536.9,119.8" fill="#1481d6"/>
<polygon points="465.7,121.6 472,120.1 468.5,118.3 462.2,119.8" fill="#1481d6"/>
<polygon points="550.2,121.8 556.5,120.3 552.9,118.5 546.7,120.1" fill="#1481d6"/>
<polygon points="475.5,121.8 481.8,120.3 478.2,118.5 472,120.1" fill="#1481d6"/>
<polygon points="560,122.1 566.2,120.5 562.7,118.7 556.5,120.3" fill="#1481d6"/>
<polygon points="485.3,122.1 491.5,120.5 488,118.7 481.8,120.3" fill="#1481d6"/>
<polygon points="569.8,122.3 576,120.7 572.5,118.9 566.2,120.5" fill="#1481d6"/>
<polygon points="495,122.3 501.3,120.7 497.8,118.9 491.5,120.5" fill="#1481d6"/>
<polygon points="579.5,122.5 585.8,121 582.3,119.2 576,120.7" fill="#1481d6"/>
<polygon points="504.8,122.5 511.1,120.9 507.6,119.2 501.3,120.7" fill="#1481d6"/>
<polygon points="589.3,122.7 595.6,121.2 592.1,119.4 585.8,121" fill="#1481d6"/>
<polygon points="430.1,122.5 436.4,120.9 432.9,119.2 426.6,120.7" fill="#1481d6"/>
<polygon points="514.6,122.7 520.9,121.2 517.3,119.4 511.1,120.9" fill="#1481d6"/>
<polygon points="439.9,122.7 446.2,121.2 442.6,119.4 436.4,120.9" fill="#1481d6"/>
<polygon points="524.4,123 530.6,121.4 527.1,119.6 520.9,121.2" fill="#1481d6"/>
<polygon points="449.7,123 455.9,121.4 452.4,119.6 446.2,121.2" fill="#1481d6"/>
<polygon points="534.2,123.2 540.4,121.6 536.9,119.8 530.6,121.4" fill="#1481d6"/>
<polygon points="459.4,123.2 465.7,121.6 462.2,119.8 455.9,121.4" fill="#1481d6"/>
<polygon points="543.9,123.4 550.2,121.8 546.7,120.1 540.4,121.6" fill="#1481d6"/>
<polygon points="469.2,123.4 475.5,121.8 472,120.1 465.7,121.6" fill="#1481d6"/>
<polygon points="553.7,123.6 560,122.1 556.5,120.3 550.2,121.8" fill="#1481d6"/>
<polygon points="479,123.6 485.3,122.1 481.8,120.3 475.5,121.8" fill="#1481d6"/>
<polygon points="563.5,123.9 569.8,122.3 566.2,120.5 560,122.1" fill="#1481d6"/>
<polygon points="488.8,123.9 495,122.3 491.5,120.5 485.3,122.1" fill="#1481d6"/>
<polygon points="573.3,124.1 579.5,122.5 576,120.7 569.8,122.3" fill="#1481d6"/>
<polygon points="498.6,124.1 504.8,122.5 501.3,120.7 495,122.3" fill="#1481d6"/>
<polygon points="583.1,124.3 589.3,122.7 585.8,121 579.5,122.5" fill="#1481d6"/>
<polygon points="423.8,124.1 430.1,122.5 426.6,120.7 420.3,122.3" fill="#1481d6"/>
<polygon points="508.3,124.3 514.6,122.7 511.1,120.9 504.8,122.5" fill="#1481d6"/>
<polygon points="592.8,124.5 599.1,123 595.6,121.2 589.3,122.7" fill="#1481d6"/>
<polygon points="433.6,124.3 439.9,122.7 436.4,120.9 430.1,122.5" fill="#1481d6"/>
<polygon points="518.1,124.5 524.4,123 520.9,121.2 514.6,122.7" fill="#1481d6"/>
<polygon points="443.4,124.5 449.7,123 446.2,121.2 439.9,122.7" fill="#1481d6"/>
<polygon points="527.9,124.7 534.2,123.2 530.6,121.4 524.4,123" fill="#1481d6"/>
<polygon points="453.2,124.7 459.4,123.2 455.9,121.4 449.7,123" fill="#1481d6"/>
<polygon points="537.7,125 543.9,123.4 540.4,121.6 534.2,123.2" fill="#1481d6"/>
<polygon points="463,125 469.2,123.4 465.7,121.6 459.4,123.2" fill="#1481d6"/>
<polygon points="547.5,125.2 553.7,123.6 550.2,121.8 543.9,123.4" fill="#1481d6"/>
<polygon points="472.7,125.2 479,123.6 475.5,121.8 469.2,123.4" fill="#1481d6"/>
<polygon points="557.2,125.4 563.5,123.9 560,122.1 553.7,123.6" fill="#1481d6"/>
<polygon points="482.5,125.4 488.8,123.9 485.3,122.1 479,123.6" fill="#1481d6"/>
<polygon points="567,125.6 573.3,124.1 569.8,122.3 563.5,123.9" fill="#1481d6"/>
<polygon points="492.3,125.6 498.6,124.1 495,122.3 488.8,123.9" fill="#1481d6"/>
<polygon points="576.8,125.9 583.1,124.3 579.5,122.5 573.3,124.1" fill="#1481d6"/>
<polygon points="417.6,125.6 423.8,124.1 420.3,122.3 414.1,123.8" fill="#1481d6"/>
<polygon points="502.1,125.9 508.3,124.3 504.8,122.5 498.6,124.1" fill="#1481d6"/>
<polygon points="586.6,126.1 592.8,124.5 589.3,122.7 583.1,124.3" fill="#1481d6"/>
<polygon points="427.4,125.9 433.6,124.3 430.1,122.5 423.8,124.1" fill="#1481d6"/>
<polygon points="511.9,126.1 518.1,124.5 514.6,122.7 508.3,124.3" fill="#1481d6"/>
<polygon points="596.3,126.3 602.6,124.7 599.1,123 592.8,124.5" fill="#1481d6"/>
<polygon points="437.1,126.1 443.4,124.5 439.9,122.7 433.6,124.3" fill="#1481d6"/>
<polygon points="521.6,126.3 527.9,124.7 524.4,123 518.1,124.5" fill="#1481d6"/>
<polygon points="446.9,126.3 453.2,124.7 449.7,123 443.4,124.5" fill="#1481d6"/>
<polygon points="531.4,126.5 537.7,125 534.2,123.2 527.9,124.7" fill="#1481d6"/>
<polygon points="456.7,126.5 463,125 459.4,123.2 453.2,124.7" fill="#1481d6"/>
<polygon points="541.2,126.8 547.5,125.2 543.9,123.4 537.7,125" fill="#1481d6"/>
<polygon points="466.5,126.8 472.7,125.2 469.2,123.4 463,125" fill="#1481d6"/>
<polygon points="551,127 557.2,125.4 553.7,123.6 547.5,125.2" fill="#1481d6"/>
<polygon points="476.3,127 482.5,125.4 479,123.6 472.7,125.2" fill="#1481d6"/>
<polygon points="560.7,127.2 567,125.6 563.5,123.9 557.2,125.4" fill="#1481d6"/>
<polygon points="486,127.2 492.3,125.6 488.8,123.9 482.5,125.4" fill="#1481d6"/>
<polygon points="570.5,127.4 576.8,125.9 573.3,124.1 567,125.6" fill="#1481d6"/>
<polygon points="411.3,127.2 417.6,125.6 414.1,123.8 407.8,125.4" fill="#1481d6"/>
<polygon points="495.8,127.4 502.1,125.9 498.6,124.1 492.3,125.6" fill="#1481d6"/>
<polygon points="580.3,127.6 586.6,126.1 583.1,124.3 576.8,125.9" fill="#1481d6"/>
<polygon points="421.1,127.4 427.4,125.9 423.8,124.1 417.6,125.6" fill="#1481d6"/>
<polygon points="505.6,127.6 511.9,126.1 508.3,124.3 502.1,125.9" fill="#1481d6"/>
<polygon points="590.1,127.9 596.3,126.3 592.8,124.5 586.6,126.1" fill="#1481d6"/>
<polygon points="430.9,127.6 437.1,126.1 433.6,124.3 427.4,125.9" fill="#1481d6"/>
<polygon points="515.4,127.9 521.6,126.3 518.1,124.5 511.9,126.1" fill="#1481d6"/>
<polygon points="599.9,128.1 606.1,126.5 602.6,124.7 596.3,126.3" fill="#1481d6"/>
<polygon points="440.7,127.9 446.9,126.3 443.4,124.5 437.1,126.1" fill="#1481d6"/>
<polygon points="525.1,128.1 531.4,126.5 527.9,124.7 521.6,126.3" fill="#1481d6"/>
<polygon points="450.4,128.1 456.7,126.5 453.2,124.7 446.9,126.3" fill="#1481d6"/>
<polygon points="534.9,128.3 541.2,126.8 537.7,125 531.4,126.5" fill="#1481d6"/>
<polygon points="460.2,128.3 466.5,126.8 463,125 456.7,126.5" fill="#1481d6"/>
<polygon points="544.7,128.5 551,127 547.5,125.2 541.2,126.8" fill="#1481d6"/>
<polygon points="470,128.5 476.3,127 472.7,125.2 466.5,126.8" fill="#1481d6"/>
<polygon points="554.5,128.8 560.7,127.2 557.2,125.4 551,127" fill="#1481d6"/>
<polygon points="479.8,128.8 486,127.2 482.5,125.4 476.3,127" fill="#1481d6"/>
<polygon points="564.3,129 570.5,127.4 567,125.6 560.7,127.2" fill="#1481d6"/>
<polygon points="405.1,128.8 411.3,127.2 407.8,125.4 401.5,127" fill="#1481d6"/>
<polygon points="489.6,129 495.8,127.4 492.3,125.6 486,127.2" fill="#1481d6"/>
<polygon points="574,129.2 580.3,127.6 576.8,125.9 570.5,127.4" fill="#1481d6"/>
<polygon points="414.8,129 421.1,127.4 417.6,125.6 411.3,127.2" fill="#1481d6"/>
<polygon points="499.3,129.2 505.6,127.6 502.1,125.9 495.8,127.4" fill="#1481d6"/>
<polygon points="583.8,129.4 590.1,127.9 586.6,126.1 580.3,127.6" fill="#1481d6"/>
<polygon points="424.6,129.2 430.9,127.6 427.4,125.9 421.1,127.4" fill="#1481d6"/>
<polygon points="509.1,129.4 515.4,127.9 511.9,126.1 505.6,127.6" fill="#1481d6"/>
<polygon points="593.6,129.7 599.9,128.1 596.3,126.3 590.1,127.9" fill="#1481d6"/>
<polygon points="434.4,129.4 440.7,127.9 437.1,126.1 430.9,127.6" fill="#1481d6"/>
<polygon points="518.9,129.7 525.1,128.1 521.6,126.3 515.4,127.9" fill="#1481d6"/>
<polygon points="603.4,129.9 609.6,128.3 606.1,126.5 599.9,128.1" fill="#1481d6"/>
<polygon points="444.2,129.7 450.4,128.1 446.9,126.3 440.7,127.9" fill="#1481d6"/>
<polygon points="528.7,129.9 534.9,128.3 531.4,126.5 525.1,128.1" fill="#1481d6"/>
<polygon points="454,129.9 460.2,128.3 456.7,126.5 450.4,128.1" fill="#1481d6"/>
<polygon points="538.4,130.1 544.7,128.5 541.2,126.8 534.9,128.3" fill="#1481d6"/>
<polygon points="463.7,130.1 470,128.5 466.5,126.8 460.2,128.3" fill="#1481d6"/>
<polygon points="548.2,130.3 554.5,128.8 551,127 544.7,128.5" fill="#1481d6"/>
<polygon points="473.5,130.3 479.8,128.8 476.3,127 470,128.5" fill="#1481d6"/>
<polygon points="558,130.6 564.3,129 560.7,127.2 554.5,128.8" fill="#1481d6"/>
<polygon points="398.8,130.3 405.1,128.8 401.5,127 395.3,128.5" fill="#1481d6"/>
<polygon points="483.3,130.5 489.6,129 486,127.2 479.8,128.8" fill="#1481d6"/>
<polygon points="567.8,130.8 574,129.2 570.5,127.4 564.3,129" fill="#1481d6"/>
<polygon points="408.6,130.5 414.8,129 411.3,127.2 405.1,128.8" fill="#1481d6"/>
<polygon points="493.1,130.8 499.3,129.2 495.8,127.4 489.6,129" fill="#1481d6"/>
<polygon points="577.6,131 583.8,129.4 580.3,127.6 574,129.2" fill="#1481d6"/>
<polygon points="418.4,130.8 424.6,129.2 421.1,127.4 414.8,129" fill="#1481d6"/>
<polygon points="502.8,131 509.1,129.4 505.6,127.6 499.3,129.2" fill="#1481d6"/>
<polygon points="587.3,131.2 593.6,129.7 590.1,127.9 583.8,129.4" fill="#1481d6"/>
<polygon points="428.1,131 434.4,129.4 430.9,127.6 424.6,129.2" fill="#1481d6"/>
<polygon points="512.6,131.2 518.9,129.7 515.4,127.9 509.1,129.4" fill="#1481d6"/>
<polygon points="597.1,131.4 603.4,129.9 599.9,128.1 593.6,129.7" fill="#1481d6"/>
<polygon points="437.9,131.2 444.2,129.7 440.7,127.9 434.4,129.4" fill="#1481d6"/>
<polygon points="522.4,131.4 528.7,129.9 525.1,128.1 518.9,129.7" fill="#1481d6"/>
<polygon points="606.9,131.7 613.2,130.1 609.6,128.3 603.4,129.9" fill="#1481d6"/>
<polygon points="447.7,131.4 454,129.9 450.4,128.1 444.2,129.7" fill="#1481d6"/>
<polygon points="532.2,131.7 538.4,130.1 534.9,128.3 528.7,129.9" fill="#1481d6"/>
<polygon points="457.5,131.7 463.7,130.1 460.2,128.3 454,129.9" fill="#1481d6"/>
<polygon points="542,131.9 548.2,130.3 544.7,128.5 538.4,130.1" fill="#1481d6"/>
<polygon points="467.2,131.9 473.5,130.3 470,128.5 463.7,130.1" fill="#1481d6"/>
<polygon points="551.7,132.1 558,130.6 554.5,128.8 548.2,130.3" fill="#1481d6"/>
<polygon points="392.5,131.9 398.8,130.3 395.3,128.5 389,130.1" fill="#1481d6"/>
<polygon points="477,132.1 483.3,130.5 479.8,128.8 473.5,130.3" fill="#1481d6"/>
<polygon points="561.5,132.3 567.8,130.8 564.3,129 558,130.6" fill="#1481d6"/>
<polygon points="402.3,132.1 408.6,130.5 405.1,128.8 398.8,130.3" fill="#1481d6"/>
<polygon points="486.8,132.3 493.1,130.8 489.6,129 483.3,130.5" fill="#1481d6"/>
<polygon points="571.3,132.6 577.6,131 574,129.2 567.8,130.8" fill="#1481d6"/>
<polygon points="412.1,132.3 418.4,130.8 414.8,129 408.6,130.5" fill="#1481d6"/>
<polygon points="496.6,132.6 502.8,131 499.3,129.2 493.1,130.8" fill="#1481d6"/>
<polygon points="581.1,132.8 587.3,131.2 583.8,129.4 577.6,131" fill="#1481d6"/>
<polygon points="421.9,132.6 428.1,131 424.6,129.2 418.4,130.8" fill="#1481d6"/>
<polygon points="506.4,132.8 512.6,131.2 509.1,129.4 502.8,131" fill="#1481d6"/>
<polygon points="590.9,133 597.1,131.4 593.6,129.7 587.3,131.2" fill="#1481d6"/>
<polygon points="431.6,132.8 437.9,131.2 434.4,129.4 428.1,131" fill="#1481d6"/>
<polygon points="516.1,133 522.4,131.4 518.9,129.7 512.6,131.2" fill="#1481d6"/>
<polygon points="600.6,133.2 606.9,131.7 603.4,129.9 597.1,131.4" fill="#1481d6"/>
<polygon points="441.4,133 447.7,131.4 444.2,129.7 437.9,131.2" fill="#1481d6"/>
<polygon points="525.9,133.2 532.2,131.7 528.7,129.9 522.4,131.4" fill="#1481d6"/>
<polygon points="610.4,133.5 616.7,131.9 613.2,130.1 606.9,131.7" fill="#1481d6"/>
<polygon points="451.2,133.2 457.5,131.7 454,129.9 447.7,131.4" fill="#1481d6"/>
<polygon points="535.7,133.5 542,131.9 538.4,130.1 532.2,131.7" fill="#1481d6"/>
<polygon points="461,133.4 467.2,131.9 463.7,130.1 457.5,131.7" fill="#1481d6"/>
<polygon points="545.5,133.7 551.7,132.1 548.2,130.3 542,131.9" fill="#1481d6"/>
<polygon points="470.8,133.7 477,132.1 473.5,130.3 467.2,131.9" fill="#1481d6"/>
<polygon points="555.3,133.9 561.5,132.3 558,130.6 551.7,132.1" fill="#1481d6"/>
<polygon points="396.1,133.7 402.3,132.1 398.8,130.3 392.5,131.9" fill="#1481d6"/>
<polygon points="480.5,133.9 486.8,132.3 483.3,130.5 477,132.1" fill="#1481d6"/>
<polygon points="565,134.1 571.3,132.6 567.8,130.8 561.5,132.3" fill="#1481d6"/>
<polygon points="405.8,133.9 412.1,132.3 408.6,130.5 402.3,132.1" fill="#1481d6"/>
<polygon points="490.3,134.1 496.6,132.6 493.1,130.8 486.8,132.3" fill="#1481d6"/>
<polygon points="574.8,134.3 581.1,132.8 577.6,131 571.3,132.6" fill="#1481d6"/>
<polygon points="415.6,134.1 421.9,132.6 418.4,130.8 412.1,132.3" fill="#1481d6"/>
<polygon points="500.1,134.3 506.4,132.8 502.8,131 496.6,132.6" fill="#1481d6"/>
<polygon points="584.6,134.6 590.9,133 587.3,131.2 581.1,132.8" fill="#1481d6"/>
<polygon points="425.4,134.3 431.6,132.8 428.1,131 421.9,132.6" fill="#1481d6"/>
<polygon points="509.9,134.6 516.1,133 512.6,131.2 506.4,132.8" fill="#1481d6"/>
<polygon points="594.4,134.8 600.6,133.2 597.1,131.4 590.9,133" fill="#1481d6"/>
<polygon points="435.2,134.6 441.4,133 437.9,131.2 431.6,132.8" fill="#1481d6"/>
<polygon points="519.7,134.8 525.9,133.2 522.4,131.4 516.1,133" fill="#1481d6"/>
<polygon points="604.1,135 610.4,133.5 606.9,131.7 600.6,133.2" fill="#1481d6"/>
<polygon points="444.9,134.8 451.2,133.2 447.7,131.4 441.4,133" fill="#1481d6"/>
<polygon points="529.4,135 535.7,133.5 532.2,131.7 525.9,133.2" fill="#1481d6"/>
<polygon points="613.9,135.2 620.2,133.7 616.7,131.9 610.4,133.5" fill="#1481d6"/>
<polygon points="454.7,135 461,133.4 457.5,131.7 451.2,133.2" fill="#1481d6"/>
<polygon points="539.2,135.2 545.5,133.7 542,131.9 535.7,133.5" fill="#1481d6"/>
<polygon points="464.5,135.2 470.8,133.7 467.2,131.9 461,133.4" fill="#1481d6"/>
<polygon points="549,135.5 555.3,133.9 551.7,132.1 545.5,133.7" fill="#1481d6"/>
<polygon points="474.3,135.5 480.5,133.9 477,132.1 470.8,133.7" fill="#1481d6"/>
<polygon points="558.8,135.7 565,134.1 561.5,132.3 555.3,133.9" fill="#1481d6"/>
<polygon points="399.6,135.5 405.8,133.9 402.3,132.1 396.1,133.7" fill="#1481d6"/>
<polygon points="484.1,135.7 490.3,134.1 486.8,132.3 480.5,133.9" fill="#1481d6"/>
<polygon points="568.5,135.9 574.8,134.3 571.3,132.6 565,134.1" fill="#1481d6"/>
<polygon points="409.3,135.7 415.6,134.1 412.1,132.3 405.8,133.9" fill="#1481d6"/>
<polygon points="493.8,135.9 500.1,134.3 496.6,132.6 490.3,134.1" fill="#1481d6"/>
<polygon points="578.3,136.1 584.6,134.6 581.1,132.8 574.8,134.3" fill="#1481d6"/>
<polygon points="419.1,135.9 425.4,134.3 421.9,132.6 415.6,134.1" fill="#1481d6"/>
<polygon points="503.6,136.1 509.9,134.6 506.4,132.8 500.1,134.3" fill="#1481d6"/>
<polygon points="588.1,136.4 594.4,134.8 590.9,133 584.6,134.6" fill="#1481d6"/>
<polygon points="428.9,136.1 435.2,134.6 431.6,132.8 425.4,134.3" fill="#1481d6"/>
<polygon points="513.4,136.4 519.7,134.8 516.1,133 509.9,134.6" fill="#1481d6"/>
<polygon points="597.9,136.6 604.1,135 600.6,133.2 594.4,134.8" fill="#1481d6"/>
<polygon points="438.7,136.4 444.9,134.8 441.4,133 435.2,134.6" fill="#1481d6"/>
<polygon points="523.2,136.6 529.4,135 525.9,133.2 519.7,134.8" fill="#1481d6"/>
<polygon points="607.7,136.8 613.9,135.2 610.4,133.5 604.1,135" fill="#1481d6"/>
<polygon points="448.5,136.6 454.7,135 451.2,133.2 444.9,134.8" fill="#1481d6"/>
<polygon points="533,136.8 539.2,135.2 535.7,133.5 529.4,135" fill="#1481d6"/>
<polygon points="617.4,137 623.7,135.5 620.2,133.7 613.9,135.2" fill="#1481d6"/>
<polygon points="458.2,136.8 464.5,135.2 461,133.4 454.7,135" fill="#1481d6"/>
<polygon points="542.7,137 549,135.5 545.5,133.7 539.2,135.2" fill="#1481d6"/>
<polygon points="468,137 474.3,135.5 470.8,133.7 464.5,135.2" fill="#1481d6"/>
<polygon points="552.5,137.2 558.8,135.7 555.3,133.9 549,135.5" fill="#1481d6"/>
<polygon points="477.8,137.2 484.1,135.7 480.5,133.9 474.3,135.5" fill="#1481d6"/>
<polygon points="562.3,137.5 568.5,135.9 565,134.1 558.8,135.7" fill="#1481d6"/>
<polygon points="403.1,137.2 409.3,135.7 405.8,133.9 399.6,135.5" fill="#1481d6"/>
<polygon points="487.6,137.5 493.8,135.9 490.3,134.1 484.1,135.7" fill="#1481d6"/>
<polygon points="572.1,137.7 578.3,136.1 574.8,134.3 568.5,135.9" fill="#1481d6"/>
<polygon points="412.9,137.5 419.1,135.9 415.6,134.1 409.3,135.7" fill="#1481d6"/>
<polygon points="497.4,137.7 503.6,136.1 500.1,134.3 493.8,135.9" fill="#1481d6"/>
<polygon points="581.8,137.9 588.1,136.4 584.6,134.6 578.3,136.1" fill="#1481d6"/>
<polygon points="422.6,137.7 428.9,136.1 425.4,134.3 419.1,135.9" fill="#1481d6"/>
<polygon points="507.1,137.9 513.4,136.4 509.9,134.6 503.6,136.1" fill="#1481d6"/>
<polygon points="591.6,138.1 597.9,136.6 594.4,134.8 588.1,136.4" fill="#1481d6"/>
<polygon points="432.4,137.9 438.7,136.4 435.2,134.6 428.9,136.1" fill="#1481d6"/>
<polygon points="516.9,138.1 523.2,136.6 519.7,134.8 513.4,136.4" fill="#1481d6"/>
<polygon points="601.4,138.4 607.7,136.8 604.1,135 597.9,136.6" fill="#1481d6"/>
<polygon points="442.2,138.1 448.5,136.6 444.9,134.8 438.7,136.4" fill="#1481d6"/>
<polygon points="526.7,138.4 533,136.8 529.4,135 523.2,136.6" fill="#1481d6"/>
<polygon points="611.2,138.6 617.4,137 613.9,135.2 607.7,136.8" fill="#1481d6"/>
<polygon points="452,138.4 458.2,136.8 454.7,135 448.5,136.6" fill="#1481d6"/>
<polygon points="536.5,138.6 542.7,137 539.2,135.2 533,136.8" fill="#1481d6"/>
<polygon points="621,138.8 627.2,137.2 623.7,135.5 617.4,137" fill="#1481d6"/>
<polygon points="461.8,138.6 468,137 464.5,135.2 458.2,136.8" fill="#1481d6"/>
<polygon points="546.2,138.8 552.5,137.2 549,135.5 542.7,137" fill="#1481d6"/>
<polygon points="471.5,138.8 477.8,137.2 474.3,135.5 468,137" fill="#1481d6"/>
<polygon points="556,139 562.3,137.5 558.8,135.7 552.5,137.2" fill="#1481d6"/>
<polygon points="481.3,139 487.6,137.5 484.1,135.7 477.8,137.2" fill="#1481d6"/>
<polygon points="565.8,139.3 572.1,137.7 568.5,135.9 562.3,137.5" fill="#1481d6"/>
<polygon points="406.6,139 412.9,137.5 409.3,135.7 403.1,137.2" fill="#1481d6"/>
<polygon points="491.1,139.3 497.4,137.7 493.8,135.9 487.6,137.5" fill="#1481d6"/>
<polygon points="575.6,139.5 581.8,137.9 578.3,136.1 572.1,137.7" fill="#1481d6"/>
<polygon points="416.4,139.3 422.6,137.7 419.1,135.9 412.9,137.5" fill="#1481d6"/>
<polygon points="500.9,139.5 507.1,137.9 503.6,136.1 497.4,137.7" fill="#1481d6"/>
<polygon points="585.4,139.7 591.6,138.1 588.1,136.4 581.8,137.9" fill="#1481d6"/>
<polygon points="426.2,139.5 432.4,137.9 428.9,136.1 422.6,137.7" fill="#1481d6"/>
<polygon points="510.6,139.7 516.9,138.1 513.4,136.4 507.1,137.9" fill="#1481d6"/>
<polygon points="595.1,139.9 601.4,138.4 597.9,136.6 591.6,138.1" fill="#1481d6"/>
<polygon points="435.9,139.7 442.2,138.1 438.7,136.4 432.4,137.9" fill="#1481d6"/>
<polygon points="520.4,139.9 526.7,138.4 523.2,136.6 516.9,138.1" fill="#1481d6"/>
<polygon points="604.9,140.2 611.2,138.6 607.7,136.8 601.4,138.4" fill="#1481d6"/>
<polygon points="445.7,139.9 452,138.4 448.5,136.6 442.2,138.1" fill="#1481d6"/>
<polygon points="530.2,140.1 536.5,138.6 533,136.8 526.7,138.4" fill="#1481d6"/>
<polygon points="614.7,140.4 621,138.8 617.4,137 611.2,138.6" fill="#1481d6"/>
<polygon points="455.5,140.1 461.8,138.6 458.2,136.8 452,138.4" fill="#1481d6"/>
<polygon points="540,140.4 546.2,138.8 542.7,137 536.5,138.6" fill="#1481d6"/>
<polygon points="465.3,140.4 471.5,138.8 468,137 461.8,138.6" fill="#1481d6"/>
<polygon points="549.8,140.6 556,139 552.5,137.2 546.2,138.8" fill="#1481d6"/>
<polygon points="475,140.6 481.3,139 477.8,137.2 471.5,138.8" fill="#1481d6"/>
<polygon points="559.5,140.8 565.8,139.3 562.3,137.5 556,139" fill="#1481d6"/>
<polygon points="484.8,140.8 491.1,139.3 487.6,137.5 481.3,139" fill="#1481d6"/>
<polygon points="569.3,141 575.6,139.5 572.1,137.7 565.8,139.3" fill="#1481d6"/>
<polygon points="410.1,140.8 416.4,139.3 412.9,137.5 406.6,139" fill="#1481d6"/>
<polygon points="494.6,141 500.9,139.5 497.4,137.7 491.1,139.3" fill="#1481d6"/>
<polygon points="579.1,141.3 585.4,139.7 581.8,137.9 575.6,139.5" fill="#1481d6"/>
<polygon points="419.9,141 426.2,139.5 422.6,137.7 416.4,139.3" fill="#1481d6"/>
<polygon points="504.4,141.3 510.6,139.7 507.1,137.9 500.9,139.5" fill="#1481d6"/>
<polygon points="588.9,141.5 595.1,139.9 591.6,138.1 585.4,139.7" fill="#1481d6"/>
<polygon points="429.7,141.3 435.9,139.7 432.4,137.9 426.2,139.5" fill="#1481d6"/>
<polygon points="514.2,141.5 520.4,139.9 516.9,138.1 510.6,139.7" fill="#1481d6"/>
<polygon points="598.7,141.7 604.9,140.2 601.4,138.4 595.1,139.9" fill="#1481d6"/>
<polygon points="439.5,141.5 445.7,139.9 442.2,138.1 435.9,139.7" fill="#1481d6"/>
<polygon points="523.9,141.7 530.2,140.1 526.7,138.4 520.4,139.9" fill="#1481d6"/>
<polygon points="608.4,141.9 614.7,140.4 611.2,138.6 604.9,140.2" fill="#1481d6"/>
<polygon points="449.2,141.7 455.5,140.1 452,138.4 445.7,139.9" fill="#1481d6"/>
<polygon points="533.7,141.9 540,140.4 536.5,138.6 530.2,140.1" fill="#1481d6"/>
<polygon points="459,141.9 465.3,140.4 461.8,138.6 455.5,140.1" fill="#1481d6"/>
<polygon points="543.5,142.2 549.8,140.6 546.2,138.8 540,140.4" fill="#1481d6"/>
<polygon points="468.8,142.2 475,140.6 471.5,138.8 465.3,140.4" fill="#1481d6"/>
<polygon points="553.3,142.4 559.5,140.8 556,139 549.8,140.6" fill="#1481d6"/>
<polygon points="478.6,142.4 484.8,140.8 481.3,139 475,140.6" fill="#1481d6"/>
<polygon points="563.1,142.6 569.3,141 565.8,139.3 559.5,140.8" fill="#1481d6"/>
<polygon points="488.3,142.6 494.6,141 491.1,139.3 484.8,140.8" fill="#1481d6"/>
<polygon points="572.8,142.8 579.1,141.3 575.6,139.5 569.3,141" fill="#1481d6"/>
<polygon points="413.6,142.6 419.9,141 416.4,139.3 410.1,140.8" fill="#1481d6"/>
<polygon points="498.1,142.8 504.4,141.3 500.9,139.5 494.6,141" fill="#1481d6"/>
<polygon points="582.6,143.1 588.9,141.5 585.4,139.7 579.1,141.3" fill="#1481d6"/>
<polygon points="423.4,142.8 429.7,141.3 426.2,139.5 419.9,141" fill="#1481d6"/>
<polygon points="507.9,143.1 514.2,141.5 510.6,139.7 504.4,141.3" fill="#1481d6"/>
<polygon points="592.4,143.3 598.7,141.7 595.1,139.9 588.9,141.5" fill="#1481d6"/>
<polygon points="433.2,143 439.5,141.5 435.9,139.7 429.7,141.3" fill="#1481d6"/>
<polygon points="517.7,143.3 523.9,141.7 520.4,139.9 514.2,141.5" fill="#1481d6"/>
<polygon points="602.2,143.5 608.4,141.9 604.9,140.2 598.7,141.7" fill="#1481d6"/>
<polygon points="443,143.3 449.2,141.7 445.7,139.9 439.5,141.5" fill="#1481d6"/>
<polygon points="527.5,143.5 533.7,141.9 530.2,140.1 523.9,141.7" fill="#1481d6"/>
<polygon points="452.7,143.5 459,141.9 455.5,140.1 449.2,141.7" fill="#1481d6"/>
<polygon points="537.2,143.7 543.5,142.2 540,140.4 533.7,141.9" fill="#1481d6"/>
<polygon points="462.5,143.7 468.8,142.2 465.3,140.4 459,141.9" fill="#1481d6"/>
<polygon points="547,143.9 553.3,142.4 549.8,140.6 543.5,142.2" fill="#1481d6"/>
<polygon points="472.3,143.9 478.6,142.4 475,140.6 468.8,142.2" fill="#1481d6"/>
<polygon points="556.8,144.2 563.1,142.6 559.5,140.8 553.3,142.4" fill="#1481d6"/>
<polygon points="482.1,144.2 488.3,142.6 484.8,140.8 478.6,142.4" fill="#1481d6"/>
<polygon points="566.6,144.4 572.8,142.8 569.3,141 563.1,142.6" fill="#1481d6"/>
<polygon points="491.9,144.4 498.1,142.8 494.6,141 488.3,142.6" fill="#1481d6"/>
<polygon points="576.4,144.6 582.6,143.1 579.1,141.3 572.8,142.8" fill="#1481d6"/>
<polygon points="417.1,144.4 423.4,142.8 419.9,141 413.6,142.6" fill="#1481d6"/>
<polygon points="501.6,144.6 507.9,143.1 504.4,141.3 498.1,142.8" fill="#1481d6"/>
<polygon points="586.1,144.8 592.4,143.3 588.9,141.5 582.6,143.1" fill="#1481d6"/>
<polygon points="426.9,144.6 433.2,143 429.7,141.3 423.4,142.8" fill="#1481d6"/>
<polygon points="511.4,144.8 517.7,143.3 514.2,141.5 507.9,143.1" fill="#1481d6"/>
<polygon points="595.9,145.1 602.2,143.5 598.7,141.7 592.4,143.3" fill="#1481d6"/>
<polygon points="436.7,144.8 443,143.3 439.5,141.5 433.2,143" fill="#1481d6"/>
<polygon points="521.2,145.1 527.5,143.5 523.9,141.7 517.7,143.3" fill="#1481d6"/>
<polygon points="446.5,145.1 452.7,143.5 449.2,141.7 443,143.3" fill="#1481d6"/>
<polygon points="531,145.3 537.2,143.7 533.7,141.9 527.5,143.5" fill="#1481d6"/>
<polygon points="456.3,145.3 462.5,143.7 459,141.9 452.7,143.5" fill="#1481d6"/>
<polygon points="540.8,145.5 547,143.9 543.5,142.2 537.2,143.7" fill="#1481d6"/>
<polygon points="466,145.5 472.3,143.9 468.8,142.2 462.5,143.7" fill="#1481d6"/>
<polygon points="550.5,145.7 556.8,144.2 553.3,142.4 547,143.9" fill="#1481d6"/>
<polygon points="475.8,145.7 482.1,144.2 478.6,142.4 472.3,143.9" fill="#1481d6"/>
<polygon points="560.3,146 566.6,144.4 563.1,142.6 556.8,144.2" fill="#1481d6"/>
<polygon points="485.6,146 491.9,144.4 488.3,142.6 482.1,144.2" fill="#1481d6"/>
<polygon points="570.1,146.2 576.4,144.6 572.8,142.8 566.6,144.4" fill="#1481d6"/>
<polygon points="495.4,146.2 501.6,144.6 498.1,142.8 491.9,144.4" fill="#1481d6"/>
<polygon points="579.9,146.4 586.1,144.8 582.6,143.1 576.4,144.6" fill="#1481d6"/>
<polygon points="420.7,146.2 426.9,144.6 423.4,142.8 417.1,144.4" fill="#1481d6"/>
<polygon points="505.2,146.4 511.4,144.8 507.9,143.1 501.6,144.6" fill="#1481d6"/>
<polygon points="589.6,146.6 595.9,145.1 592.4,143.3 586.1,144.8" fill="#1481d6"/>
<polygon points="430.4,146.4 436.7,144.8 433.2,143 426.9,144.6" fill="#1481d6"/>
<polygon points="514.9,146.6 521.2,145.1 517.7,143.3 511.4,144.8" fill="#1481d6"/>
<polygon points="440.2,146.6 446.5,145.1 443,143.3 436.7,144.8" fill="#1481d6"/>
<polygon points="524.7,146.8 531,145.3 527.5,143.5 521.2,145.1" fill="#1481d6"/>
<polygon points="450,146.8 456.3,145.3 452.7,143.5 446.5,145.1" fill="#1481d6"/>
<polygon points="534.5,147.1 540.8,145.5 537.2,143.7 531,145.3" fill="#1481d6"/>
<polygon points="459.8,147.1 466,145.5 462.5,143.7 456.3,145.3" fill="#1481d6"/>
<polygon points="544.3,147.3 550.5,145.7 547,143.9 540.8,145.5" fill="#1481d6"/>
<polygon points="469.6,147.3 475.8,145.7 472.3,143.9 466,145.5" fill="#1481d6"/>
<polygon points="554,147.5 560.3,146 556.8,144.2 550.5,145.7" fill="#1481d6"/>
<polygon points="479.3,147.5 485.6,146 482.1,144.2 475.8,145.7" fill="#1481d6"/>
<polygon points="563.8,147.7 570.1,146.2 566.6,144.4 560.3,146" fill="#1481d6"/>
<polygon points="489.1,147.7 495.4,146.2 491.9,144.4 485.6,146" fill="#1481d6"/>
<polygon points="573.6,148 579.9,146.4 576.4,144.6 570.1,146.2" fill="#1481d6"/>
<polygon points="498.9,148 505.2,146.4 501.6,144.6 495.4,146.2" fill="#1481d6"/>
<polygon points="583.4,148.2 589.6,146.6 586.1,144.8 579.9,146.4" fill="#1481d6"/>
<polygon points="424.2,148 430.4,146.4 426.9,144.6 420.7,146.2" fill="#1481d6"/>
<polygon points="508.7,148.2 514.9,146.6 511.4,144.8 505.2,146.4" fill="#1481d6"/>
<polygon points="434,148.2 440.2,146.6 436.7,144.8 430.4,146.4" fill="#1481d6"/>
<polygon points="518.4,148.4 524.7,146.8 521.2,145.1 514.9,146.6" fill="#1481d6"/>
<polygon points="443.7,148.4 450,146.8 446.5,145.1 440.2,146.6" fill="#1481d6"/>
<polygon points="528.2,148.6 534.5,147.1 531,145.3 524.7,146.8" fill="#1481d6"/>
<polygon points="453.5,148.6 459.8,147.1 456.3,145.3 450,146.8" fill="#1481d6"/>
<polygon points="538,148.9 544.3,147.3 540.8,145.5 534.5,147.1" fill="#1481d6"/>
<polygon points="463.3,148.9 469.6,147.3 466,145.5 459.8,147.1" fill="#1481d6"/>
<polygon points="547.8,149.1 554,147.5 550.5,145.7 544.3,147.3" fill="#1481d6"/>
<polygon points="473.1,149.1 479.3,147.5 475.8,145.7 469.6,147.3" fill="#1481d6"/>
<polygon points="557.6,149.3 563.8,147.7 560.3,146 554,147.5" fill="#1481d6"/>
<polygon points="482.9,149.3 489.1,147.7 485.6,146 479.3,147.5" fill="#1481d6"/>
<polygon points="567.3,149.5 573.6,148 570.1,146.2 563.8,147.7" fill="#1481d6"/>
<polygon points="492.6,149.5 498.9,148 495.4,146.2 489.1,147.7" fill="#1481d6"/>
<polygon points="577.1,149.7 583.4,148.2 579.9,146.4 573.6,148" fill="#1481d6"/>
<polygon points="502.4,149.7 508.7,148.2 505.2,146.4 498.9,148" fill="#1481d6"/>
<polygon points="427.7,149.7 434,148.2 430.4,146.4 424.2,148" fill="#1481d6"/>
<polygon points="512.2,150 518.4,148.4 514.9,146.6 508.7,148.2" fill="#1481d6"/>
<polygon points="437.5,150 443.7,148.4 440.2,146.6 434,148.2" fill="#1481d6"/>
<polygon points="522,150.2 528.2,148.6 524.7,146.8 518.4,148.4" fill="#1481d6"/>
<polygon points="447.3,150.2 453.5,148.6 450,146.8 443.7,148.4" fill="#1481d6"/>
<polygon points="531.7,150.4 538,148.9 534.5,147.1 528.2,148.6" fill="#1481d6"/>
<polygon points="457,150.4 463.3,148.9 459.8,147.1 453.5,148.6" fill="#1481d6"/>
<polygon points="541.5,150.6 547.8,149.1 544.3,147.3 538,148.9" fill="#1481d6"/>
<polygon points="466.8,150.6 473.1,149.1 469.6,147.3 463.3,148.9" fill="#1481d6"/>
<polygon points="551.3,150.9 557.6,149.3 554,147.5 547.8,149.1" fill="#1481d6"/>
<polygon points="476.6,150.9 482.9,149.3 479.3,147.5 473.1,149.1" fill="#1481d6"/>
<polygon points="561.1,151.1 567.3,149.5 563.8,147.7 557.6,149.3" fill="#1481d6"/>
<polygon points="486.4,151.1 492.6,149.5 489.1,147.7 482.9,149.3" fill="#1481d6"/>
<polygon points="570.9,151.3 577.1,149.7 573.6,148 567.3,149.5" fill="#1481d6"/>
<polygon points="496.1,151.3 502.4,149.7 498.9,148 492.6,149.5" fill="#1481d6"/>
<polygon points="505.9,151.5 512.2,150 508.7,148.2 502.4,149.7" fill="#1481d6"/>
<polygon points="431.2,151.5 437.5,150 434,148.2 427.7,149.7" fill="#1481d6"/>
<polygon points="515.7,151.8 522,150.2 518.4,148.4 512.2,150" fill="#1481d6"/>
<polygon points="441,151.8 447.3,150.2 443.7,148.4 437.5,150" fill="#1481d6"/>
<polygon points="525.5,152 531.7,150.4 528.2,148.6 522,150.2" fill="#1481d6"/>
<polygon points="450.8,152 457,150.4 453.5,148.6 447.3,150.2" fill="#1481d6"/>
<polygon points="535.3,152.2 541.5,150.6 538,148.9 531.7,150.4" fill="#1481d6"/>
<polygon points="460.5,152.2 466.8,150.6 463.3,148.9 457,150.4" fill="#1481d6"/>
<polygon points="545,152.4 551.3,150.9 547.8,149.1 541.5,150.6" fill="#1481d6"/>
<polygon points="470.3,152.4 476.6,150.9 473.1,149.1 466.8,150.6" fill="#1481d6"/>
<polygon points="554.8,152.7 561.1,151.1 557.6,149.3 551.3,150.9" fill="#1481d6"/>
<polygon points="480.1,152.6 486.4,151.1 482.9,149.3 476.6,150.9" fill="#1481d6"/>
<polygon points="564.6,152.9 570.9,151.3 567.3,149.5 561.1,151.1" fill="#1481d6"/>
<polygon points="489.9,152.9 496.1,151.3 492.6,149.5 486.4,151.1" fill="#1481d6"/>
<polygon points="499.7,153.1 505.9,151.5 502.4,149.7 496.1,151.3" fill="#1481d6"/>
<polygon points="509.4,153.3 515.7,151.8 512.2,150 505.9,151.5" fill="#1481d6"/>
<polygon points="434.7,153.3 441,151.8 437.5,150 431.2,151.5" fill="#1481d6"/>
<polygon points="519.2,153.5 525.5,152 522,150.2 515.7,151.8" fill="#1481d6"/>
<polygon points="444.5,153.5 450.8,152 447.3,150.2 441,151.8" fill="#1481d6"/>
<polygon points="529,153.8 535.3,152.2 531.7,150.4 525.5,152" fill="#1481d6"/>
<polygon points="454.3,153.8 460.5,152.2 457,150.4 450.8,152" fill="#1481d6"/>
<polygon points="538.8,154 545,152.4 541.5,150.6 535.3,152.2" fill="#1481d6"/>
<polygon points="464.1,154 470.3,152.4 466.8,150.6 460.5,152.2" fill="#1481d6"/>
<polygon points="548.6,154.2 554.8,152.7 551.3,150.9 545,152.4" fill="#1481d6"/>
<polygon points="473.8,154.2 480.1,152.6 476.6,150.9 470.3,152.4" fill="#1481d6"/>
<polygon points="558.3,154.4 564.6,152.9 561.1,151.1 554.8,152.7" fill="#1481d6"/>
<polygon points="483.6,154.4 489.9,152.9 486.4,151.1 480.1,152.6" fill="#1481d6"/>
<polygon points="493.4,154.7 499.7,153.1 496.1,151.3 489.9,152.9" fill="#1481d6"/>
<polygon points="503.2,154.9 509.4,153.3 505.9,151.5 499.7,153.1" fill="#1481d6"/>
<polygon points="513,155.1 519.2,153.5 515.7,151.8 509.4,153.3" fill="#1481d6"/>
<polygon points="438.2,155.1 444.5,153.5 441,151.8 434.7,153.3" fill="#1481d6"/>
<polygon points="522.7,155.3 529,153.8 525.5,152 519.2,153.5" fill="#1481d6"/>
<polygon points="448,155.3 454.3,153.8 450.8,152 444.5,153.5" fill="#1481d6"/>
<polygon points="532.5,155.6 538.8,154 535.3,152.2 529,153.8" fill="#1481d6"/>
<polygon points="457.8,155.6 464.1,154 460.5,152.2 454.3,153.8" fill="#1481d6"/>
<polygon points="542.3,155.8 548.6,154.2 545,152.4 538.8,154" fill="#1481d6"/>
<polygon points="467.6,155.8 473.8,154.2 470.3,152.4 464.1,154" fill="#1481d6"/>
<polygon points="552.1,156 558.3,154.4 554.8,152.7 548.6,154.2" fill="#1481d6"/>
<polygon points="477.4,156 483.6,154.4 480.1,152.6 473.8,154.2" fill="#1481d6"/>
<polygon points="487.1,156.2 493.4,154.7 489.9,152.9 483.6,154.4" fill="#1481d6"/>
<polygon points="496.9,156.4 503.2,154.9 499.7,153.1 493.4,154.7" fill="#1481d6"/>
<polygon points="506.7,156.7 513,155.1 509.4,153.3 503.2,154.9" fill="#1481d6"/>
<polygon points="516.5,156.9 522.7,155.3 519.2,153.5 513,155.1" fill="#1481d6"/>
<polygon points="441.8,156.9 448,155.3 444.5,153.5 438.2,155.1" fill="#1481d6"/>
<polygon points="526.3,157.1 532.5,155.6 529,153.8 522.7,155.3" fill="#1481d6"/>
<polygon points="451.5,157.1 457.8,155.6 454.3,153.8 448,155.3" fill="#1481d6"/>
<polygon points="536,157.3 542.3,155.8 538.8,154 532.5,155.6" fill="#1481d6"/>
<polygon points="461.3,157.3 467.6,155.8 464.1,154 457.8,155.6" fill="#1481d6"/>
<polygon points="545.8,157.6 552.1,156 548.6,154.2 542.3,155.8" fill="#1481d6"/>
<polygon points="471.1,157.6 477.4,156 473.8,154.2 467.6,155.8" fill="#1481d6"/>
<polygon points="480.9,157.8 487.1,156.2 483.6,154.4 477.4,156" fill="#1481d6"/>
<polygon points="490.7,158 496.9,156.4 493.4,154.7 487.1,156.2" fill="#1481d6"/>
<polygon points="500.4,158.2 506.7,156.7 503.2,154.9 496.9,156.4" fill="#1481d6"/>
<polygon points="510.2,158.5 516.5,156.9 513,155.1 506.7,156.7" fill="#1481d6"/>
<polygon points="520,158.7 526.3,157.1 522.7,155.3 516.5,156.9" fill="#1481d6"/>
<polygon points="445.3,158.7 451.5,157.1 448,155.3 441.8,156.9" fill="#1481d6"/>
<polygon points="529.8,158.9 536,157.3 532.5,155.6 526.3,157.1" fill="#1481d6"/>
<polygon points="455.1,158.9 461.3,157.3 457.8,155.6 451.5,157.1" fill="#1481d6"/>
<polygon points="539.5,159.1 545.8,157.6 542.3,155.8 536,157.3" fill="#1481d6"/>
<polygon points="464.8,159.1 471.1,157.6 467.6,155.8 461.3,157.3" fill="#1481d6"/>
<polygon points="474.6,159.3 480.9,157.8 477.4,156 471.1,157.6" fill="#1481d6"/>
<polygon points="484.4,159.6 490.7,158 487.1,156.2 480.9,157.8" fill="#1481d6"/>
<polygon points="494.2,159.8 500.4,158.2 496.9,156.4 490.7,158" fill="#1481d6"/>
<polygon points="503.9,160 510.2,158.5 506.7,156.7 500.4,158.2" fill="#1481d6"/>
<polygon points="513.7,160.2 520,158.7 516.5,156.9 510.2,158.5" fill="#1481d6"/>
<polygon points="523.5,160.5 529.8,158.9 526.3,157.1 520,158.7" fill="#1481d6"/>
<polygon points="448.8,160.5 455.1,158.9 451.5,157.1 445.3,158.7" fill="#1481d6"/>
<polygon points="533.3,160.7 539.5,159.1 536,157.3 529.8,158.9" fill="#1481d6"/>
<polygon points="458.6,160.7 464.8,159.1 461.3,157.3 455.1,158.9" fill="#1481d6"/>
<polygon points="468.3,160.9 474.6,159.3 471.1,157.6 464.8,159.1" fill="#1481d6"/>
<polygon points="478.1,161.1 484.4,159.6 480.9,157.8 474.6,159.3" fill="#1481d6"/>
<polygon points="487.9,161.4 494.2,159.8 490.7,158 484.4,159.6" fill="#1481d6"/>
<polygon points="497.7,161.6 503.9,160 500.4,158.2 494.2,159.8" fill="#1481d6"/>
<polygon points="507.5,161.8 513.7,160.2 510.2,158.5 503.9,160" fill="#1481d6"/>
<polygon points="517.2,162 523.5,160.5 520,158.7 513.7,160.2" fill="#1481d6"/>
<polygon points="527,162.2 533.3,160.7 529.8,158.9 523.5,160.5" fill="#1481d6"/>
<polygon points="452.3,162.2 458.6,160.7 455.1,158.9 448.8,160.5" fill="#1481d6"/>
<polygon points="462.1,162.5 468.3,160.9 464.8,159.1 458.6,160.7" fill="#1481d6"/>
<polygon points="471.9,162.7 478.1,161.1 474.6,159.3 468.3,160.9" fill="#1481d6"/>
<polygon points="481.6,162.9 487.9,161.4 484.4,159.6 478.1,161.1" fill="#1481d6"/>
<polygon points="491.4,163.1 497.7,161.6 494.2,159.8 487.9,161.4" fill="#1481d6"/>
<polygon points="501.2,163.4 507.5,161.8 503.9,160 497.7,161.6" fill="#1481d6"/>
<polygon points="511,163.6 517.2,162 513.7,160.2 507.5,161.8" fill="#1481d6"/>
<polygon points="520.8,163.8 527,162.2 523.5,160.5 517.2,162" fill="#1481d6"/>
<polygon points="455.8,164 462.1,162.5 458.6,160.7 452.3,162.2" fill="#1481d6"/>
<polygon points="465.6,164.3 471.9,162.7 468.3,160.9 462.1,162.5" fill="#1481d6"/>
<polygon points="475.4,164.5 481.6,162.9 478.1,161.1 471.9,162.7" fill="#1481d6"/>
<polygon points="485.2,164.7 491.4,163.1 487.9,161.4 481.6,162.9" fill="#1481d6"/>
<polygon points="494.9,164.9 501.2,163.4 497.7,161.6 491.4,163.1" fill="#1481d6"/>
<polygon points="504.7,165.2 511,163.6 507.5,161.8 501.2,163.4" fill="#1481d6"/>
<polygon points="514.5,165.4 520.8,163.8 517.2,162 511,163.6" fill="#1481d6"/>
<polygon points="459.3,165.8 465.6,164.3 462.1,162.5 455.8,164" fill="#1481d6"/>
<polygon points="469.1,166 475.4,164.5 471.9,162.7 465.6,164.3" fill="#1481d6"/>
<polygon points="478.9,166.3 485.2,164.7 481.6,162.9 475.4,164.5" fill="#1481d6"/>
<polygon points="488.7,166.5 494.9,164.9 491.4,163.1 485.2,164.7" fill="#1481d6"/>
<polygon points="498.5,166.7 504.7,165.2 501.2,163.4 494.9,164.9" fill="#1481d6"/>
<polygon points="508.2,166.9 514.5,165.4 511,163.6 504.7,165.2" fill="#1481d6"/>
<polygon points="462.9,167.6 469.1,166 465.6,164.3 459.3,165.8" fill="#1481d6"/>
<polygon points="472.6,167.8 478.9,166.3 475.4,164.5 469.1,166" fill="#1481d6"/>
<polygon points="482.4,168.1 488.7,166.5 485.2,164.7 478.9,166.3" fill="#1481d6"/>
<polygon points="492.2,168.3 498.5,166.7 494.9,164.9 488.7,166.5" fill="#1481d6"/>
<polygon points="502,168.5 508.2,166.9 504.7,165.2 498.5,166.7" fill="#1481d6"/>
<polygon points="466.4,169.4 472.6,167.8 469.1,166 462.9,167.6" fill="#1481d6"/>
<polygon points="476.2,169.6 482.4,168.1 478.9,166.3 472.6,167.8" fill="#1481d6"/>
<polygon points="485.9,169.8 492.2,168.3 488.7,166.5 482.4,168.1" fill="#1481d6"/>
<polygon points="495.7,170.1 502,168.5 498.5,166.7 492.2,168.3" fill="#1481d6"/>
<polygon points="469.9,171.2 476.2,169.6 472.6,167.8 466.4,169.4" fill="#1481d6"/>
<polygon points="479.7,171.4 485.9,169.8 482.4,168.1 476.2,169.6" fill="#1481d6"/>
<polygon points="489.4,171.6 495.7,170.1 492.2,168.3 485.9,169.8" fill="#1481d6"/>
<polygon points="473.4,173 479.7,171.4 476.2,169.6 469.9,171.2" fill="#1481d6"/>
<polygon points="483.2,173.2 489.4,171.6 485.9,169.8 479.7,171.4" fill="#1481d6"/>
<polygon points="476.9,174.7 483.2,173.2 479.7,171.4 473.4,173" fill="#1481d6"/>
<polygon points="536.6,57.5 542.8,52.3 539.3,51.8 533.1,57" fill="#92bf73"/>
<polygon points="530.3,62.6 536.6,57.5 533.1,57 526.8,62.1" fill="#7cbf7b"/>
<polygon points="540.1,57.9 546.4,52.7 542.8,52.3 536.6,57.5" fill="#9cbf6f"/>
<polygon points="524,67.6 530.3,62.6 526.8,62.1 520.5,67.2" fill="#65be86"/>
<polygon points="533.8,63.1 540.1,57.9 536.6,57.5 530.3,62.6" fill="#87bf77"/>
<polygon points="543.6,58.4 549.9,53.2 546.4,52.7 540.1,57.9" fill="#a5be6b"/>
<polygon points="517.8,72.6 524,67.6 520.5,67.2 514.3,72.1" fill="#42bb98"/>
<polygon points="527.6,68.1 533.8,63.1 530.3,62.6 524,67.6" fill="#71bf80"/>
<polygon points="537.3,63.5 543.6,58.4 540.1,57.9 533.8,63.1" fill="#92bf73"/>
<polygon points="547.1,58.8 553.4,53.6 549.9,53.2 543.6,58.4" fill="#aebe67"/>
<polygon points="511.5,77.5 517.8,72.6 514.3,72.1 508,77" fill="#2eb7a4"/>
<polygon points="521.3,73 527.6,68.1 524,67.6 517.8,72.6" fill="#4dbc92"/>
<polygon points="531.1,68.5 537.3,63.5 533.8,63.1 527.6,68.1" fill="#71bf80"/>
<polygon points="540.9,64 547.1,58.8 543.6,58.4 537.3,63.5" fill="#92bf73"/>
<polygon points="550.6,59.3 556.9,54.1 553.4,53.6 547.1,58.8" fill="#b7bd64"/>
<polygon points="505.3,82.3 511.5,77.5 508,77 501.7,81.8" fill="#1db3af"/>
<polygon points="515,77.9 521.3,73 517.8,72.6 511.5,77.5" fill="#38b99e"/>
<polygon points="524.8,73.5 531.1,68.5 527.6,68.1 521.3,73" fill="#59bd8c"/>
<polygon points="534.6,69 540.9,64 537.3,63.5 531.1,68.5" fill="#7cbf7b"/>
<polygon points="544.4,64.4 550.6,59.3 547.1,58.8 540.9,64" fill="#9cbf6f"/>
<polygon points="554.2,59.7 560.4,54.6 556.9,54.1 550.6,59.3" fill="#c0bc60"/>
<polygon points="499,87 505.3,82.3 501.7,81.8 495.5,86.5" fill="#0faeb9"/>
<polygon points="508.8,82.7 515,77.9 511.5,77.5 505.3,82.3" fill="#25b5a9"/>
<polygon points="518.6,78.4 524.8,73.5 521.3,73 515,77.9" fill="#42bb98"/>
<polygon points="528.3,74 534.6,69 531.1,68.5 524.8,73.5" fill="#65be86"/>
<polygon points="538.1,69.4 544.4,64.4 540.9,64 534.6,69" fill="#87bf77"/>
<polygon points="547.9,64.9 554.2,59.7 550.6,59.3 544.4,64.4" fill="#a5be6b"/>
<polygon points="557.7,60.2 563.9,55 560.4,54.6 554.2,59.7" fill="#c0bc60"/>
<polygon points="492.7,91.6 499,87 495.5,86.5 489.2,91.2" fill="#07a9c2"/>
<polygon points="502.5,87.4 508.8,82.7 505.3,82.3 499,87" fill="#15b1b4"/>
<polygon points="512.3,83.2 518.6,78.4 515,77.9 508.8,82.7" fill="#2eb7a4"/>
<polygon points="522.1,78.8 528.3,74 524.8,73.5 518.6,78.4" fill="#4dbc92"/>
<polygon points="531.9,74.4 538.1,69.4 534.6,69 528.3,74" fill="#71bf80"/>
<polygon points="541.6,69.9 547.9,64.9 544.4,64.4 538.1,69.4" fill="#92bf73"/>
<polygon points="551.4,65.3 557.7,60.2 554.2,59.7 547.9,64.9" fill="#aebe67"/>
<polygon points="561.2,60.7 567.4,55.5 563.9,55 557.7,60.2" fill="#c8bc5d"/>
<polygon points="486.5,96.2 492.7,91.6 489.2,91.2 483,95.7" fill="#06a4ca"/>
<polygon points="496.3,92.1 502.5,87.4 499,87 492.7,91.6" fill="#0aacbe"/>
<polygon points="506,87.9 512.3,83.2 508.8,82.7 502.5,87.4" fill="#1db3af"/>
<polygon points="515.8,83.6 522.1,78.8 518.6,78.4 512.3,83.2" fill="#38b99e"/>
<polygon points="525.6,79.3 531.9,74.4 528.3,74 522.1,78.8" fill="#59bd8c"/>
<polygon points="535.4,74.9 541.6,69.9 538.1,69.4 531.9,74.4" fill="#7cbf7b"/>
<polygon points="545.1,70.4 551.4,65.3 547.9,64.9 541.6,69.9" fill="#9cbf6f"/>
<polygon points="554.9,65.8 561.2,60.7 557.7,60.2 551.4,65.3" fill="#b7bd64"/>
<polygon points="480.2,100.7 486.5,96.2 483,95.7 476.7,100.2" fill="#079ccf"/>
<polygon points="564.7,61.1 571,55.9 567.4,55.5 561.2,60.7" fill="#d1bb59"/>
<polygon points="490,96.6 496.3,92.1 492.7,91.6 486.5,96.2" fill="#06a7c6"/>
<polygon points="499.8,92.5 506,87.9 502.5,87.4 496.3,92.1" fill="#0faeb9"/>
<polygon points="509.5,88.3 515.8,83.6 512.3,83.2 506,87.9" fill="#25b5a9"/>
<polygon points="519.3,84.1 525.6,79.3 522.1,78.8 515.8,83.6" fill="#42bb98"/>
<polygon points="529.1,79.7 535.4,74.9 531.9,74.4 525.6,79.3" fill="#65be86"/>
<polygon points="538.9,75.3 545.1,70.4 541.6,69.9 535.4,74.9" fill="#87bf77"/>
<polygon points="548.7,70.8 554.9,65.8 551.4,65.3 545.1,70.4" fill="#a5be6b"/>
<polygon points="473.9,105.1 480.2,100.7 476.7,100.2 470.4,104.6" fill="#0998d1"/>
<polygon points="558.4,66.2 564.7,61.1 561.2,60.7 554.9,65.8" fill="#c0bc60"/>
<polygon points="483.7,101.1 490,96.6 486.5,96.2 480.2,100.7" fill="#06a0cd"/>
<polygon points="568.2,61.6 574.5,56.4 571,55.9 564.7,61.1" fill="#d9ba56"/>
<polygon points="493.5,97.1 499.8,92.5 496.3,92.1 490,96.6" fill="#07a9c2"/>
<polygon points="503.3,93 509.5,88.3 506,87.9 499.8,92.5" fill="#15b1b4"/>
<polygon points="513.1,88.8 519.3,84.1 515.8,83.6 509.5,88.3" fill="#2eb7a4"/>
<polygon points="522.8,84.5 529.1,79.7 525.6,79.3 519.3,84.1" fill="#4dbc92"/>
<polygon points="532.6,80.2 538.9,75.3 535.4,74.9 529.1,79.7" fill="#65be86"/>
<polygon points="542.4,75.8 548.7,70.8 545.1,70.4 538.9,75.3" fill="#87bf77"/>
<polygon points="467.7,109.4 473.9,105.1 470.4,104.6 464.2,108.9" fill="#108ed2"/>
<polygon points="552.2,71.3 558.4,66.2 554.9,65.8 548.7,70.8" fill="#aebe67"/>
<polygon points="477.5,105.5 483.7,101.1 480.2,100.7 473.9,105.1" fill="#0998d1"/>
<polygon points="562,66.7 568.2,61.6 564.7,61.1 558.4,66.2" fill="#c8bc5d"/>
<polygon points="487.2,101.6 493.5,97.1 490,96.6 483.7,101.1" fill="#06a4ca"/>
<polygon points="571.7,62 578,56.8 574.5,56.4 568.2,61.6" fill="#e1b952"/>
<polygon points="497,97.5 503.3,93 499.8,92.5 493.5,97.1" fill="#0aacbe"/>
<polygon points="506.8,93.4 513.1,88.8 509.5,88.3 503.3,93" fill="#1db3af"/>
<polygon points="516.6,89.2 522.8,84.5 519.3,84.1 513.1,88.8" fill="#2eb7a4"/>
<polygon points="526.4,85 532.6,80.2 529.1,79.7 522.8,84.5" fill="#4dbc92"/>
<polygon points="536.1,80.6 542.4,75.8 538.9,75.3 532.6,80.2" fill="#71bf80"/>
<polygon points="461.4,113.6 467.7,109.4 464.2,108.9 458.5,112.8 458.5,113.2" fill="#1485d4"/>
<polygon points="545.9,76.2 552.2,71.3 548.7,70.8 542.4,75.8" fill="#92bf73"/>
<polygon points="471.2,109.8 477.5,105.5 473.9,105.1 467.7,109.4" fill="#0c93d2"/>
<polygon points="555.7,71.7 562,66.7 558.4,66.2 552.2,71.3" fill="#aebe67"/>
<polygon points="481,106 487.2,101.6 483.7,101.1 477.5,105.5" fill="#079ccf"/>
<polygon points="565.5,67.1 571.7,62 568.2,61.6 562,66.7" fill="#d1bb59"/>
<polygon points="490.8,102 497,97.5 493.5,97.1 487.2,101.6" fill="#06a7c6"/>
<polygon points="575.2,62.5 581.5,57.3 578,56.8 571.7,62" fill="#e9b94e"/>
<polygon points="500.5,98 506.8,93.4 503.3,93 497,97.5" fill="#0faeb9"/>
<polygon points="510.3,93.9 516.6,89.2 513.1,88.8 506.8,93.4" fill="#1db3af"/>
<polygon points="520.1,89.7 526.4,85 522.8,84.5 516.6,89.2" fill="#38b99e"/>
<polygon points="529.9,85.4 536.1,80.6 532.6,80.2 526.4,85" fill="#59bd8c"/>
<polygon points="458.8,115.4 461.4,113.6 458.5,113.2" fill="#127dd8"/>
<polygon points="539.7,81.1 545.9,76.2 542.4,75.8 536.1,80.6" fill="#7cbf7b"/>
<polygon points="464.9,114.1 471.2,109.8 467.7,109.4 461.4,113.6" fill="#1389d3"/>
<polygon points="549.4,76.7 555.7,71.7 552.2,71.3 545.9,76.2" fill="#9cbf6f"/>
<polygon points="474.7,110.3 481,106 477.5,105.5 471.2,109.8" fill="#0c93d2"/>
<polygon points="559.2,72.2 565.5,67.1 562,66.7 555.7,71.7" fill="#b7bd64"/>
<polygon points="484.5,106.4 490.8,102 487.2,101.6 481,106" fill="#06a0cd"/>
<polygon points="569,67.6 575.2,62.5 571.7,62 565.5,67.1" fill="#d1bb59"/>
<polygon points="494.3,102.5 500.5,98 497,97.5 490.8,102" fill="#07a9c2"/>
<polygon points="578.8,62.9 585,57.7 581.5,57.3 575.2,62.5" fill="#f1b94a"/>
<polygon points="504.1,98.4 510.3,93.9 506.8,93.4 500.5,98" fill="#15b1b4"/>
<polygon points="513.8,94.3 520.1,89.7 516.6,89.2 510.3,93.9" fill="#25b5a9"/>
<polygon points="523.6,90.2 529.9,85.4 526.4,85 520.1,89.7" fill="#42bb98"/>
<polygon points="533.4,85.9 539.7,81.1 536.1,80.6 529.9,85.4" fill="#65be86"/>
<polygon points="459.1,117.9 464.9,114.1 461.4,113.6 458.8,115.4" fill="#1481d6"/>
<polygon points="543.2,81.5 549.4,76.7 545.9,76.2 539.7,81.1" fill="#87bf77"/>
<polygon points="468.5,114.5 474.7,110.3 471.2,109.8 464.9,114.1" fill="#108ed2"/>
<polygon points="552.9,77.1 559.2,72.2 555.7,71.7 549.4,76.7" fill="#a5be6b"/>
<polygon points="478.2,110.7 484.5,106.4 481,106 474.7,110.3" fill="#0998d1"/>
<polygon points="562.7,72.6 569,67.6 565.5,67.1 559.2,72.2" fill="#c0bc60"/>
<polygon points="488,106.9 494.3,102.5 490.8,102 484.5,106.4" fill="#06a4ca"/>
<polygon points="572.5,68 578.8,62.9 575.2,62.5 569,67.6" fill="#d9ba56"/>
<polygon points="497.8,102.9 504.1,98.4 500.5,98 494.3,102.5" fill="#0aacbe"/>
<polygon points="582.3,63.4 588.5,58.2 585,57.7 578.8,62.9" fill="#f1b94a"/>
<polygon points="507.6,98.9 513.8,94.3 510.3,93.9 504.1,98.4" fill="#15b1b4"/>
<polygon points="517.3,94.8 523.6,90.2 520.1,89.7 513.8,94.3" fill="#2eb7a4"/>
<polygon points="527.1,90.6 533.4,85.9 529.9,85.4 523.6,90.2" fill="#4dbc92"/>
<polygon points="536.9,86.3 543.2,81.5 539.7,81.1 533.4,85.9" fill="#71bf80"/>
<polygon points="462.2,118.7 468.5,114.5 464.9,114.1 459.1,117.9 459.1,118.3" fill="#1485d4"/>
<polygon points="546.7,82 552.9,77.1 549.4,76.7 543.2,81.5" fill="#92bf73"/>
<polygon points="472,115 478.2,110.7 474.7,110.3 468.5,114.5" fill="#0c93d2"/>
<polygon points="556.5,77.6 562.7,72.6 559.2,72.2 552.9,77.1" fill="#aebe67"/>
<polygon points="481.8,111.2 488,106.9 484.5,106.4 478.2,110.7" fill="#079ccf"/>
<polygon points="566.2,73.1 572.5,68 569,67.6 562.7,72.6" fill="#c8bc5d"/>
<polygon points="491.5,107.3 497.8,102.9 494.3,102.5 488,106.9" fill="#06a7c6"/>
<polygon points="576,68.5 582.3,63.4 578.8,62.9 572.5,68" fill="#e1b952"/>
<polygon points="501.3,103.4 507.6,98.9 504.1,98.4 497.8,102.9" fill="#0faeb9"/>
<polygon points="585.8,63.8 592.1,58.6 588.5,58.2 582.3,63.4" fill="#f8bb44"/>
<polygon points="511.1,99.3 517.3,94.8 513.8,94.3 507.6,98.9" fill="#1db3af"/>
<polygon points="520.9,95.2 527.1,90.6 523.6,90.2 517.3,94.8" fill="#38b99e"/>
<polygon points="530.6,91.1 536.9,86.3 533.4,85.9 527.1,90.6" fill="#59bd8c"/>
<polygon points="459.3,120.6 462.2,118.7 459.1,118.3" fill="#127dd8"/>
<polygon points="540.4,86.8 546.7,82 543.2,81.5 536.9,86.3" fill="#7cbf7b"/>
<polygon points="465.7,119.1 472,115 468.5,114.5 462.2,118.7" fill="#1389d3"/>
<polygon points="550.2,82.5 556.5,77.6 552.9,77.1 546.7,82" fill="#9cbf6f"/>
<polygon points="475.5,115.4 481.8,111.2 478.2,110.7 472,115" fill="#0c93d2"/>
<polygon points="560,78 566.2,73.1 562.7,72.6 556.5,77.6" fill="#b7bd64"/>
<polygon points="485.3,111.6 491.5,107.3 488,106.9 481.8,111.2" fill="#06a0cd"/>
<polygon points="569.8,73.5 576,68.5 572.5,68 566.2,73.1" fill="#d1bb59"/>
<polygon points="495,107.8 501.3,103.4 497.8,102.9 491.5,107.3" fill="#07a9c2"/>
<polygon points="579.5,68.9 585.8,63.8 582.3,63.4 576,68.5" fill="#e9b94e"/>
<polygon points="504.8,103.8 511.1,99.3 507.6,98.9 501.3,103.4" fill="#0faeb9"/>
<polygon points="589.3,64.3 595.6,59.1 592.1,58.6 585.8,63.8" fill="#fdbe3d"/>
<polygon points="514.6,99.8 520.9,95.2 517.3,94.8 511.1,99.3" fill="#25b5a9"/>
<polygon points="524.4,95.7 530.6,91.1 527.1,90.6 520.9,95.2" fill="#42bb98"/>
<polygon points="534.2,91.5 540.4,86.8 536.9,86.3 530.6,91.1" fill="#65be86"/>
<polygon points="459.5,123.2 465.7,119.1 462.2,118.7 459.3,120.6" fill="#1481d6"/>
<polygon points="543.9,87.2 550.2,82.5 546.7,82 540.4,86.8" fill="#87bf77"/>
<polygon points="469.2,119.6 475.5,115.4 472,115 465.7,119.1" fill="#108ed2"/>
<polygon points="553.7,82.9 560,78 556.5,77.6 550.2,82.5" fill="#a5be6b"/>
<polygon points="479,115.9 485.3,111.6 481.8,111.2 475.5,115.4" fill="#0998d1"/>
<polygon points="563.5,78.5 569.8,73.5 566.2,73.1 560,78" fill="#c0bc60"/>
<polygon points="488.8,112.1 495,107.8 491.5,107.3 485.3,111.6" fill="#06a4ca"/>
<polygon points="573.3,74 579.5,68.9 576,68.5 569.8,73.5" fill="#d9ba56"/>
<polygon points="498.6,108.2 504.8,103.8 501.3,103.4 495,107.8" fill="#0aacbe"/>
<polygon points="583.1,69.4 589.3,64.3 585.8,63.8 579.5,68.9" fill="#f1b94a"/>
<polygon points="508.3,104.3 514.6,99.8 511.1,99.3 504.8,103.8" fill="#15b1b4"/>
<polygon points="592.8,64.7 599.1,59.5 595.6,59.1 589.3,64.3" fill="#ffc337"/>
<polygon points="518.1,100.3 524.4,95.7 520.9,95.2 514.6,99.8" fill="#2eb7a4"/>
<polygon points="527.9,96.1 534.2,91.5 530.6,91.1 524.4,95.7" fill="#4dbc92"/>
<polygon points="537.7,92 543.9,87.2 540.4,86.8 534.2,91.5" fill="#71bf80"/>
<polygon points="463,123.7 469.2,119.6 465.7,119.1 459.5,123.2 459.5,123.2" fill="#1485d4"/>
<polygon points="547.5,87.7 553.7,82.9 550.2,82.5 543.9,87.2" fill="#92bf73"/>
<polygon points="472.7,120 479,115.9 475.5,115.4 469.2,119.6" fill="#0c93d2"/>
<polygon points="557.2,83.4 563.5,78.5 560,78 553.7,82.9" fill="#aebe67"/>
<polygon points="482.5,116.3 488.8,112.1 485.3,111.6 479,115.9" fill="#079ccf"/>
<polygon points="567,78.9 573.3,74 569.8,73.5 563.5,78.5" fill="#c8bc5d"/>
<polygon points="492.3,112.5 498.6,108.2 495,107.8 488.8,112.1" fill="#06a7c6"/>
<polygon points="576.8,74.4 583.1,69.4 579.5,68.9 573.3,74" fill="#e1b952"/>
<polygon points="502.1,108.7 508.3,104.3 504.8,103.8 498.6,108.2" fill="#0aacbe"/>
<polygon points="586.6,69.8 592.8,64.7 589.3,64.3 583.1,69.4" fill="#f8bb44"/>
<polygon points="511.9,104.7 518.1,100.3 514.6,99.8 508.3,104.3" fill="#1db3af"/>
<polygon points="596.3,65.2 602.6,60 599.1,59.5 592.8,64.7" fill="#fec832"/>
<polygon points="521.6,100.7 527.9,96.1 524.4,95.7 518.1,100.3" fill="#38b99e"/>
<polygon points="531.4,96.6 537.7,92 534.2,91.5 527.9,96.1" fill="#59bd8c"/>
<polygon points="459.6,125.8 463,123.7 459.5,123.2" fill="#1481d6"/>
<polygon points="541.2,92.4 547.5,87.7 543.9,87.2 537.7,92" fill="#7cbf7b"/>
<polygon points="466.5,124.1 472.7,120 469.2,119.6 463,123.7" fill="#1389d3"/>
<polygon points="551,88.2 557.2,83.4 553.7,82.9 547.5,87.7" fill="#92bf73"/>
<polygon points="476.3,120.5 482.5,116.3 479,115.9 472.7,120" fill="#0c93d2"/>
<polygon points="560.7,83.8 567,78.9 563.5,78.5 557.2,83.4" fill="#aebe67"/>
<polygon points="486,116.8 492.3,112.5 488.8,112.1 482.5,116.3" fill="#06a0cd"/>
<polygon points="570.5,79.4 576.8,74.4 573.3,74 567,78.9" fill="#c8bc5d"/>
<polygon points="495.8,113 502.1,108.7 498.6,108.2 492.3,112.5" fill="#07a9c2"/>
<polygon points="580.3,74.9 586.6,69.8 583.1,69.4 576.8,74.4" fill="#e1b952"/>
<polygon points="505.6,109.1 511.9,104.7 508.3,104.3 502.1,108.7" fill="#0faeb9"/>
<polygon points="590.1,70.3 596.3,65.2 592.8,64.7 586.6,69.8" fill="#fdbe3d"/>
<polygon points="515.4,105.2 521.6,100.7 518.1,100.3 511.9,104.7" fill="#25b5a9"/>
<polygon points="599.9,65.6 606.1,60.4 602.6,60 596.3,65.2" fill="#fcce2e"/>
<polygon points="525.1,101.2 531.4,96.6 527.9,96.1 521.6,100.7" fill="#42bb98"/>
<polygon points="534.9,97.1 541.2,92.4 537.7,92 531.4,96.6" fill="#65be86"/>
<polygon points="460.2,128.1 466.5,124.1 463,123.7 459.6,125.8 459.7,128" fill="#1481d6"/>
<polygon points="544.7,92.9 551,88.2 547.5,87.7 541.2,92.4" fill="#7cbf7b"/>
<polygon points="470,124.6 476.3,120.5 472.7,120 466.5,124.1" fill="#108ed2"/>
<polygon points="554.5,88.6 560.7,83.8 557.2,83.4 551,88.2" fill="#9cbf6f"/>
<polygon points="479.8,120.9 486,116.8 482.5,116.3 476.3,120.5" fill="#0998d1"/>
<polygon points="564.3,84.3 570.5,79.4 567,78.9 560.7,83.8" fill="#b7bd64"/>
<polygon points="489.6,117.2 495.8,113 492.3,112.5 486,116.8" fill="#06a4ca"/>
<polygon points="574,79.8 580.3,74.9 576.8,74.4 570.5,79.4" fill="#d1bb59"/>
<polygon points="499.3,113.4 505.6,109.1 502.1,108.7 495.8,113" fill="#07a9c2"/>
<polygon points="583.8,75.3 590.1,70.3 586.6,69.8 580.3,74.9" fill="#e9b94e"/>
<polygon points="509.1,109.6 515.4,105.2 511.9,104.7 505.6,109.1" fill="#15b1b4"/>
<polygon points="593.6,70.8 599.9,65.6 596.3,65.2 590.1,70.3" fill="#fdbe3d"/>
<polygon points="518.9,105.6 525.1,101.2 521.6,100.7 515.4,105.2" fill="#2eb7a4"/>
<polygon points="603.4,66.1 609.6,60.9 606.1,60.4 599.9,65.6" fill="#fad32a"/>
<polygon points="528.7,101.6 534.9,97.1 531.4,96.6 525.1,101.2" fill="#4dbc92"/>
<polygon points="459.7,128.5 460.2,128.1 459.7,128" fill="#127dd8"/>
<polygon points="538.4,97.5 544.7,92.9 541.2,92.4 534.9,97.1" fill="#65be86"/>
<polygon points="463.7,128.6 470,124.6 466.5,124.1 460.2,128.1" fill="#1485d4"/>
<polygon points="548.2,93.3 554.5,88.6 551,88.2 544.7,92.9" fill="#87bf77"/>
<polygon points="473.5,125 479.8,120.9 476.3,120.5 470,124.6" fill="#0c93d2"/>
<polygon points="558,89.1 564.3,84.3 560.7,83.8 554.5,88.6" fill="#a5be6b"/>
<polygon points="483.3,121.4 489.6,117.2 486,116.8 479.8,120.9" fill="#079ccf"/>
<polygon points="567.8,84.7 574,79.8 570.5,79.4 564.3,84.3" fill="#c0bc60"/>
<polygon points="493.1,117.7 499.3,113.4 495.8,113 489.6,117.2" fill="#06a7c6"/>
<polygon points="577.6,80.3 583.8,75.3 580.3,74.9 574,79.8" fill="#d9ba56"/>
<polygon points="502.8,113.9 509.1,109.6 505.6,109.1 499.3,113.4" fill="#0aacbe"/>
<polygon points="587.3,75.8 593.6,70.8 590.1,70.3 583.8,75.3" fill="#f1b94a"/>
<polygon points="512.6,110 518.9,105.6 515.4,105.2 509.1,109.6" fill="#1db3af"/>
<polygon points="597.1,71.2 603.4,66.1 599.9,65.6 593.6,70.8" fill="#ffc337"/>
<polygon points="522.4,106.1 528.7,101.6 525.1,101.2 518.9,105.6" fill="#38b99e"/>
<polygon points="606.9,66.5 613.2,61.3 609.6,60.9 603.4,66.1" fill="#fad32a"/>
<polygon points="532.2,102.1 538.4,97.5 534.9,97.1 528.7,101.6" fill="#4dbc92"/>
<polygon points="459.6,131.1 463.7,128.6 460.2,128.1 459.7,128.5" fill="#1481d6"/>
<polygon points="542,98 548.2,93.3 544.7,92.9 538.4,97.5" fill="#71bf80"/>
<polygon points="467.2,129 473.5,125 470,124.6 463.7,128.6" fill="#1389d3"/>
<polygon points="551.7,93.8 558,89.1 554.5,88.6 548.2,93.3" fill="#92bf73"/>
<polygon points="477,125.5 483.3,121.4 479.8,120.9 473.5,125" fill="#0998d1"/>
<polygon points="561.5,89.5 567.8,84.7 564.3,84.3 558,89.1" fill="#aebe67"/>
<polygon points="486.8,121.8 493.1,117.7 489.6,117.2 483.3,121.4" fill="#06a0cd"/>
<polygon points="571.3,85.2 577.6,80.3 574,79.8 567.8,84.7" fill="#c8bc5d"/>
<polygon points="496.6,118.1 502.8,113.9 499.3,113.4 493.1,117.7" fill="#07a9c2"/>
<polygon points="581.1,80.7 587.3,75.8 583.8,75.3 577.6,80.3" fill="#e1b952"/>
<polygon points="506.4,114.4 512.6,110 509.1,109.6 502.8,113.9" fill="#0faeb9"/>
<polygon points="590.9,76.2 597.1,71.2 593.6,70.8 587.3,75.8" fill="#f8bb44"/>
<polygon points="516.1,110.5 522.4,106.1 518.9,105.6 512.6,110" fill="#25b5a9"/>
<polygon points="600.6,71.7 606.9,66.5 603.4,66.1 597.1,71.2" fill="#fec832"/>
<polygon points="525.9,106.5 532.2,102.1 528.7,101.6 522.4,106.1" fill="#42bb98"/>
<polygon points="610.4,67 616.7,61.8 613.2,61.3 606.9,66.5" fill="#f7d826"/>
<polygon points="535.7,102.5 542,98 538.4,97.5 532.2,102.1" fill="#59bd8c"/>
<polygon points="461,132.9 467.2,129 463.7,128.6 459.6,131.1 459.6,132.8" fill="#1485d4"/>
<polygon points="545.5,98.4 551.7,93.8 548.2,93.3 542,98" fill="#7cbf7b"/>
<polygon points="470.8,129.5 477,125.5 473.5,125 467.2,129" fill="#108ed2"/>
<polygon points="555.3,94.2 561.5,89.5 558,89.1 551.7,93.8" fill="#9cbf6f"/>
<polygon points="480.5,125.9 486.8,121.8 483.3,121.4 477,125.5" fill="#0998d1"/>
<polygon points="565,90 571.3,85.2 567.8,84.7 561.5,89.5" fill="#b7bd64"/>
<polygon points="490.3,122.3 496.6,118.1 493.1,117.7 486.8,121.8" fill="#06a4ca"/>
<polygon points="574.8,85.6 581.1,80.7 577.6,80.3 571.3,85.2" fill="#d1bb59"/>
<polygon points="500.1,118.6 506.4,114.4 502.8,113.9 496.6,118.1" fill="#07a9c2"/>
<polygon points="584.6,81.2 590.9,76.2 587.3,75.8 581.1,80.7" fill="#e9b94e"/>
<polygon points="509.9,114.8 516.1,110.5 512.6,110 506.4,114.4" fill="#15b1b4"/>
<polygon points="594.4,76.7 600.6,71.7 597.1,71.2 590.9,76.2" fill="#fdbe3d"/>
<polygon points="519.7,110.9 525.9,106.5 522.4,106.1 516.1,110.5" fill="#2eb7a4"/>
<polygon points="604.1,72.1 610.4,67 606.9,66.5 600.6,71.7" fill="#fcce2e"/>
<polygon points="529.4,107 535.7,102.5 532.2,102.1 525.9,106.5" fill="#42bb98"/>
<polygon points="613.9,67.4 620.2,62.3 616.7,61.8 610.4,67" fill="#f5de21"/>
<polygon points="459.6,133.8 461,132.9 459.6,132.8" fill="#127dd8"/>
<polygon points="539.2,103 545.5,98.4 542,98 535.7,102.5" fill="#65be86"/>
<polygon points="464.5,133.4 470.8,129.5 467.2,129 461,132.9" fill="#1485d4"/>
<polygon points="549,98.9 555.3,94.2 551.7,93.8 545.5,98.4" fill="#87bf77"/>
<polygon points="474.3,129.9 480.5,125.9 477,125.5 470.8,129.5" fill="#0c93d2"/>
<polygon points="558.8,94.7 565,90 561.5,89.5 555.3,94.2" fill="#a5be6b"/>
<polygon points="484.1,126.4 490.3,122.3 486.8,121.8 480.5,125.9" fill="#079ccf"/>
<polygon points="568.5,90.4 574.8,85.6 571.3,85.2 565,90" fill="#c0bc60"/>
<polygon points="493.8,122.7 500.1,118.6 496.6,118.1 490.3,122.3" fill="#06a7c6"/>
<polygon points="578.3,86.1 584.6,81.2 581.1,80.7 574.8,85.6" fill="#d9ba56"/>
<polygon points="503.6,119 509.9,114.8 506.4,114.4 500.1,118.6" fill="#0aacbe"/>
<polygon points="588.1,81.7 594.4,76.7 590.9,76.2 584.6,81.2" fill="#f1b94a"/>
<polygon points="513.4,115.3 519.7,110.9 516.1,110.5 509.9,114.8" fill="#1db3af"/>
<polygon points="597.9,77.1 604.1,72.1 600.6,71.7 594.4,76.7" fill="#ffc337"/>
<polygon points="523.2,111.4 529.4,107 525.9,106.5 519.7,110.9" fill="#38b99e"/>
<polygon points="607.7,72.6 613.9,67.4 610.4,67 604.1,72.1" fill="#fad32a"/>
<polygon points="533,107.4 539.2,103 535.7,102.5 529.4,107" fill="#4dbc92"/>
<polygon points="617.4,67.9 623.7,62.7 620.2,62.3 613.9,67.4" fill="#f5e41d"/>
<polygon points="459.4,136.5 464.5,133.4 461,132.9 459.6,133.8" fill="#1481d6"/>
<polygon points="542.7,103.4 549,98.9 545.5,98.4 539.2,103" fill="#71bf80"/>
<polygon points="468,133.8 474.3,129.9 470.8,129.5 464.5,133.4" fill="#1389d3"/>
<polygon points="552.5,99.3 558.8,94.7 555.3,94.2 549,98.9" fill="#92bf73"/>
<polygon points="477.8,130.4 484.1,126.4 480.5,125.9 474.3,129.9" fill="#0998d1"/>
<polygon points="562.3,95.1 568.5,90.4 565,90 558.8,94.7" fill="#aebe67"/>
<polygon points="487.6,126.8 493.8,122.7 490.3,122.3 484.1,126.4" fill="#06a0cd"/>
<polygon points="572.1,90.9 578.3,86.1 574.8,85.6 568.5,90.4" fill="#c8bc5d"/>
<polygon points="497.4,123.2 503.6,119 500.1,118.6 493.8,122.7" fill="#07a9c2"/>
<polygon points="581.8,86.5 588.1,81.7 584.6,81.2 578.3,86.1" fill="#e1b952"/>
<polygon points="507.1,119.5 513.4,115.3 509.9,114.8 503.6,119" fill="#0faeb9"/>
<polygon points="591.6,82.1 597.9,77.1 594.4,76.7 588.1,81.7" fill="#f8bb44"/>
<polygon points="516.9,115.7 523.2,111.4 519.7,110.9 513.4,115.3" fill="#25b5a9"/>
<polygon points="601.4,77.6 607.7,72.6 604.1,72.1 597.9,77.1" fill="#fec832"/>
<polygon points="526.7,111.8 533,107.4 529.4,107 523.2,111.4" fill="#38b99e"/>
<polygon points="611.2,73 617.4,67.9 613.9,67.4 607.7,72.6" fill="#f7d826"/>
<polygon points="536.5,107.9 542.7,103.4 539.2,103 533,107.4" fill="#59bd8c"/>
<polygon points="621,68.4 627.2,63.2 623.7,62.7 617.4,67.9" fill="#f5eb18"/>
<polygon points="461.8,137.7 468,133.8 464.5,133.4 459.4,136.5 459.4,137.4" fill="#1485d4"/>
<polygon points="546.2,103.9 552.5,99.3 549,98.9 542.7,103.4" fill="#7cbf7b"/>
<polygon points="471.5,134.3 477.8,130.4 474.3,129.9 468,133.8" fill="#108ed2"/>
<polygon points="556,99.8 562.3,95.1 558.8,94.7 552.5,99.3" fill="#9cbf6f"/>
<polygon points="481.3,130.8 487.6,126.8 484.1,126.4 477.8,130.4" fill="#079ccf"/>
<polygon points="565.8,95.6 572.1,90.9 568.5,90.4 562.3,95.1" fill="#b7bd64"/>
<polygon points="491.1,127.3 497.4,123.2 493.8,122.7 487.6,126.8" fill="#06a4ca"/>
<polygon points="575.6,91.3 581.8,86.5 578.3,86.1 572.1,90.9" fill="#c8bc5d"/>
<polygon points="500.9,123.7 507.1,119.5 503.6,119 497.4,123.2" fill="#0aacbe"/>
<polygon points="585.4,87 591.6,82.1 588.1,81.7 581.8,86.5" fill="#e1b952"/>
<polygon points="510.6,119.9 516.9,115.7 513.4,115.3 507.1,119.5" fill="#15b1b4"/>
<polygon points="595.1,82.6 601.4,77.6 597.9,77.1 591.6,82.1" fill="#f8bb44"/>
<polygon points="520.4,116.2 526.7,111.8 523.2,111.4 516.9,115.7" fill="#2eb7a4"/>
<polygon points="604.9,78.1 611.2,73 607.7,72.6 601.4,77.6" fill="#fec832"/>
<polygon points="530.2,112.3 536.5,107.9 533,107.4 526.7,111.8" fill="#42bb98"/>
<polygon points="614.7,73.5 621,68.4 617.4,67.9 611.2,73" fill="#f5de21"/>
<polygon points="459.2,139.2 461.8,137.7 459.4,137.4" fill="#127dd8"/>
<polygon points="540,108.4 546.2,103.9 542.7,103.4 536.5,107.9" fill="#65be86"/>
<polygon points="465.3,138.1 471.5,134.3 468,133.8 461.8,137.7" fill="#1389d3"/>
<polygon points="549.8,104.3 556,99.8 552.5,99.3 546.2,103.9" fill="#87bf77"/>
<polygon points="475,134.7 481.3,130.8 477.8,130.4 471.5,134.3" fill="#0c93d2"/>
<polygon points="559.5,100.2 565.8,95.6 562.3,95.1 556,99.8" fill="#a5be6b"/>
<polygon points="484.8,131.3 491.1,127.3 487.6,126.8 481.3,130.8" fill="#079ccf"/>
<polygon points="569.3,96 575.6,91.3 572.1,90.9 565.8,95.6" fill="#b7bd64"/>
<polygon points="494.6,127.7 500.9,123.7 497.4,123.2 491.1,127.3" fill="#06a7c6"/>
<polygon points="579.1,91.8 585.4,87 581.8,86.5 575.6,91.3" fill="#d1bb59"/>
<polygon points="504.4,124.1 510.6,119.9 507.1,119.5 500.9,123.7" fill="#0aacbe"/>
<polygon points="588.9,87.4 595.1,82.6 591.6,82.1 585.4,87" fill="#e9b94e"/>
<polygon points="514.2,120.4 520.4,116.2 516.9,115.7 510.6,119.9" fill="#1db3af"/>
<polygon points="598.7,83 604.9,78.1 601.4,77.6 595.1,82.6" fill="#fdbe3d"/>
<polygon points="523.9,116.6 530.2,112.3 526.7,111.8 520.4,116.2" fill="#38b99e"/>
<polygon points="608.4,78.5 614.7,73.5 611.2,73 604.9,78.1" fill="#fcce2e"/>
<polygon points="533.7,112.8 540,108.4 536.5,107.9 530.2,112.3" fill="#4dbc92"/>
<polygon points="459,141.9 465.3,138.1 461.8,137.7 459.2,139.2 458.9,141.9" fill="#1481d6"/>
<polygon points="543.5,108.8 549.8,104.3 546.2,103.9 540,108.4" fill="#71bf80"/>
<polygon points="468.8,138.6 475,134.7 471.5,134.3 465.3,138.1" fill="#108ed2"/>
<polygon points="553.3,104.8 559.5,100.2 556,99.8 549.8,104.3" fill="#92bf73"/>
<polygon points="478.6,135.2 484.8,131.3 481.3,130.8 475,134.7" fill="#0998d1"/>
<polygon points="563.1,100.7 569.3,96 565.8,95.6 559.5,100.2" fill="#a5be6b"/>
<polygon points="488.3,131.7 494.6,127.7 491.1,127.3 484.8,131.3" fill="#06a0cd"/>
<polygon points="572.8,96.5 579.1,91.8 575.6,91.3 569.3,96" fill="#c0bc60"/>
<polygon points="498.1,128.2 504.4,124.1 500.9,123.7 494.6,127.7" fill="#07a9c2"/>
<polygon points="582.6,92.2 588.9,87.4 585.4,87 579.1,91.8" fill="#d9ba56"/>
<polygon points="507.9,124.6 514.2,120.4 510.6,119.9 504.4,124.1" fill="#0faeb9"/>
<polygon points="592.4,87.9 598.7,83 595.1,82.6 588.9,87.4" fill="#f1b94a"/>
<polygon points="517.7,120.9 523.9,116.6 520.4,116.2 514.2,120.4" fill="#25b5a9"/>
<polygon points="602.2,83.5 608.4,78.5 604.9,78.1 598.7,83" fill="#ffc337"/>
<polygon points="527.5,117.1 533.7,112.8 530.2,112.3 523.9,116.6" fill="#38b99e"/>
<polygon points="458.9,142 459,141.9 458.9,141.9" fill="#127dd8"/>
<polygon points="537.2,113.2 543.5,108.8 540,108.4 533.7,112.8" fill="#59bd8c"/>
<polygon points="462.5,142.3 468.8,138.6 465.3,138.1 459,141.9" fill="#1485d4"/>
<polygon points="547,109.3 553.3,104.8 549.8,104.3 543.5,108.8" fill="#7cbf7b"/>
<polygon points="472.3,139 478.6,135.2 475,134.7 468.8,138.6" fill="#108ed2"/>
<polygon points="556.8,105.2 563.1,100.7 559.5,100.2 553.3,104.8" fill="#92bf73"/>
<polygon points="482.1,135.6 488.3,131.7 484.8,131.3 478.6,135.2" fill="#079ccf"/>
<polygon points="566.6,101.1 572.8,96.5 569.3,96 563.1,100.7" fill="#aebe67"/>
<polygon points="491.9,132.2 498.1,128.2 494.6,127.7 488.3,131.7" fill="#06a4ca"/>
<polygon points="576.4,96.9 582.6,92.2 579.1,91.8 572.8,96.5" fill="#c8bc5d"/>
<polygon points="501.6,128.6 507.9,124.6 504.4,124.1 498.1,128.2" fill="#0aacbe"/>
<polygon points="586.1,92.7 592.4,87.9 588.9,87.4 582.6,92.2" fill="#e1b952"/>
<polygon points="511.4,125 517.7,120.9 514.2,120.4 507.9,124.6" fill="#15b1b4"/>
<polygon points="595.9,88.3 602.2,83.5 598.7,83 592.4,87.9" fill="#f8bb44"/>
<polygon points="521.2,121.3 527.5,117.1 523.9,116.6 517.7,120.9" fill="#2eb7a4"/>
<polygon points="531,117.5 537.2,113.2 533.7,112.8 527.5,117.1" fill="#42bb98"/>
<polygon points="458.4,144.7 462.5,142.3 459,141.9 458.9,142" fill="#1481d6"/>
<polygon points="540.8,113.7 547,109.3 543.5,108.8 537.2,113.2" fill="#65be86"/>
<polygon points="466,142.8 472.3,139 468.8,138.6 462.5,142.3" fill="#1389d3"/>
<polygon points="550.5,109.7 556.8,105.2 553.3,104.8 547,109.3" fill="#87bf77"/>
<polygon points="475.8,139.5 482.1,135.6 478.6,135.2 472.3,139" fill="#0c93d2"/>
<polygon points="560.3,105.7 566.6,101.1 563.1,100.7 556.8,105.2" fill="#9cbf6f"/>
<polygon points="485.6,136.1 491.9,132.2 488.3,131.7 482.1,135.6" fill="#06a0cd"/>
<polygon points="570.1,101.6 576.4,96.9 572.8,96.5 566.6,101.1" fill="#b7bd64"/>
<polygon points="495.4,132.6 501.6,128.6 498.1,128.2 491.9,132.2" fill="#06a7c6"/>
<polygon points="579.9,97.4 586.1,92.7 582.6,92.2 576.4,96.9" fill="#d1bb59"/>
<polygon points="505.2,129.1 511.4,125 507.9,124.6 501.6,128.6" fill="#0aacbe"/>
<polygon points="589.6,93.1 595.9,88.3 592.4,87.9 586.1,92.7" fill="#e9b94e"/>
<polygon points="514.9,125.5 521.2,121.3 517.7,120.9 511.4,125" fill="#1db3af"/>
<polygon points="524.7,121.8 531,117.5 527.5,117.1 521.2,121.3" fill="#38b99e"/>
<polygon points="534.5,118 540.8,113.7 537.2,113.2 531,117.5" fill="#4dbc92"/>
<polygon points="459.8,146.5 466,142.8 462.5,142.3 458.4,144.7 458.2,146.3" fill="#1485d4"/>
<polygon points="544.3,114.1 550.5,109.7 547,109.3 540.8,113.7" fill="#71bf80"/>
<polygon points="469.6,143.2 475.8,139.5 472.3,139 466,142.8" fill="#108ed2"/>
<polygon points="554,110.2 560.3,105.7 556.8,105.2 550.5,109.7" fill="#87bf77"/>
<polygon points="479.3,139.9 485.6,136.1 482.1,135.6 475.8,139.5" fill="#0998d1"/>
<polygon points="563.8,106.1 570.1,101.6 566.6,101.1 560.3,105.7" fill="#a5be6b"/>
<polygon points="489.1,136.6 495.4,132.6 491.9,132.2 485.6,136.1" fill="#06a4ca"/>
<polygon points="573.6,102 579.9,97.4 576.4,96.9 570.1,101.6" fill="#c0bc60"/>
<polygon points="498.9,133.1 505.2,129.1 501.6,128.6 495.4,132.6" fill="#07a9c2"/>
<polygon points="583.4,97.9 589.6,93.1 586.1,92.7 579.9,97.4" fill="#d9ba56"/>
<polygon points="508.7,129.5 514.9,125.5 511.4,125 505.2,129.1" fill="#0faeb9"/>
<polygon points="518.4,125.9 524.7,121.8 521.2,121.3 514.9,125.5" fill="#25b5a9"/>
<polygon points="528.2,122.2 534.5,118 531,117.5 524.7,121.8" fill="#38b99e"/>
<polygon points="457.9,147.5 459.8,146.5 458.2,146.3" fill="#127dd8"/>
<polygon points="538,118.4 544.3,114.1 540.8,113.7 534.5,118" fill="#59bd8c"/>
<polygon points="463.3,146.9 469.6,143.2 466,142.8 459.8,146.5" fill="#1389d3"/>
<polygon points="547.8,114.6 554,110.2 550.5,109.7 544.3,114.1" fill="#7cbf7b"/>
<polygon points="473.1,143.7 479.3,139.9 475.8,139.5 469.6,143.2" fill="#0c93d2"/>
<polygon points="557.6,110.6 563.8,106.1 560.3,105.7 554,110.2" fill="#92bf73"/>
<polygon points="482.9,140.4 489.1,136.6 485.6,136.1 479.3,139.9" fill="#079ccf"/>
<polygon points="567.3,106.6 573.6,102 570.1,101.6 563.8,106.1" fill="#aebe67"/>
<polygon points="492.6,137 498.9,133.1 495.4,132.6 489.1,136.6" fill="#06a4ca"/>
<polygon points="577.1,102.5 583.4,97.9 579.9,97.4 573.6,102" fill="#c8bc5d"/>
<polygon points="502.4,133.5 508.7,129.5 505.2,129.1 498.9,133.1" fill="#0aacbe"/>
<polygon points="512.2,130 518.4,125.9 514.9,125.5 508.7,129.5" fill="#15b1b4"/>
<polygon points="522,126.4 528.2,122.2 524.7,121.8 518.4,125.9" fill="#2eb7a4"/>
<polygon points="531.7,122.7 538,118.4 534.5,118 528.2,122.2" fill="#42bb98"/>
<polygon points="457.4,150.3 463.3,146.9 459.8,146.5 457.9,147.5" fill="#1481d6"/>
<polygon points="541.5,118.9 547.8,114.6 544.3,114.1 538,118.4" fill="#65be86"/>
<polygon points="466.8,147.4 473.1,143.7 469.6,143.2 463.3,146.9" fill="#1389d3"/>
<polygon points="551.3,115 557.6,110.6 554,110.2 547.8,114.6" fill="#7cbf7b"/>
<polygon points="476.6,144.1 482.9,140.4 479.3,139.9 473.1,143.7" fill="#0998d1"/>
<polygon points="561.1,111.1 567.3,106.6 563.8,106.1 557.6,110.6" fill="#9cbf6f"/>
<polygon points="486.4,140.8 492.6,137 489.1,136.6 482.9,140.4" fill="#06a0cd"/>
<polygon points="570.9,107 577.1,102.5 573.6,102 567.3,106.6" fill="#b7bd64"/>
<polygon points="496.1,137.5 502.4,133.5 498.9,133.1 492.6,137" fill="#06a7c6"/>
<polygon points="505.9,134 512.2,130 508.7,129.5 502.4,133.5" fill="#0faeb9"/>
<polygon points="515.7,130.4 522,126.4 518.4,125.9 512.2,130" fill="#1db3af"/>
<polygon points="525.5,126.8 531.7,122.7 528.2,122.2 522,126.4" fill="#38b99e"/>
<polygon points="535.3,123.1 541.5,118.9 538,118.4 531.7,122.7" fill="#4dbc92"/>
<polygon points="460.5,151 466.8,147.4 463.3,146.9 457.4,150.3 457.3,150.6" fill="#1485d4"/>
<polygon points="545,119.3 551.3,115 547.8,114.6 541.5,118.9" fill="#71bf80"/>
<polygon points="470.3,147.8 476.6,144.1 473.1,143.7 466.8,147.4" fill="#108ed2"/>
<polygon points="554.8,115.5 561.1,111.1 557.6,110.6 551.3,115" fill="#87bf77"/>
<polygon points="480.1,144.6 486.4,140.8 482.9,140.4 476.6,144.1" fill="#0998d1"/>
<polygon points="564.6,111.5 570.9,107 567.3,106.6 561.1,111.1" fill="#a5be6b"/>
<polygon points="489.9,141.3 496.1,137.5 492.6,137 486.4,140.8" fill="#06a4ca"/>
<polygon points="499.7,137.9 505.9,134 502.4,133.5 496.1,137.5" fill="#07a9c2"/>
<polygon points="509.4,134.4 515.7,130.4 512.2,130 505.9,134" fill="#15b1b4"/>
<polygon points="519.2,130.9 525.5,126.8 522,126.4 515.7,130.4" fill="#25b5a9"/>
<polygon points="529,127.3 535.3,123.1 531.7,122.7 525.5,126.8" fill="#38b99e"/>
<polygon points="456.6,153.2 460.5,151 457.3,150.6" fill="#1481d6"/>
<polygon points="538.8,123.6 545,119.3 541.5,118.9 535.3,123.1" fill="#59bd8c"/>
<polygon points="464.1,151.4 470.3,147.8 466.8,147.4 460.5,151" fill="#1389d3"/>
<polygon points="548.6,119.8 554.8,115.5 551.3,115 545,119.3" fill="#7cbf7b"/>
<polygon points="473.8,148.3 480.1,144.6 476.6,144.1 470.3,147.8" fill="#0c93d2"/>
<polygon points="558.3,115.9 564.6,111.5 561.1,111.1 554.8,115.5" fill="#92bf73"/>
<polygon points="483.6,145.1 489.9,141.3 486.4,140.8 480.1,144.6" fill="#079ccf"/>
<polygon points="493.4,141.7 499.7,137.9 496.1,137.5 489.9,141.3" fill="#06a7c6"/>
<polygon points="503.2,138.4 509.4,134.4 505.9,134 499.7,137.9" fill="#0aacbe"/>
<polygon points="513,134.9 519.2,130.9 515.7,130.4 509.4,134.4" fill="#15b1b4"/>
<polygon points="522.7,131.4 529,127.3 525.5,126.8 519.2,130.9" fill="#2eb7a4"/>
<polygon points="532.5,127.7 538.8,123.6 535.3,123.1 529,127.3" fill="#42bb98"/>
<polygon points="457.8,154.9 464.1,151.4 460.5,151 456.6,153.2 456.2,154.7" fill="#1485d4"/>
<polygon points="542.3,124 548.6,119.8 545,119.3 538.8,123.6" fill="#65be86"/>
<polygon points="467.6,151.9 473.8,148.3 470.3,147.8 464.1,151.4" fill="#108ed2"/>
<polygon points="552.1,120.2 558.3,115.9 554.8,115.5 548.6,119.8" fill="#7cbf7b"/>
<polygon points="477.4,148.7 483.6,145.1 480.1,144.6 473.8,148.3" fill="#0998d1"/>
<polygon points="487.1,145.5 493.4,141.7 489.9,141.3 483.6,145.1" fill="#06a0cd"/>
<polygon points="496.9,142.2 503.2,138.4 499.7,137.9 493.4,141.7" fill="#07a9c2"/>
<polygon points="506.7,138.8 513,134.9 509.4,134.4 503.2,138.4" fill="#0faeb9"/>
<polygon points="516.5,135.4 522.7,131.4 519.2,130.9 513,134.9" fill="#1db3af"/>
<polygon points="526.3,131.8 532.5,127.7 529,127.3 522.7,131.4" fill="#38b99e"/>
<polygon points="455.8,156.1 457.8,154.9 456.2,154.7" fill="#127dd8"/>
<polygon points="536,128.2 542.3,124 538.8,123.6 532.5,127.7" fill="#4dbc92"/>
<polygon points="461.3,155.4 467.6,151.9 464.1,151.4 457.8,154.9" fill="#1389d3"/>
<polygon points="545.8,124.5 552.1,120.2 548.6,119.8 542.3,124" fill="#71bf80"/>
<polygon points="471.1,152.3 477.4,148.7 473.8,148.3 467.6,151.9" fill="#0c93d2"/>
<polygon points="480.9,149.2 487.1,145.5 483.6,145.1 477.4,148.7" fill="#079ccf"/>
<polygon points="490.7,146 496.9,142.2 493.4,141.7 487.1,145.5" fill="#06a4ca"/>
<polygon points="500.4,142.7 506.7,138.8 503.2,138.4 496.9,142.2" fill="#07a9c2"/>
<polygon points="510.2,139.3 516.5,135.4 513,134.9 506.7,138.8" fill="#15b1b4"/>
<polygon points="520,135.8 526.3,131.8 522.7,131.4 516.5,135.4" fill="#25b5a9"/>
<polygon points="529.8,132.3 536,128.2 532.5,127.7 526.3,131.8" fill="#42bb98"/>
<polygon points="455.1,158.8 461.3,155.4 457.8,154.9 455.8,156.1 454.9,158.8" fill="#1481d6"/>
<polygon points="539.5,128.6 545.8,124.5 542.3,124 536,128.2" fill="#59bd8c"/>
<polygon points="464.8,155.8 471.1,152.3 467.6,151.9 461.3,155.4" fill="#1389d3"/>
<polygon points="474.6,152.8 480.9,149.2 477.4,148.7 471.1,152.3" fill="#0998d1"/>
<polygon points="484.4,149.6 490.7,146 487.1,145.5 480.9,149.2" fill="#06a0cd"/>
<polygon points="494.2,146.4 500.4,142.7 496.9,142.2 490.7,146" fill="#06a7c6"/>
<polygon points="503.9,143.1 510.2,139.3 506.7,138.8 500.4,142.7" fill="#0aacbe"/>
<polygon points="513.7,139.7 520,135.8 516.5,135.4 510.2,139.3" fill="#1db3af"/>
<polygon points="523.5,136.3 529.8,132.3 526.3,131.8 520,135.8" fill="#2eb7a4"/>
<polygon points="454.8,159 455.1,158.8 454.9,158.8" fill="#127dd8"/>
<polygon points="533.3,132.7 539.5,128.6 536,128.2 529.8,132.3" fill="#42bb98"/>
<polygon points="458.6,159.3 464.8,155.8 461.3,155.4 455.1,158.8" fill="#1485d4"/>
<polygon points="468.3,156.3 474.6,152.8 471.1,152.3 464.8,155.8" fill="#108ed2"/>
<polygon points="478.1,153.2 484.4,149.6 480.9,149.2 474.6,152.8" fill="#0998d1"/>
<polygon points="487.9,150.1 494.2,146.4 490.7,146 484.4,149.6" fill="#06a4ca"/>
<polygon points="497.7,146.9 503.9,143.1 500.4,142.7 494.2,146.4" fill="#07a9c2"/>
<polygon points="507.5,143.6 513.7,139.7 510.2,139.3 503.9,143.1" fill="#0faeb9"/>
<polygon points="517.2,140.2 523.5,136.3 520,135.8 513.7,139.7" fill="#1db3af"/>
<polygon points="527,136.7 533.3,132.7 529.8,132.3 523.5,136.3" fill="#38b99e"/>
<polygon points="453.7,161.9 458.6,159.3 455.1,158.8 454.8,159" fill="#1481d6"/>
<polygon points="462.1,159.7 468.3,156.3 464.8,155.8 458.6,159.3" fill="#1389d3"/>
<polygon points="471.9,156.8 478.1,153.2 474.6,152.8 468.3,156.3" fill="#0c93d2"/>
<polygon points="481.6,153.7 487.9,150.1 484.4,149.6 478.1,153.2" fill="#079ccf"/>
<polygon points="491.4,150.5 497.7,146.9 494.2,146.4 487.9,150.1" fill="#06a4ca"/>
<polygon points="501.2,147.3 507.5,143.6 503.9,143.1 497.7,146.9" fill="#0aacbe"/>
<polygon points="511,144 517.2,140.2 513.7,139.7 507.5,143.6" fill="#15b1b4"/>
<polygon points="520.8,140.6 527,136.7 523.5,136.3 517.2,140.2" fill="#25b5a9"/>
<polygon points="455.8,163.1 462.1,159.7 458.6,159.3 453.7,161.9 453.4,162.8" fill="#1485d4"/>
<polygon points="465.6,160.2 471.9,156.8 468.3,156.3 462.1,159.7" fill="#108ed2"/>
<polygon points="475.4,157.2 481.6,153.7 478.1,153.2 471.9,156.8" fill="#0998d1"/>
<polygon points="485.2,154.1 491.4,150.5 487.9,150.1 481.6,153.7" fill="#06a0cd"/>
<polygon points="494.9,151 501.2,147.3 497.7,146.9 491.4,150.5" fill="#06a7c6"/>
<polygon points="504.7,147.8 511,144 507.5,143.6 501.2,147.3" fill="#0faeb9"/>
<polygon points="514.5,144.5 520.8,140.6 517.2,140.2 511,144" fill="#1db3af"/>
<polygon points="459.3,163.6 465.6,160.2 462.1,159.7 455.8,163.1" fill="#1389d3"/>
<polygon points="469.1,160.6 475.4,157.2 471.9,156.8 465.6,160.2" fill="#0c93d2"/>
<polygon points="478.9,157.7 485.2,154.1 481.6,153.7 475.4,157.2" fill="#079ccf"/>
<polygon points="488.7,154.6 494.9,151 491.4,150.5 485.2,154.1" fill="#06a4ca"/>
<polygon points="498.5,151.5 504.7,147.8 501.2,147.3 494.9,151" fill="#07a9c2"/>
<polygon points="508.2,148.2 514.5,144.5 511,144 504.7,147.8" fill="#0faeb9"/>
<polygon points="462.9,164 469.1,160.6 465.6,160.2 459.3,163.6" fill="#108ed2"/>
<polygon points="472.6,161.1 478.9,157.7 475.4,157.2 469.1,160.6" fill="#0998d1"/>
<polygon points="482.4,158.1 488.7,154.6 485.2,154.1 478.9,157.7" fill="#06a0cd"/>
<polygon points="492.2,155 498.5,151.5 494.9,151 488.7,154.6" fill="#06a7c6"/>
<polygon points="502,151.9 508.2,148.2 504.7,147.8 498.5,151.5" fill="#0aacbe"/>
<polygon points="466.4,164.5 472.6,161.1 469.1,160.6 462.9,164" fill="#108ed2"/>
<polygon points="476.2,161.6 482.4,158.1 478.9,157.7 472.6,161.1" fill="#079ccf"/>
<polygon points="485.9,158.6 492.2,155 488.7,154.6 482.4,158.1" fill="#06a4ca"/>
<polygon points="495.7,155.5 502,151.9 498.5,151.5 492.2,155" fill="#07a9c2"/>
<polygon points="469.9,164.9 476.2,161.6 472.6,161.1 466.4,164.5" fill="#0c93d2"/>
<polygon points="479.7,162 485.9,158.6 482.4,158.1 476.2,161.6" fill="#079ccf"/>
<polygon points="489.4,159 495.7,155.5 492.2,155 485.9,158.6" fill="#06a4ca"/>
<polygon points="473.4,165.4 479.7,162 476.2,161.6 469.9,164.9" fill="#0998d1"/>
<polygon points="483.2,162.5 489.4,159 485.9,158.6 479.7,162" fill="#06a0cd"/>
<polygon points="476.9,165.8 483.2,162.5 479.7,162 473.4,165.4" fill="#079ccf"/>
</g>
<text x="38.4" y="48.9" style="font-family:'Liberation Sans',sans-serif;font-size:12.6px;" text-anchor="end">135</text>
<text x="38.4" y="92.7" style="font-family:'Liberation Sans',sans-serif;font-size:12.6px;" text-anchor="end">130</text>
<text x="38.4" y="136.5" style="font-family:'Liberation Sans',sans-serif;font-size:12.6px;" text-anchor="end">125</text>
<text x="38.4" y="180.7" style="font-family:'Liberation Sans',sans-serif;font-size:12.6px;" text-anchor="end">120</text>
<text x="37" y="193.8" style="font-family:'Liberation Sans',sans-serif;font-size:12.6px;" text-anchor="end">10</text>
<text x="79.2" y="215.8" style="font-family:'Liberation Sans',sans-serif;font-size:12.6px;" text-anchor="end">8</text>
<text x="120.3" y="237.6" style="font-family:'Liberation Sans',sans-serif;font-size:12.6px;" text-anchor="end">6</text>
<text x="163.3" y="250" style="font-family:'Liberation Sans',sans-serif;font-size:12.6px;" text-anchor="middle">0.2</text>
<text x="212.1" y="237.1" style="font-family:'Liberation Sans',sans-serif;font-size:12.6px;" text-anchor="middle">0.4</text>
<text x="261" y="223.9" style="font-family:'Liberation Sans',sans-serif;font-size:12.6px;" text-anchor="middle">0.6</text>
<text x="309.7" y="211.6" style="font-family:'Liberation Sans',sans-serif;font-size:12.6px;" text-anchor="middle">0.8</text>
<text x="81.5" y="252.2" style="font-family:'Liberation Serif',sans-serif;font-size:14.5px;font-style:italic" text-anchor="start">F</text>
<text x="224.2" y="256.5" style="font-family:'Liberation Serif',sans-serif;font-size:14.5px;font-style:italic" text-anchor="start">k</text>
<text x="382.6" y="47.9" style="font-family:'Liberation Serif',sans-serif;font-size:13.2px;" text-anchor="end">75</text>
<text x="382.6" y="81.2" style="font-family:'Liberation Serif',sans-serif;font-size:13.2px;" text-anchor="end">70</text>
<text x="382.6" y="114.5" style="font-family:'Liberation Serif',sans-serif;font-size:13.2px;" text-anchor="end">65</text>
<text x="382.6" y="147.8" style="font-family:'Liberation Serif',sans-serif;font-size:13.2px;" text-anchor="end">60</text>
<text x="382.6" y="181.1" style="font-family:'Liberation Serif',sans-serif;font-size:13.2px;" text-anchor="end">55</text>
<text x="382.3" y="193.6" style="font-family:'Liberation Serif',sans-serif;font-size:13.2px;" text-anchor="end">10</text>
<text x="417.6" y="212" style="font-family:'Liberation Serif',sans-serif;font-size:13.2px;" text-anchor="end">8</text>
<text x="452.6" y="229.7" style="font-family:'Liberation Serif',sans-serif;font-size:13.2px;" text-anchor="end">6</text>
<text x="486.6" y="247.4" style="font-family:'Liberation Serif',sans-serif;font-size:13.2px;" text-anchor="end">4</text>
<text x="508.3" y="249" style="font-family:'Liberation Serif',sans-serif;font-size:13.2px;" text-anchor="middle">0.2</text>
<text x="558.8" y="236.5" style="font-family:'Liberation Serif',sans-serif;font-size:13.2px;" text-anchor="middle">0.4</text>
<text x="609.8" y="224" style="font-family:'Liberation Serif',sans-serif;font-size:13.2px;" text-anchor="middle">0.6</text>
<text x="659.8" y="211.5" style="font-family:'Liberation Serif',sans-serif;font-size:13.2px;" text-anchor="middle">0.8</text>
<text x="427.8" y="251.6" style="font-family:'Liberation Serif',sans-serif;font-size:14.5px;font-style:italic" text-anchor="start">F</text>
<text x="569.4" y="256" style="font-family:'Liberation Serif',sans-serif;font-size:14.5px;font-style:italic" text-anchor="start">k</text>
<g transform="translate(6.4,119.1) rotate(-90)"><text x="0" y="0" style="font-family:'Liberation Serif',serif;font-size:14px">&#960;</text></g><g transform="translate(13.2,111.9) rotate(-90)"><text x="0" y="0" style="font-family:'Liberation Serif',serif;font-size:11.3px;font-style:italic">M</text></g>
<g transform="translate(359,118.8) rotate(-90)"><text x="0" y="0" style="font-family:'Liberation Serif',serif;font-size:14px">&#960;</text></g><g transform="translate(365.8,112) rotate(-90)"><text x="0" y="0" style="font-family:'Liberation Serif',serif;font-size:11.3px;font-style:italic">M</text></g>
<defs><linearGradient id="cbg1" x1="0" y1="0" x2="0" y2="1"><stop offset="0" stop-color="#f9fb0e"/><stop offset="0.02" stop-color="#f9fb0e"/><stop offset="0.02" stop-color="#f6f313"/><stop offset="0.03" stop-color="#f6f313"/><stop offset="0.03" stop-color="#f5eb18"/><stop offset="0.05" stop-color="#f5eb18"/><stop offset="0.05" stop-color="#f5e41d"/><stop offset="0.06" stop-color="#f5e41d"/><stop offset="0.06" stop-color="#f5de21"/><stop offset="0.08" stop-color="#f5de21"/><stop offset="0.08" stop-color="#f7d826"/><stop offset="0.09" stop-color="#f7d826"/><stop offset="0.09" stop-color="#fad32a"/><stop offset="0.11" stop-color="#fad32a"/><stop offset="0.11" stop-color="#fcce2e"/><stop offset="0.12" stop-color="#fcce2e"/><stop offset="0.12" stop-color="#fec832"/><stop offset="0.14" stop-color="#fec832"/><stop offset="0.14" stop-color="#ffc337"/><stop offset="0.16" stop-color="#ffc337"/><stop offset="0.16" stop-color="#fdbe3d"/><stop offset="0.17" stop-color="#fdbe3d"/><stop offset="0.17" stop-color="#f8bb44"/><stop offset="0.19" stop-color="#f8bb44"/><stop offset="0.19" stop-color="#f1b94a"/><stop offset="0.2" stop-color="#f1b94a"/><stop offset="0.2" stop-color="#e9b94e"/><stop offset="0.22" stop-color="#e9b94e"/><stop offset="0.22" stop-color="#e1b952"/><stop offset="0.23" stop-color="#e1b952"/><stop offset="0.23" stop-color="#d9ba56"/><stop offset="0.25" stop-color="#d9ba56"/><stop offset="0.25" stop-color="#d1bb59"/><stop offset="0.27" stop-color="#d1bb59"/><stop offset="0.27" stop-color="#c8bc5d"/><stop offset="0.28" stop-color="#c8bc5d"/><stop offset="0.28" stop-color="#c0bc60"/><stop offset="0.3" stop-color="#c0bc60"/><stop offset="0.3" stop-color="#b7bd64"/><stop offset="0.31" stop-color="#b7bd64"/><stop offset="0.31" stop-color="#aebe67"/><stop offset="0.33" stop-color="#aebe67"/><stop offset="0.33" stop-color="#a5be6b"/><stop offset="0.34" stop-color="#a5be6b"/><stop offset="0.34" stop-color="#9cbf6f"/><stop offset="0.36" stop-color="#9cbf6f"/><stop offset="0.36" stop-color="#92bf73"/><stop offset="0.38" stop-color="#92bf73"/><stop offset="0.38" stop-color="#87bf77"/><stop offset="0.39" stop-color="#87bf77"/><stop offset="0.39" stop-color="#7cbf7b"/><stop offset="0.41" stop-color="#7cbf7b"/><stop offset="0.41" stop-color="#71bf80"/><stop offset="0.42" stop-color="#71bf80"/><stop offset="0.42" stop-color="#65be86"/><stop offset="0.44" stop-color="#65be86"/><stop offset="0.44" stop-color="#59bd8c"/><stop offset="0.45" stop-color="#59bd8c"/><stop offset="0.45" stop-color="#4dbc92"/><stop offset="0.47" stop-color="#4dbc92"/><stop offset="0.47" stop-color="#42bb98"/><stop offset="0.48" stop-color="#42bb98"/><stop offset="0.48" stop-color="#38b99e"/><stop offset="0.5" stop-color="#38b99e"/><stop offset="0.5" stop-color="#2eb7a4"/><stop offset="0.52" stop-color="#2eb7a4"/><stop offset="0.52" stop-color="#25b5a9"/><stop offset="0.53" stop-color="#25b5a9"/><stop offset="0.53" stop-color="#1db3af"/><stop offset="0.55" stop-color="#1db3af"/><stop offset="0.55" stop-color="#15b1b4"/><stop offset="0.56" stop-color="#15b1b4"/><stop offset="0.56" stop-color="#0faeb9"/><stop offset="0.58" stop-color="#0faeb9"/><stop offset="0.58" stop-color="#0aacbe"/><stop offset="0.59" stop-color="#0aacbe"/><stop offset="0.59" stop-color="#07a9c2"/><stop offset="0.61" stop-color="#07a9c2"/><stop offset="0.61" stop-color="#06a7c6"/><stop offset="0.62" stop-color="#06a7c6"/><stop offset="0.62" stop-color="#06a4ca"/><stop offset="0.64" stop-color="#06a4ca"/><stop offset="0.64" stop-color="#06a0cd"/><stop offset="0.66" stop-color="#06a0cd"/><stop offset="0.66" stop-color="#079ccf"/><stop offset="0.67" stop-color="#079ccf"/><stop offset="0.67" stop-color="#0998d1"/><stop offset="0.69" stop-color="#0998d1"/><stop offset="0.69" stop-color="#0c93d2"/><stop offset="0.7" stop-color="#0c93d2"/><stop offset="0.7" stop-color="#108ed2"/><stop offset="0.72" stop-color="#108ed2"/><stop offset="0.72" stop-color="#1389d3"/><stop offset="0.73" stop-color="#1389d3"/><stop offset="0.73" stop-color="#1485d4"/><stop offset="0.75" stop-color="#1485d4"/><stop offset="0.75" stop-color="#1481d6"/><stop offset="0.77" stop-color="#1481d6"/><stop offset="0.77" stop-color="#127dd8"/><stop offset="0.78" stop-color="#127dd8"/><stop offset="0.78" stop-color="#1079da"/><stop offset="0.8" stop-color="#1079da"/><stop offset="0.8" stop-color="#0d75dc"/><stop offset="0.81" stop-color="#0d75dc"/><stop offset="0.81" stop-color="#0871de"/><stop offset="0.83" stop-color="#0871de"/><stop offset="0.83" stop-color="#046de0"/><stop offset="0.84" stop-color="#046de0"/><stop offset="0.84" stop-color="#0268e1"/><stop offset="0.86" stop-color="#0268e1"/><stop offset="0.86" stop-color="#0363e1"/><stop offset="0.88" stop-color="#0363e1"/><stop offset="0.88" stop-color="#0f5cdd"/><stop offset="0.89" stop-color="#0f5cdd"/><stop offset="0.89" stop-color="#2053d4"/><stop offset="0.91" stop-color="#2053d4"/><stop offset="0.91" stop-color="#2c4ac7"/><stop offset="0.92" stop-color="#2c4ac7"/><stop offset="0.92" stop-color="#3243ba"/><stop offset="0.94" stop-color="#3243ba"/><stop offset="0.94" stop-color="#353dad"/><stop offset="0.95" stop-color="#353dad"/><stop offset="0.95" stop-color="#3637a0"/><stop offset="0.97" stop-color="#3637a0"/><stop offset="0.97" stop-color="#363093"/><stop offset="0.98" stop-color="#363093"/><stop offset="0.98" stop-color="#352a87"/><stop offset="1" stop-color="#352a87"/></linearGradient></defs>
<rect x="310.4" y="9" width="10.2" height="224.9" fill="url(#cbg1)"/>
<rect x="310.4" y="9" width="10.2" height="224.9" fill="none" stroke="#262626" stroke-width="0.8"/>
<line x1="318" y1="215.27" x2="320.6" y2="215.27" stroke="#262626" stroke-width="0.8"/>
<line x1="318" y1="181.4" x2="320.6" y2="181.4" stroke="#262626" stroke-width="0.8"/>
<line x1="318" y1="147.53" x2="320.6" y2="147.53" stroke="#262626" stroke-width="0.8"/>
<line x1="318" y1="113.66" x2="320.6" y2="113.66" stroke="#262626" stroke-width="0.8"/>
<line x1="318" y1="79.79" x2="320.6" y2="79.79" stroke="#262626" stroke-width="0.8"/>
<line x1="318" y1="45.92" x2="320.6" y2="45.92" stroke="#262626" stroke-width="0.8"/>
<line x1="318" y1="12.05" x2="320.6" y2="12.05" stroke="#262626" stroke-width="0.8"/>
<defs><linearGradient id="cbg2" x1="0" y1="0" x2="0" y2="1"><stop offset="0" stop-color="#f9fb0e"/><stop offset="0.02" stop-color="#f9fb0e"/><stop offset="0.02" stop-color="#f6f313"/><stop offset="0.03" stop-color="#f6f313"/><stop offset="0.03" stop-color="#f5eb18"/><stop offset="0.05" stop-color="#f5eb18"/><stop offset="0.05" stop-color="#f5e41d"/><stop offset="0.06" stop-color="#f5e41d"/><stop offset="0.06" stop-color="#f5de21"/><stop offset="0.08" stop-color="#f5de21"/><stop offset="0.08" stop-color="#f7d826"/><stop offset="0.09" stop-color="#f7d826"/><stop offset="0.09" stop-color="#fad32a"/><stop offset="0.11" stop-color="#fad32a"/><stop offset="0.11" stop-color="#fcce2e"/><stop offset="0.12" stop-color="#fcce2e"/><stop offset="0.12" stop-color="#fec832"/><stop offset="0.14" stop-color="#fec832"/><stop offset="0.14" stop-color="#ffc337"/><stop offset="0.16" stop-color="#ffc337"/><stop offset="0.16" stop-color="#fdbe3d"/><stop offset="0.17" stop-color="#fdbe3d"/><stop offset="0.17" stop-color="#f8bb44"/><stop offset="0.19" stop-color="#f8bb44"/><stop offset="0.19" stop-color="#f1b94a"/><stop offset="0.2" stop-color="#f1b94a"/><stop offset="0.2" stop-color="#e9b94e"/><stop offset="0.22" stop-color="#e9b94e"/><stop offset="0.22" stop-color="#e1b952"/><stop offset="0.23" stop-color="#e1b952"/><stop offset="0.23" stop-color="#d9ba56"/><stop offset="0.25" stop-color="#d9ba56"/><stop offset="0.25" stop-color="#d1bb59"/><stop offset="0.27" stop-color="#d1bb59"/><stop offset="0.27" stop-color="#c8bc5d"/><stop offset="0.28" stop-color="#c8bc5d"/><stop offset="0.28" stop-color="#c0bc60"/><stop offset="0.3" stop-color="#c0bc60"/><stop offset="0.3" stop-color="#b7bd64"/><stop offset="0.31" stop-color="#b7bd64"/><stop offset="0.31" stop-color="#aebe67"/><stop offset="0.33" stop-color="#aebe67"/><stop offset="0.33" stop-color="#a5be6b"/><stop offset="0.34" stop-color="#a5be6b"/><stop offset="0.34" stop-color="#9cbf6f"/><stop offset="0.36" stop-color="#9cbf6f"/><stop offset="0.36" stop-color="#92bf73"/><stop offset="0.38" stop-color="#92bf73"/><stop offset="0.38" stop-color="#87bf77"/><stop offset="0.39" stop-color="#87bf77"/><stop offset="0.39" stop-color="#7cbf7b"/><stop offset="0.41" stop-color="#7cbf7b"/><stop offset="0.41" stop-color="#71bf80"/><stop offset="0.42" stop-color="#71bf80"/><stop offset="0.42" stop-color="#65be86"/><stop offset="0.44" stop-color="#65be86"/><stop offset="0.44" stop-color="#59bd8c"/><stop offset="0.45" stop-color="#59bd8c"/><stop offset="0.45" stop-color="#4dbc92"/><stop offset="0.47" stop-color="#4dbc92"/><stop offset="0.47" stop-color="#42bb98"/><stop offset="0.48" stop-color="#42bb98"/><stop offset="0.48" stop-color="#38b99e"/><stop offset="0.5" stop-color="#38b99e"/><stop offset="0.5" stop-color="#2eb7a4"/><stop offset="0.52" stop-color="#2eb7a4"/><stop offset="0.52" stop-color="#25b5a9"/><stop offset="0.53" stop-color="#25b5a9"/><stop offset="0.53" stop-color="#1db3af"/><stop offset="0.55" stop-color="#1db3af"/><stop offset="0.55" stop-color="#15b1b4"/><stop offset="0.56" stop-color="#15b1b4"/><stop offset="0.56" stop-color="#0faeb9"/><stop offset="0.58" stop-color="#0faeb9"/><stop offset="0.58" stop-color="#0aacbe"/><stop offset="0.59" stop-color="#0aacbe"/><stop offset="0.59" stop-color="#07a9c2"/><stop offset="0.61" stop-color="#07a9c2"/><stop offset="0.61" stop-color="#06a7c6"/><stop offset="0.62" stop-color="#06a7c6"/><stop offset="0.62" stop-color="#06a4ca"/><stop offset="0.64" stop-color="#06a4ca"/><stop offset="0.64" stop-color="#06a0cd"/><stop offset="0.66" stop-color="#06a0cd"/><stop offset="0.66" stop-color="#079ccf"/><stop offset="0.67" stop-color="#079ccf"/><stop offset="0.67" stop-color="#0998d1"/><stop offset="0.69" stop-color="#0998d1"/><stop offset="0.69" stop-color="#0c93d2"/><stop offset="0.7" stop-color="#0c93d2"/><stop offset="0.7" stop-color="#108ed2"/><stop offset="0.72" stop-color="#108ed2"/><stop offset="0.72" stop-color="#1389d3"/><stop offset="0.73" stop-color="#1389d3"/><stop offset="0.73" stop-color="#1485d4"/><stop offset="0.75" stop-color="#1485d4"/><stop offset="0.75" stop-color="#1481d6"/><stop offset="0.77" stop-color="#1481d6"/><stop offset="0.77" stop-color="#127dd8"/><stop offset="0.78" stop-color="#127dd8"/><stop offset="0.78" stop-color="#1079da"/><stop offset="0.8" stop-color="#1079da"/><stop offset="0.8" stop-color="#0d75dc"/><stop offset="0.81" stop-color="#0d75dc"/><stop offset="0.81" stop-color="#0871de"/><stop offset="0.83" stop-color="#0871de"/><stop offset="0.83" stop-color="#046de0"/><stop offset="0.84" stop-color="#046de0"/><stop offset="0.84" stop-color="#0268e1"/><stop offset="0.86" stop-color="#0268e1"/><stop offset="0.86" stop-color="#0363e1"/><stop offset="0.88" stop-color="#0363e1"/><stop offset="0.88" stop-color="#0f5cdd"/><stop offset="0.89" stop-color="#0f5cdd"/><stop offset="0.89" stop-color="#2053d4"/><stop offset="0.91" stop-color="#2053d4"/><stop offset="0.91" stop-color="#2c4ac7"/><stop offset="0.92" stop-color="#2c4ac7"/><stop offset="0.92" stop-color="#3243ba"/><stop offset="0.94" stop-color="#3243ba"/><stop offset="0.94" stop-color="#353dad"/><stop offset="0.95" stop-color="#353dad"/><stop offset="0.95" stop-color="#3637a0"/><stop offset="0.97" stop-color="#3637a0"/><stop offset="0.97" stop-color="#363093"/><stop offset="0.98" stop-color="#363093"/><stop offset="0.98" stop-color="#352a87"/><stop offset="1" stop-color="#352a87"/></linearGradient></defs>
<rect x="660.3" y="5.9" width="10.3" height="224.7" fill="url(#cbg2)"/>
<rect x="660.3" y="5.9" width="10.3" height="224.7" fill="none" stroke="#262626" stroke-width="0.8"/>
<line x1="668" y1="211.52" x2="670.6" y2="211.52" stroke="#262626" stroke-width="0.8"/>
<line x1="668" y1="181.22" x2="670.6" y2="181.22" stroke="#262626" stroke-width="0.8"/>
<line x1="668" y1="150.93" x2="670.6" y2="150.93" stroke="#262626" stroke-width="0.8"/>
<line x1="668" y1="120.64" x2="670.6" y2="120.64" stroke="#262626" stroke-width="0.8"/>
<line x1="668" y1="90.34" x2="670.6" y2="90.34" stroke="#262626" stroke-width="0.8"/>
<line x1="668" y1="60.05" x2="670.6" y2="60.05" stroke="#262626" stroke-width="0.8"/>
<line x1="668" y1="29.76" x2="670.6" y2="29.76" stroke="#262626" stroke-width="0.8"/>
<text x="323.8" y="219.27" style="font-family:'Liberation Sans',sans-serif;font-size:11px;" text-anchor="start">122</text>
<text x="323.8" y="185.4" style="font-family:'Liberation Sans',sans-serif;font-size:11px;" text-anchor="start">124</text>
<text x="323.8" y="151.53" style="font-family:'Liberation Sans',sans-serif;font-size:11px;" text-anchor="start">126</text>
<text x="323.8" y="117.66" style="font-family:'Liberation Sans',sans-serif;font-size:11px;" text-anchor="start">128</text>
<text x="323.8" y="83.79" style="font-family:'Liberation Sans',sans-serif;font-size:11px;" text-anchor="start">130</text>
<text x="323.8" y="49.92" style="font-family:'Liberation Sans',sans-serif;font-size:11px;" text-anchor="start">132</text>
<text x="323.8" y="16.05" style="font-family:'Liberation Sans',sans-serif;font-size:11px;" text-anchor="start">134</text>
<text x="673.6" y="215.82" style="font-family:'Liberation Serif',sans-serif;font-size:11.5px;" text-anchor="start">60</text>
<text x="673.6" y="185.52" style="font-family:'Liberation Serif',sans-serif;font-size:11.5px;" text-anchor="start">62</text>
<text x="673.6" y="155.23" style="font-family:'Liberation Serif',sans-serif;font-size:11.5px;" text-anchor="start">64</text>
<text x="673.6" y="124.94" style="font-family:'Liberation Serif',sans-serif;font-size:11.5px;" text-anchor="start">66</text>
<text x="673.6" y="94.64" style="font-family:'Liberation Serif',sans-serif;font-size:11.5px;" text-anchor="start">68</text>
<text x="673.6" y="64.35" style="font-family:'Liberation Serif',sans-serif;font-size:11.5px;" text-anchor="start">70</text>
<text x="673.6" y="34.06" style="font-family:'Liberation Serif',sans-serif;font-size:11.5px;" text-anchor="start">72</text>
<rect x="259.6" y="0.7" width="37.5" height="40.9" fill="#fff" stroke="#262626" stroke-width="0.75"/>
<rect x="261.1" y="3.15" width="12.3" height="15.45" fill="#108ed2" stroke="#000" stroke-width="0.7"/>
<text x="277.2" y="14.6" style="font-family:'Liberation Serif',serif;font-size:11.3px">&#960;</text>
<text x="284.1" y="9.4" style="font-family:'Liberation Serif',serif;font-size:7.8px;font-style:italic">MI</text>
<text x="283.7" y="20" style="font-family:'Liberation Serif',serif;font-size:7.8px;font-style:italic">M</text>
<rect x="261.1" y="23.2" width="12.3" height="15.45" fill="#22b4a8" stroke="#000" stroke-width="0.7"/>
<text x="277.2" y="34.65" style="font-family:'Liberation Serif',serif;font-size:11.3px">&#960;</text>
<text x="284.1" y="29.45" style="font-family:'Liberation Serif',serif;font-size:7.8px;font-style:italic">MN</text>
<text x="283.7" y="40.05" style="font-family:'Liberation Serif',serif;font-size:7.8px;font-style:italic">M</text>
<rect x="591.2" y="1.4" width="35.2" height="41.6" fill="#fff" stroke="#262626" stroke-width="0.75"/>
<rect x="592.6" y="4.3" width="12.2" height="15.8" fill="#1479d6" stroke="#000" stroke-width="0.7"/>
<text x="608.4" y="16.1" style="font-family:'Liberation Serif',serif;font-size:11.5px">&#960;</text>
<text x="614.8" y="10.8" style="font-family:'Liberation Serif',serif;font-size:8.3px;font-style:italic">RI</text>
<text x="614.8" y="20.5" style="font-family:'Liberation Serif',serif;font-size:8.3px;font-style:italic">M</text>
<rect x="592.6" y="24.6" width="12.2" height="15.8" fill="#22b4ac" stroke="#000" stroke-width="0.7"/>
<text x="608.4" y="36.4" style="font-family:'Liberation Serif',serif;font-size:11.5px">&#960;</text>
<text x="614.8" y="31.1" style="font-family:'Liberation Serif',serif;font-size:8.3px;font-style:italic">RN</text>
<text x="614.8" y="40.8" style="font-family:'Liberation Serif',serif;font-size:8.3px;font-style:italic">M</text>
</svg>
</body></html>
